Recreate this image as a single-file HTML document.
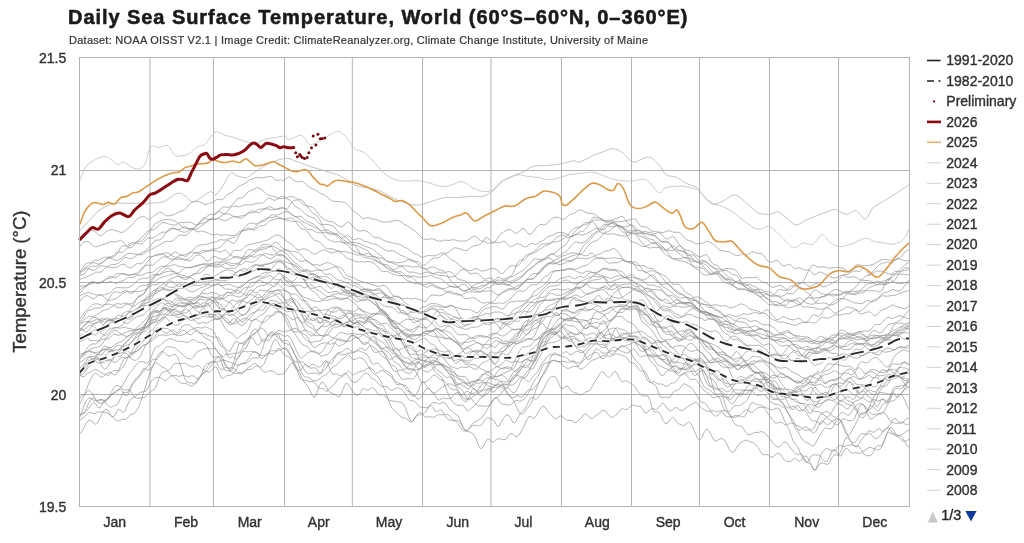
<!DOCTYPE html><html><head><meta charset="utf-8"><style>html,body{margin:0;padding:0;background:#fff}svg{display:block;filter:blur(0.3px)}</style></head><body><svg width="1024" height="543" viewBox="0 0 1024 543">
<rect width="1024" height="543" fill="#fff"/>
<text x="68" y="24.2" font-family="Liberation Sans, Arial, sans-serif" font-weight="bold" font-size="20" fill="#1a1a1a" stroke="#1a1a1a" stroke-width="0.55" textLength="619.5" lengthAdjust="spacing">Daily Sea Surface Temperature, World (60°S–60°N, 0–360°E)</text>
<text x="69" y="44.3" font-family="Liberation Sans, Arial, sans-serif" font-size="11" fill="#333" stroke="#333" stroke-width="0.2" textLength="579" lengthAdjust="spacing">Dataset: NOAA OISST V2.1 | Image Credit: ClimateReanalyzer.org, Climate Change Institute, University of Maine</text>
<defs><clipPath id="c"><rect x="79.5" y="57.5" width="830.0" height="449.0"/></clipPath></defs>
<path d="M150.0 57.5V506.5M213.5 57.5V506.5M284.5 57.5V506.5M352.3 57.5V506.5M422.5 57.5V506.5M491.0 57.5V506.5M561.5 57.5V506.5M631.5 57.5V506.5M699.5 57.5V506.5M769.5 57.5V506.5M838.5 57.5V506.5M79.5 170.50H909.5M79.5 282.50H909.5M79.5 394.50H909.5" stroke="#b4b4b4" stroke-width="1" fill="none"/>
<g clip-path="url(#c)" fill="none" stroke="#8c8c8c" stroke-width="0.65" stroke-linejoin="round">
<path d="M79.5 420.5L81.8 418.7L84.1 417.3L86.3 415.1L88.6 412.5L90.9 412.7L93.2 413.6L95.5 413.2L97.7 412.1L100.0 411.9L102.3 412.1L104.6 412.3L106.9 412.6L109.1 414.1L111.4 416.5L113.7 416.6L116.0 413.2L118.3 409.4L120.5 409.8L122.8 412.7L125.1 411.1L127.4 405.0L129.7 400.2L131.9 398.4L134.2 397.5L136.5 395.6L138.8 393.5L141.1 392.1L143.3 391.8L145.6 391.2L147.9 388.0L150.2 383.4L152.5 379.7L154.7 378.1L157.0 377.5L159.3 377.2L161.6 378.3L163.9 380.2L166.1 380.4L168.4 378.3L170.7 376.1L173.0 376.1L175.3 377.7L177.5 380.0L179.8 382.3L182.1 383.6L184.4 383.3L186.7 383.7L189.0 385.3L191.2 386.1L193.5 385.2L195.8 383.4L198.1 380.5L200.4 376.8L202.6 374.1L204.9 372.6L207.2 370.8L209.5 367.9L211.8 364.9L214.0 361.8L216.3 358.4L218.6 356.9L220.9 357.6L223.2 360.9L225.4 365.5L227.7 367.8L230.0 368.0L232.3 367.7L234.6 369.0L236.8 371.5L239.1 373.7L241.4 374.0L243.7 372.4L246.0 369.6L248.2 367.5L250.5 366.0L252.8 364.1L255.1 363.6L257.4 365.0L259.6 366.9L261.9 366.5L264.2 363.6L266.5 357.8L268.8 352.6L271.0 350.7L273.3 350.9L275.6 351.1L277.9 350.6L280.2 349.9L282.4 349.0L284.7 347.8L287.0 348.4L289.3 352.2L291.6 357.3L293.8 360.8L296.1 361.9L298.4 361.9L300.7 361.8L303.0 362.1L305.2 364.1L307.5 366.7L309.8 366.2L312.1 364.2L314.4 364.6L316.6 366.3L318.9 367.2L321.2 366.2L323.5 362.4L325.8 360.1L328.0 363.6L330.3 370.4L332.6 374.2L334.9 374.1L337.2 373.9L339.4 375.5L341.7 375.5L344.0 373.7L346.3 373.6L348.6 376.5L350.8 380.2L353.1 382.1L355.4 382.4L357.7 381.2L360.0 378.5L362.2 376.1L364.5 373.8L366.8 372.8L369.1 375.2L371.4 378.4L373.6 379.1L375.9 380.3L378.2 383.4L380.5 385.9L382.8 386.6L385.0 386.3L387.3 386.9L389.6 389.4L391.9 390.4L394.2 389.1L396.5 388.0L398.7 387.9L401.0 389.0L403.3 390.9L405.6 394.4L407.9 398.5L410.1 400.4L412.4 400.6L414.7 401.5L417.0 403.7L419.3 406.5L421.5 407.6L423.8 407.3L426.1 407.9L428.4 407.3L430.7 405.5L432.9 407.3L435.2 411.3L437.5 411.3L439.8 409.4L442.1 410.6L444.3 414.4L446.6 417.8L448.9 419.8L451.2 420.4L453.5 420.3L455.7 420.9L458.0 423.6L460.3 427.5L462.6 430.2L464.9 431.1L467.1 430.6L469.4 428.0L471.7 424.5L474.0 422.4L476.3 421.1L478.5 419.8L480.8 418.3L483.1 416.1L485.4 412.7L487.7 409.0L489.9 404.9L492.2 400.8L494.5 398.5L496.8 397.6L499.1 395.9L501.3 393.1L503.6 390.4L505.9 388.2L508.2 387.9L510.5 390.3L512.7 392.7L515.0 392.4L517.3 389.2L519.6 383.6L521.9 378.9L524.1 377.4L526.4 376.8L528.7 372.8L531.0 366.9L533.3 362.6L535.5 358.5L537.8 352.8L540.1 347.8L542.4 345.6L544.7 344.9L546.9 343.8L549.2 342.7L551.5 342.6L553.8 342.5L556.1 341.8L558.3 340.7L560.6 339.0L562.9 336.9L565.2 336.3L567.5 338.0L569.7 339.5L572.0 339.2L574.3 338.5L576.6 339.3L578.9 342.2L581.1 345.5L583.4 347.0L585.7 345.9L588.0 343.9L590.3 343.7L592.5 344.1L594.8 343.5L597.1 342.0L599.4 341.4L601.7 342.3L604.0 343.8L606.2 344.4L608.5 342.5L610.8 340.5L613.1 340.4L615.4 339.5L617.6 337.5L619.9 336.5L622.2 335.5L624.5 334.0L626.8 332.9L629.0 333.1L631.3 333.6L633.6 332.9L635.9 332.2L638.2 331.9L640.4 331.4L642.7 331.7L645.0 333.5L647.3 335.7L649.6 337.0L651.8 338.0L654.1 340.1L656.4 343.8L658.7 348.3L661.0 352.0L663.2 354.9L665.5 357.6L667.8 359.3L670.1 360.7L672.4 362.5L674.6 363.5L676.9 361.8L679.2 358.0L681.5 354.8L683.8 354.0L686.0 355.2L688.3 357.0L690.6 358.0L692.9 358.8L695.2 359.5L697.4 360.5L699.7 363.5L702.0 370.0L704.3 377.5L706.6 383.0L708.8 386.0L711.1 386.3L713.4 385.8L715.7 387.6L718.0 389.4L720.2 388.8L722.5 388.5L724.8 390.4L727.1 391.9L729.4 391.2L731.6 388.7L733.9 385.4L736.2 382.6L738.5 380.6L740.8 379.5L743.0 379.7L745.3 381.5L747.6 383.1L749.9 382.3L752.2 380.4L754.4 379.1L756.7 378.8L759.0 379.3L761.3 379.6L763.6 379.0L765.8 379.7L768.1 381.4L770.4 383.3L772.7 386.5L775.0 391.8L777.2 397.0L779.5 399.2L781.8 399.4L784.1 398.9L786.4 397.7L788.6 397.5L790.9 399.1L793.2 399.5L795.5 399.1L797.8 401.0L800.0 403.2L802.3 403.4L804.6 403.6L806.9 404.7L809.2 406.5L811.5 409.2L813.7 411.4L816.0 411.4L818.3 411.6L820.6 412.9L822.9 413.2L825.1 411.9L827.4 411.5L829.7 413.3L832.0 415.5L834.3 417.0L836.5 417.2L838.8 415.3L841.1 413.0L843.4 412.4L845.7 413.8L847.9 415.5L850.2 414.2L852.5 410.6L854.8 407.0L857.1 404.8L859.3 403.9L861.6 403.7L863.9 405.3L866.2 410.3L868.5 416.4L870.7 419.4L873.0 418.2L875.3 415.9L877.6 414.9L879.9 413.8L882.1 412.6L884.4 412.7L886.7 415.5L889.0 419.5L891.3 422.1L893.5 422.8L895.8 423.4L898.1 423.4L900.4 422.0L902.7 421.9L904.9 424.0L907.2 424.9L909.5 423.4"/>
<path d="M79.5 354.3L81.8 353.7L84.1 352.7L86.3 352.0L88.6 351.1L90.9 351.0L93.2 352.0L95.5 354.0L97.7 354.8L100.0 352.3L102.3 348.1L104.6 346.0L106.9 346.7L109.1 348.5L111.4 350.1L113.7 350.4L116.0 350.1L118.3 349.8L120.5 348.1L122.8 345.4L125.1 343.3L127.4 341.3L129.7 338.7L131.9 336.2L134.2 334.4L136.5 333.8L138.8 333.5L141.1 332.9L143.3 332.2L145.6 331.1L147.9 328.5L150.2 325.0L152.5 322.4L154.7 321.9L157.0 322.1L159.3 320.8L161.6 317.9L163.9 315.2L166.1 313.1L168.4 310.6L170.7 308.2L173.0 306.7L175.3 305.3L177.5 303.5L179.8 302.7L182.1 303.3L184.4 303.9L186.7 304.1L189.0 304.5L191.2 305.7L193.5 307.3L195.8 308.0L198.1 307.7L200.4 306.9L202.6 306.9L204.9 309.1L207.2 313.2L209.5 316.5L211.8 316.9L214.0 315.6L216.3 313.9L218.6 313.4L220.9 315.5L223.2 318.7L225.4 321.1L227.7 323.0L230.0 324.6L232.3 324.4L234.6 322.2L236.8 318.9L239.1 316.5L241.4 315.4L243.7 314.9L246.0 313.8L248.2 311.5L250.5 308.6L252.8 306.2L255.1 305.3L257.4 304.3L259.6 302.2L261.9 299.3L264.2 297.5L266.5 295.6L268.8 292.7L271.0 291.2L273.3 291.2L275.6 290.7L277.9 290.0L280.2 291.2L282.4 294.6L284.7 299.3L287.0 303.7L289.3 306.0L291.6 306.7L293.8 308.8L296.1 313.5L298.4 318.8L300.7 322.1L303.0 323.0L305.2 321.4L307.5 317.3L309.8 312.8L312.1 311.1L314.4 313.6L316.6 318.3L318.9 322.3L321.2 323.0L323.5 319.0L325.8 313.5L328.0 309.7L330.3 308.1L332.6 307.6L334.9 307.3L337.2 307.1L339.4 308.5L341.7 311.4L344.0 313.7L346.3 313.3L348.6 311.7L350.8 312.1L353.1 315.4L355.4 319.5L357.7 322.1L360.0 323.9L362.2 325.6L364.5 327.5L366.8 329.2L369.1 330.9L371.4 332.6L373.6 334.9L375.9 337.6L378.2 339.9L380.5 341.3L382.8 342.5L385.0 344.6L387.3 347.5L389.6 350.7L391.9 352.9L394.2 353.8L396.5 354.4L398.7 355.3L401.0 357.8L403.3 361.2L405.6 363.0L407.9 363.2L410.1 362.9L412.4 361.7L414.7 360.1L417.0 359.3L419.3 359.6L421.5 360.4L423.8 361.2L426.1 361.9L428.4 361.8L430.7 362.2L432.9 364.4L435.2 367.8L437.5 370.4L439.8 371.8L442.1 373.4L444.3 376.0L446.6 377.6L448.9 376.9L451.2 377.3L453.5 381.0L455.7 385.9L458.0 391.1L460.3 395.0L462.6 394.9L464.9 392.6L467.1 391.3L469.4 392.4L471.7 393.7L474.0 393.1L476.3 391.8L478.5 391.1L480.8 390.8L483.1 389.4L485.4 385.5L487.7 380.5L489.9 377.7L492.2 378.1L494.5 379.4L496.8 379.7L499.1 380.1L501.3 381.9L503.6 385.9L505.9 390.9L508.2 394.7L510.5 397.1L512.7 399.4L515.0 403.2L517.3 408.7L519.6 413.1L521.9 414.4L524.1 412.8L526.4 409.4L528.7 406.7L531.0 403.6L533.3 397.6L535.5 391.0L537.8 384.9L540.1 378.9L542.4 375.3L544.7 373.2L546.9 369.1L549.2 364.4L551.5 361.1L553.8 360.1L556.1 360.8L558.3 361.5L560.6 361.5L562.9 361.2L565.2 361.7L567.5 362.5L569.7 362.1L572.0 360.7L574.3 361.2L576.6 364.4L578.9 368.2L581.1 369.3L583.4 367.9L585.7 366.0L588.0 363.9L590.3 361.6L592.5 360.2L594.8 359.5L597.1 358.4L599.4 357.3L601.7 356.3L604.0 355.2L606.2 355.3L608.5 356.2L610.8 356.2L613.1 355.1L615.4 353.9L617.6 354.0L619.9 354.7L622.2 355.4L624.5 356.1L626.8 357.8L629.0 361.2L631.3 363.3L633.6 363.0L635.9 364.6L638.2 368.6L640.4 371.1L642.7 371.0L645.0 371.2L647.3 375.4L649.6 381.0L651.8 383.4L654.1 384.0L656.4 386.7L658.7 393.0L661.0 397.7L663.2 397.6L665.5 396.9L667.8 397.9L670.1 397.2L672.4 393.2L674.6 390.8L676.9 390.9L679.2 389.2L681.5 386.0L683.8 383.8L686.0 384.4L688.3 386.0L690.6 386.9L692.9 389.4L695.2 392.9L697.4 396.5L699.7 400.4L702.0 402.5L704.3 402.7L706.6 404.8L708.8 408.4L711.1 411.8L713.4 415.1L715.7 416.3L718.0 414.8L720.2 412.6L722.5 410.7L724.8 410.4L727.1 412.2L729.4 414.7L731.6 418.5L733.9 422.5L736.2 425.2L738.5 426.0L740.8 425.9L743.0 427.6L745.3 431.5L747.6 434.6L749.9 434.8L752.2 433.6L754.4 432.5L756.7 432.5L759.0 432.3L761.3 431.5L763.6 432.2L765.8 434.3L768.1 436.4L770.4 439.5L772.7 442.8L775.0 445.2L777.2 446.9L779.5 446.9L781.8 444.5L784.1 441.9L786.4 442.4L788.6 445.3L790.9 448.3L793.2 451.5L795.5 453.8L797.8 454.3L800.0 453.8L802.3 454.6L804.6 459.0L806.9 462.6L809.2 463.3L811.5 465.7L813.7 470.0L816.0 469.8L818.3 462.6L820.6 455.2L822.9 451.3L825.1 449.1L827.4 448.6L829.7 449.6L832.0 450.8L834.3 451.1L836.5 448.8L838.8 445.7L841.1 445.5L843.4 446.7L845.7 446.1L847.9 445.5L850.2 445.1L852.5 444.8L854.8 446.2L857.1 446.9L859.3 443.4L861.6 438.9L863.9 436.8L866.2 434.0L868.5 430.9L870.7 430.9L873.0 432.4L875.3 431.5L877.6 429.2L879.9 428.7L882.1 430.8L884.4 431.1L886.7 428.5L889.0 427.8L891.3 431.0L893.5 434.5L895.8 436.2L898.1 436.9L900.4 438.8L902.7 441.1L904.9 441.4L907.2 440.4L909.5 438.5"/>
<path d="M79.5 418.1L81.8 412.4L84.1 405.2L86.3 400.7L88.6 398.2L90.9 398.5L93.2 400.0L95.5 400.9L97.7 400.3L100.0 399.5L102.3 399.8L104.6 401.5L106.9 404.3L109.1 406.6L111.4 407.2L113.7 406.1L116.0 405.0L118.3 403.5L120.5 398.1L122.8 392.7L125.1 392.4L127.4 392.5L129.7 388.8L131.9 384.4L134.2 382.0L136.5 380.2L138.8 377.5L141.1 372.8L143.3 368.7L145.6 368.8L147.9 370.3L150.2 369.1L152.5 365.8L154.7 363.2L157.0 362.7L159.3 364.8L161.6 366.9L163.9 367.7L166.1 369.0L168.4 372.1L170.7 374.9L173.0 375.7L175.3 375.4L177.5 376.0L179.8 376.3L182.1 375.5L184.4 375.5L186.7 376.7L189.0 376.9L191.2 375.7L193.5 376.0L195.8 378.2L198.1 378.8L200.4 376.9L202.6 373.6L204.9 371.4L207.2 371.7L209.5 372.2L211.8 370.2L214.0 367.0L216.3 366.9L218.6 371.5L220.9 377.3L223.2 378.5L225.4 376.3L227.7 375.2L230.0 375.4L232.3 374.2L234.6 372.0L236.8 368.1L239.1 365.0L241.4 363.7L243.7 363.0L246.0 361.6L248.2 359.1L250.5 355.4L252.8 352.3L255.1 351.5L257.4 352.8L259.6 356.7L261.9 358.9L264.2 356.6L266.5 353.6L268.8 352.8L271.0 353.7L273.3 354.2L275.6 351.8L277.9 348.5L280.2 348.7L282.4 352.5L284.7 355.4L287.0 356.1L289.3 357.0L291.6 359.5L293.8 364.5L296.1 369.4L298.4 371.4L300.7 374.8L303.0 380.0L305.2 383.4L307.5 385.7L309.8 389.7L312.1 395.2L314.4 398.0L316.6 394.0L318.9 387.1L321.2 382.4L323.5 382.4L325.8 386.0L328.0 390.3L330.3 392.6L332.6 393.5L334.9 394.5L337.2 396.4L339.4 397.0L341.7 392.8L344.0 386.7L346.3 383.0L348.6 384.5L350.8 388.4L353.1 391.7L355.4 394.5L357.7 395.7L360.0 393.3L362.2 389.3L364.5 388.6L366.8 390.2L369.1 389.6L371.4 387.7L373.6 388.0L375.9 390.9L378.2 394.2L380.5 395.2L382.8 394.5L385.0 395.5L387.3 398.7L389.6 400.6L391.9 400.8L394.2 401.2L396.5 401.6L398.7 402.0L401.0 402.4L403.3 404.0L405.6 408.2L407.9 414.6L410.1 420.4L412.4 421.7L414.7 418.6L417.0 414.7L419.3 412.6L421.5 413.2L423.8 415.9L426.1 417.3L428.4 416.9L430.7 416.8L432.9 417.3L435.2 416.4L437.5 414.9L439.8 414.7L442.1 414.8L444.3 414.5L446.6 414.2L448.9 415.1L451.2 417.8L453.5 420.6L455.7 421.0L458.0 420.6L460.3 422.8L462.6 426.3L464.9 430.1L467.1 431.4L469.4 428.5L471.7 426.0L474.0 425.4L476.3 425.3L478.5 425.9L480.8 425.5L483.1 422.9L485.4 419.4L487.7 417.6L489.9 418.4L492.2 419.0L494.5 421.3L496.8 425.8L499.1 426.2L501.3 422.2L503.6 418.2L505.9 415.2L508.2 414.7L510.5 417.9L512.7 422.1L515.0 422.8L517.3 418.9L519.6 414.5L521.9 411.5L524.1 409.7L526.4 406.5L528.7 401.0L531.0 397.4L533.3 398.0L535.5 399.4L537.8 398.3L540.1 394.9L542.4 391.4L544.7 387.1L546.9 382.1L549.2 378.3L551.5 376.7L553.8 376.4L556.1 377.5L558.3 382.3L560.6 387.9L562.9 388.7L565.2 386.6L567.5 386.1L569.7 388.6L572.0 391.5L574.3 392.7L576.6 393.0L578.9 394.2L581.1 394.9L583.4 393.6L585.7 391.8L588.0 391.5L590.3 390.0L592.5 386.0L594.8 382.0L597.1 378.2L599.4 374.1L601.7 371.7L604.0 372.4L606.2 375.6L608.5 377.6L610.8 376.0L613.1 372.5L615.4 371.3L617.6 374.0L619.9 379.2L622.2 381.9L624.5 380.9L626.8 380.8L629.0 382.3L631.3 383.5L633.6 384.8L635.9 388.1L638.2 392.1L640.4 394.3L642.7 395.9L645.0 396.1L647.3 395.6L649.6 399.2L651.8 406.7L654.1 411.8L656.4 411.9L658.7 411.8L661.0 415.5L663.2 420.8L665.5 423.7L667.8 423.1L670.1 419.6L672.4 417.3L674.6 418.8L676.9 422.2L679.2 424.0L681.5 424.9L683.8 425.7L686.0 424.0L688.3 421.9L690.6 423.2L692.9 427.6L695.2 433.0L697.4 438.0L699.7 440.3L702.0 437.4L704.3 431.9L706.6 429.0L708.8 430.6L711.1 435.0L713.4 439.2L715.7 441.1L718.0 440.0L720.2 438.8L722.5 438.7L724.8 440.4L727.1 444.7L729.4 449.6L731.6 452.3L733.9 451.9L736.2 448.5L738.5 444.4L740.8 442.6L743.0 441.4L745.3 440.2L747.6 440.6L749.9 441.9L752.2 442.2L754.4 443.2L756.7 445.6L759.0 449.0L761.3 453.2L763.6 454.9L765.8 454.5L768.1 454.9L770.4 456.8L772.7 457.3L775.0 455.0L777.2 453.2L779.5 453.7L781.8 456.3L784.1 459.8L786.4 461.6L788.6 461.6L790.9 461.1L793.2 459.5L795.5 458.3L797.8 460.2L800.0 461.5L802.3 458.6L804.6 455.8L806.9 456.6L809.2 460.2L811.5 465.3L813.7 469.4L816.0 469.4L818.3 465.7L820.6 463.0L822.9 463.0L825.1 463.8L827.4 464.5L829.7 462.3L832.0 457.3L834.3 454.6L836.5 455.2L838.8 455.1L841.1 450.9L843.4 443.7L845.7 437.9L847.9 437.6L850.2 440.5L852.5 442.6L854.8 442.6L857.1 439.5L859.3 435.6L861.6 433.6L863.9 433.7L866.2 434.5L868.5 433.8L870.7 433.6L873.0 436.8L875.3 439.0L877.6 438.0L879.9 435.8L882.1 432.7L884.4 429.6L886.7 427.9L889.0 425.9L891.3 422.6L893.5 418.8L895.8 418.6L898.1 421.7L900.4 424.0L902.7 423.1L904.9 420.0L907.2 418.2L909.5 418.4"/>
<path d="M79.5 414.6L81.8 413.6L84.1 412.6L86.3 408.7L88.6 403.2L90.9 399.3L93.2 397.7L95.5 399.6L97.7 401.2L100.0 400.1L102.3 399.7L104.6 400.7L106.9 400.3L109.1 397.5L111.4 394.6L113.7 393.2L116.0 392.3L118.3 390.2L120.5 389.1L122.8 391.9L125.1 395.9L127.4 395.2L129.7 390.9L131.9 386.0L134.2 381.3L136.5 377.8L138.8 376.0L141.1 374.6L143.3 371.6L145.6 368.4L147.9 366.1L150.2 362.8L152.5 359.7L154.7 359.5L157.0 359.5L159.3 356.6L161.6 352.9L163.9 349.5L166.1 347.1L168.4 346.6L170.7 346.9L173.0 347.1L175.3 348.0L177.5 350.0L179.8 352.0L182.1 354.1L184.4 356.4L186.7 357.9L189.0 358.8L191.2 359.1L193.5 356.9L195.8 353.3L198.1 351.3L200.4 350.4L202.6 349.3L204.9 348.6L207.2 348.3L209.5 348.6L211.8 348.7L214.0 348.7L216.3 349.7L218.6 352.7L220.9 356.3L223.2 356.6L225.4 354.3L227.7 353.9L230.0 354.5L232.3 353.7L234.6 353.3L236.8 353.4L239.1 352.9L241.4 349.7L243.7 344.8L246.0 340.5L248.2 338.3L250.5 337.7L252.8 338.3L255.1 341.8L257.4 345.4L259.6 344.4L261.9 340.0L264.2 338.7L266.5 340.2L268.8 340.7L271.0 338.2L273.3 334.5L275.6 332.4L277.9 333.6L280.2 338.2L282.4 342.4L284.7 343.3L287.0 343.9L289.3 345.1L291.6 347.3L293.8 351.5L296.1 357.3L298.4 364.5L300.7 371.1L303.0 375.2L305.2 376.9L307.5 377.1L309.8 378.1L312.1 380.0L314.4 380.7L316.6 380.6L318.9 379.6L321.2 377.7L323.5 375.9L325.8 374.6L328.0 372.8L330.3 369.9L332.6 367.3L334.9 365.9L337.2 364.3L339.4 361.9L341.7 359.7L344.0 358.1L346.3 355.7L348.6 354.7L350.8 357.1L353.1 359.7L355.4 359.3L357.7 358.0L360.0 357.9L362.2 358.4L364.5 360.2L366.8 363.6L369.1 367.8L371.4 371.5L373.6 373.6L375.9 375.1L378.2 377.2L380.5 380.9L382.8 385.7L385.0 390.6L387.3 396.6L389.6 403.4L391.9 408.2L394.2 410.6L396.5 412.3L398.7 414.4L401.0 416.8L403.3 417.9L405.6 418.0L407.9 419.9L410.1 422.3L412.4 421.5L414.7 418.3L417.0 415.2L419.3 414.7L421.5 414.8L423.8 413.5L426.1 411.2L428.4 407.5L430.7 404.1L432.9 402.7L435.2 402.4L437.5 403.3L439.8 403.9L442.1 402.5L444.3 402.3L446.6 405.1L448.9 408.5L451.2 410.6L453.5 412.5L455.7 414.1L458.0 415.7L460.3 420.6L462.6 426.8L464.9 430.1L467.1 431.0L469.4 431.9L471.7 433.1L474.0 434.8L476.3 439.1L478.5 445.4L480.8 448.8L483.1 447.1L485.4 442.4L487.7 438.8L489.9 439.8L492.2 442.2L494.5 441.3L496.8 439.1L499.1 438.8L501.3 439.1L503.6 439.8L505.9 439.3L508.2 436.1L510.5 433.4L512.7 433.9L515.0 436.3L517.3 436.8L519.6 434.2L521.9 430.2L524.1 426.1L526.4 421.1L528.7 416.7L531.0 416.5L533.3 418.5L535.5 417.1L537.8 412.7L540.1 409.0L542.4 406.4L544.7 406.7L546.9 410.1L549.2 413.0L551.5 415.0L553.8 417.7L556.1 418.7L558.3 417.1L560.6 415.8L562.9 417.1L565.2 419.3L567.5 420.6L569.7 420.4L572.0 420.6L574.3 422.5L576.6 422.2L578.9 420.1L581.1 418.0L583.4 414.9L585.7 413.7L588.0 415.9L590.3 418.1L592.5 418.1L594.8 416.4L597.1 414.8L599.4 413.0L601.7 411.0L604.0 410.4L606.2 411.5L608.5 414.8L610.8 417.5L613.1 416.9L615.4 415.6L617.6 413.7L619.9 410.4L622.2 408.6L624.5 409.3L626.8 409.5L629.0 407.6L631.3 405.5L633.6 405.0L635.9 405.8L638.2 406.4L640.4 406.2L642.7 409.3L645.0 413.1L647.3 412.7L649.6 409.8L651.8 408.4L654.1 409.1L656.4 409.7L658.7 407.5L661.0 404.2L663.2 403.2L665.5 405.6L667.8 409.2L670.1 410.9L672.4 409.9L674.6 407.7L676.9 407.7L679.2 409.8L681.5 410.7L683.8 409.8L686.0 408.0L688.3 406.1L690.6 404.9L692.9 403.8L695.2 402.4L697.4 403.1L699.7 406.2L702.0 408.5L704.3 409.8L706.6 411.1L708.8 411.7L711.1 410.9L713.4 410.7L715.7 411.9L718.0 411.7L720.2 410.6L722.5 411.8L724.8 415.3L727.1 416.8L729.4 416.7L731.6 416.9L733.9 416.0L736.2 415.4L738.5 415.6L740.8 416.4L743.0 417.0L745.3 415.8L747.6 411.4L749.9 405.3L752.2 402.2L754.4 403.1L756.7 404.6L759.0 404.8L761.3 405.1L763.6 406.7L765.8 410.0L768.1 413.7L770.4 416.7L772.7 420.2L775.0 422.9L777.2 423.1L779.5 422.0L781.8 422.6L784.1 424.3L786.4 425.1L788.6 428.4L790.9 435.2L793.2 441.1L795.5 444.1L797.8 447.0L800.0 452.3L802.3 457.6L804.6 461.2L806.9 462.5L809.2 459.6L811.5 455.8L813.7 454.8L816.0 454.9L818.3 455.1L820.6 456.5L822.9 459.5L825.1 462.0L827.4 461.1L829.7 456.5L832.0 450.9L834.3 449.1L836.5 452.1L838.8 455.9L841.1 456.0L843.4 451.7L845.7 448.2L847.9 449.0L850.2 452.0L852.5 453.3L854.8 452.6L857.1 452.8L859.3 453.6L861.6 452.5L863.9 450.7L866.2 449.2L868.5 447.7L870.7 447.4L873.0 448.4L875.3 449.2L877.6 450.0L879.9 449.3L882.1 446.1L884.4 440.6L886.7 434.2L889.0 429.0L891.3 426.9L893.5 429.6L895.8 434.4L898.1 435.9L900.4 435.3L902.7 434.3L904.9 432.7L907.2 430.7L909.5 430.4"/>
<path d="M79.5 434.2L81.8 431.6L84.1 427.3L86.3 423.2L88.6 420.3L90.9 420.3L93.2 422.3L95.5 424.4L97.7 423.0L100.0 417.9L102.3 413.0L104.6 409.9L106.9 409.4L109.1 412.1L111.4 415.8L113.7 418.4L116.0 420.2L118.3 421.2L120.5 420.0L122.8 419.0L125.1 419.7L127.4 418.2L129.7 415.3L131.9 414.3L134.2 413.5L136.5 410.6L138.8 406.4L141.1 400.8L143.3 393.7L145.6 386.4L147.9 379.1L150.2 372.4L152.5 366.9L154.7 361.8L157.0 357.2L159.3 353.4L161.6 351.4L163.9 352.1L166.1 354.3L168.4 356.0L170.7 356.0L173.0 354.6L175.3 354.3L177.5 357.2L179.8 362.9L182.1 370.1L184.4 377.4L186.7 381.9L189.0 382.6L191.2 382.9L193.5 383.8L195.8 382.2L198.1 378.8L200.4 376.1L202.6 371.4L204.9 365.6L207.2 363.1L209.5 363.1L211.8 362.3L214.0 361.4L216.3 362.4L218.6 366.7L220.9 369.7L223.2 369.0L225.4 367.4L227.7 367.9L230.0 370.8L232.3 369.8L234.6 364.9L236.8 359.7L239.1 355.6L241.4 352.5L243.7 351.1L246.0 351.8L248.2 351.9L250.5 351.1L252.8 351.6L255.1 352.4L257.4 352.9L259.6 354.5L261.9 355.6L264.2 355.9L266.5 355.0L268.8 352.3L271.0 347.5L273.3 341.6L275.6 339.0L277.9 341.5L280.2 346.1L282.4 348.4L284.7 348.7L287.0 350.3L289.3 353.9L291.6 357.8L293.8 361.7L296.1 367.2L298.4 373.6L300.7 378.8L303.0 380.4L305.2 380.3L307.5 381.3L309.8 381.8L312.1 381.3L314.4 382.0L316.6 385.2L318.9 388.5L321.2 388.4L323.5 388.7L325.8 391.2L328.0 390.7L330.3 387.9L332.6 386.2L334.9 383.6L337.2 380.1L339.4 377.9L341.7 376.9L344.0 375.5L346.3 372.6L348.6 370.9L350.8 372.9L353.1 375.0L355.4 373.8L357.7 372.4L360.0 371.7L362.2 371.1L364.5 370.4L366.8 368.7L369.1 367.6L371.4 368.1L373.6 370.8L375.9 373.2L378.2 372.6L380.5 370.9L382.8 370.4L385.0 371.9L387.3 374.3L389.6 375.5L391.9 377.2L394.2 380.9L396.5 384.4L398.7 384.8L401.0 383.8L403.3 385.1L405.6 389.0L407.9 391.2L410.1 391.7L412.4 393.2L414.7 395.6L417.0 398.2L419.3 399.3L421.5 397.0L423.8 392.7L426.1 389.0L428.4 388.3L430.7 390.7L432.9 393.1L435.2 395.9L437.5 399.4L439.8 400.1L442.1 398.3L444.3 398.0L446.6 398.7L448.9 398.6L451.2 397.7L453.5 395.6L455.7 392.8L458.0 392.5L460.3 396.1L462.6 399.8L464.9 401.5L467.1 401.0L469.4 396.8L471.7 390.7L474.0 387.9L476.3 390.5L478.5 394.0L480.8 396.1L483.1 396.5L485.4 392.8L487.7 388.3L489.9 388.6L492.2 391.9L494.5 392.0L496.8 388.7L499.1 386.4L501.3 385.5L503.6 384.9L505.9 384.9L508.2 383.7L510.5 380.5L512.7 378.4L515.0 377.5L517.3 375.2L519.6 371.4L521.9 367.9L524.1 364.6L526.4 361.7L528.7 360.1L531.0 360.5L533.3 361.9L535.5 360.8L537.8 354.8L540.1 346.5L542.4 341.8L544.7 342.1L546.9 341.4L549.2 337.8L551.5 334.7L553.8 333.7L556.1 333.5L558.3 332.4L560.6 329.2L562.9 325.3L565.2 324.0L567.5 325.0L569.7 326.0L572.0 325.7L574.3 326.0L576.6 328.4L578.9 331.3L581.1 333.0L583.4 335.3L585.7 339.4L588.0 341.8L590.3 341.1L592.5 339.8L594.8 340.2L597.1 342.9L599.4 345.6L601.7 347.2L604.0 347.7L606.2 346.6L608.5 343.9L610.8 340.4L613.1 338.4L615.4 338.2L617.6 337.4L619.9 335.0L622.2 333.1L624.5 333.4L626.8 334.6L629.0 335.5L631.3 336.6L633.6 336.9L635.9 336.3L638.2 336.9L640.4 338.8L642.7 342.6L645.0 348.5L647.3 355.1L649.6 360.1L651.8 362.5L654.1 364.4L656.4 367.5L658.7 371.8L661.0 375.3L663.2 375.5L665.5 372.6L667.8 370.7L670.1 370.9L672.4 370.8L674.6 371.5L676.9 374.2L679.2 375.8L681.5 374.8L683.8 373.0L686.0 373.9L688.3 377.4L690.6 379.7L692.9 379.3L695.2 379.1L697.4 381.4L699.7 384.5L702.0 387.6L704.3 390.7L706.6 392.1L708.8 393.7L711.1 396.4L713.4 397.8L715.7 397.2L718.0 396.6L720.2 396.5L722.5 396.4L724.8 397.1L727.1 398.1L729.4 396.8L731.6 393.3L733.9 389.8L736.2 389.5L738.5 390.3L740.8 389.9L743.0 389.9L745.3 390.5L747.6 390.3L749.9 389.8L752.2 391.0L754.4 393.7L756.7 395.2L759.0 395.3L761.3 394.7L763.6 394.2L765.8 395.8L768.1 399.1L770.4 401.5L772.7 403.2L775.0 404.2L777.2 404.4L779.5 405.2L781.8 406.5L784.1 407.5L786.4 409.5L788.6 413.5L790.9 417.0L793.2 420.0L795.5 424.8L797.8 429.7L800.0 430.5L802.3 428.2L804.6 426.7L806.9 427.3L809.2 429.2L811.5 431.7L813.7 433.1L816.0 431.3L818.3 426.6L820.6 422.3L822.9 421.1L825.1 423.1L827.4 424.9L829.7 423.6L832.0 421.5L834.3 420.4L836.5 418.9L838.8 418.5L841.1 421.9L843.4 427.6L845.7 433.4L847.9 435.9L850.2 434.0L852.5 429.6L854.8 425.3L857.1 420.9L859.3 416.0L861.6 413.2L863.9 412.7L866.2 412.1L868.5 409.3L870.7 403.6L873.0 399.5L875.3 399.8L877.6 401.1L879.9 400.5L882.1 399.1L884.4 399.3L886.7 401.6L889.0 401.9L891.3 397.3L893.5 391.4L895.8 388.5L898.1 387.9L900.4 388.7L902.7 388.0L904.9 384.4L907.2 381.7L909.5 381.1"/>
<path d="M79.5 415.3L81.8 414.3L84.1 413.2L86.3 411.3L88.6 408.4L90.9 404.9L93.2 402.3L95.5 403.6L97.7 407.3L100.0 408.1L102.3 403.9L104.6 400.0L106.9 398.9L109.1 397.7L111.4 395.2L113.7 392.5L116.0 390.5L118.3 389.8L120.5 387.9L122.8 384.9L125.1 381.3L127.4 376.8L129.7 373.0L131.9 370.6L134.2 367.4L136.5 364.3L138.8 362.2L141.1 361.3L143.3 361.8L145.6 363.0L147.9 363.0L150.2 359.8L152.5 353.7L154.7 348.4L157.0 346.4L159.3 346.1L161.6 344.0L163.9 342.0L166.1 340.5L168.4 339.1L170.7 338.6L173.0 339.6L175.3 340.5L177.5 341.2L179.8 341.5L182.1 341.3L184.4 341.8L186.7 342.7L189.0 342.1L191.2 340.3L193.5 339.4L195.8 340.7L198.1 342.3L200.4 342.6L202.6 342.5L204.9 343.7L207.2 346.6L209.5 351.4L211.8 355.4L214.0 357.5L216.3 356.9L218.6 356.3L220.9 360.5L223.2 367.2L225.4 370.6L227.7 370.6L230.0 371.2L232.3 372.4L234.6 373.5L236.8 373.4L239.1 372.7L241.4 372.5L243.7 371.8L246.0 370.4L248.2 369.5L250.5 369.6L252.8 368.3L255.1 366.6L257.4 365.7L259.6 367.1L261.9 369.9L264.2 372.1L266.5 372.1L268.8 370.9L271.0 370.5L273.3 371.3L275.6 372.9L277.9 374.7L280.2 374.4L282.4 373.8L284.7 372.8L287.0 369.6L289.3 365.8L291.6 363.2L293.8 363.3L296.1 366.9L298.4 370.4L300.7 370.0L303.0 366.4L305.2 364.2L307.5 365.8L309.8 368.1L312.1 368.1L314.4 367.5L316.6 369.3L318.9 372.5L321.2 372.7L323.5 367.1L325.8 361.9L328.0 361.8L330.3 363.6L332.6 362.5L334.9 358.0L337.2 353.9L339.4 353.7L341.7 354.9L344.0 354.7L346.3 353.8L348.6 352.9L350.8 353.1L353.1 352.8L355.4 351.6L357.7 349.6L360.0 348.0L362.2 348.4L364.5 350.3L366.8 349.3L369.1 346.1L371.4 345.6L373.6 347.3L375.9 348.8L378.2 351.1L380.5 354.3L382.8 356.6L385.0 358.0L387.3 359.4L389.6 363.0L391.9 365.4L394.2 365.8L396.5 368.5L398.7 374.3L401.0 378.4L403.3 379.7L405.6 379.1L407.9 378.4L410.1 378.8L412.4 379.2L414.7 377.7L417.0 373.7L419.3 369.4L421.5 366.4L423.8 365.4L426.1 364.8L428.4 363.6L430.7 361.7L432.9 360.0L435.2 360.7L437.5 362.6L439.8 363.6L442.1 364.3L444.3 365.4L446.6 366.5L448.9 368.5L451.2 371.3L453.5 372.5L455.7 374.4L458.0 377.7L460.3 379.3L462.6 379.7L464.9 381.7L467.1 385.1L469.4 386.4L471.7 385.7L474.0 385.0L476.3 382.4L478.5 378.8L480.8 375.9L483.1 374.3L485.4 374.0L487.7 375.1L489.9 376.4L492.2 376.7L494.5 377.1L496.8 376.6L499.1 375.7L501.3 375.1L503.6 375.9L505.9 378.2L508.2 380.7L510.5 381.9L512.7 380.3L515.0 376.7L517.3 372.8L519.6 370.2L521.9 368.0L524.1 365.6L526.4 365.0L528.7 367.2L531.0 369.4L533.3 368.6L535.5 364.5L537.8 359.9L540.1 356.1L542.4 352.2L544.7 347.2L546.9 342.7L549.2 339.8L551.5 337.3L553.8 335.5L556.1 333.9L558.3 331.6L560.6 331.1L562.9 333.7L565.2 337.6L567.5 340.3L569.7 341.1L572.0 341.2L574.3 343.9L576.6 348.1L578.9 350.6L581.1 350.4L583.4 351.9L585.7 356.4L588.0 359.9L590.3 359.0L592.5 354.7L594.8 350.1L597.1 348.4L599.4 350.3L601.7 353.0L604.0 353.3L606.2 353.0L608.5 352.5L610.8 351.1L613.1 350.6L615.4 351.4L617.6 350.1L619.9 346.8L622.2 345.5L624.5 346.7L626.8 347.7L629.0 349.3L631.3 353.3L633.6 357.6L635.9 360.6L638.2 362.8L640.4 365.2L642.7 369.3L645.0 375.1L647.3 380.3L649.6 382.7L651.8 382.0L654.1 381.5L656.4 383.1L658.7 384.2L661.0 383.9L663.2 384.5L665.5 386.4L667.8 386.2L670.1 383.9L672.4 383.1L674.6 382.6L676.9 380.3L679.2 377.2L681.5 375.0L683.8 373.7L686.0 372.4L688.3 371.8L690.6 371.6L692.9 371.0L695.2 371.9L697.4 374.1L699.7 377.3L702.0 382.5L704.3 387.1L706.6 388.7L708.8 389.5L711.1 391.2L713.4 393.3L715.7 394.3L718.0 394.2L720.2 393.6L722.5 395.4L724.8 402.9L727.1 410.3L729.4 411.5L731.6 409.1L733.9 405.9L736.2 405.4L738.5 405.7L740.8 405.1L743.0 403.2L745.3 401.9L747.6 399.7L749.9 394.6L752.2 390.4L754.4 388.1L756.7 386.7L759.0 384.9L761.3 381.5L763.6 377.9L765.8 376.7L768.1 378.2L770.4 380.4L772.7 381.2L775.0 381.0L777.2 383.1L779.5 388.6L781.8 393.7L784.1 395.9L786.4 394.8L788.6 392.1L790.9 392.0L793.2 392.5L795.5 390.2L797.8 387.2L800.0 389.0L802.3 393.9L804.6 397.6L806.9 399.4L809.2 397.8L811.5 392.1L813.7 387.4L816.0 387.6L818.3 391.1L820.6 393.3L822.9 393.5L825.1 395.0L827.4 397.3L829.7 395.9L832.0 390.0L834.3 385.5L836.5 383.6L838.8 383.0L841.1 383.3L843.4 383.6L845.7 382.4L847.9 381.0L850.2 382.5L852.5 385.4L854.8 388.6L857.1 392.6L859.3 394.0L861.6 392.1L863.9 390.9L866.2 393.5L868.5 397.0L870.7 398.1L873.0 400.6L875.3 405.3L877.6 406.8L879.9 402.3L882.1 398.9L884.4 400.8L886.7 403.6L889.0 400.8L891.3 393.3L893.5 387.9L895.8 386.6L898.1 386.4L900.4 386.0L902.7 385.7L904.9 385.4L907.2 383.4L909.5 380.1"/>
<path d="M79.5 331.0L81.8 328.9L84.1 326.6L86.3 324.1L88.6 320.9L90.9 318.6L93.2 317.6L95.5 317.4L97.7 318.2L100.0 320.8L102.3 324.3L104.6 326.2L106.9 325.4L109.1 322.9L111.4 320.9L113.7 320.4L116.0 321.1L118.3 320.5L120.5 318.1L122.8 316.3L125.1 315.5L127.4 313.9L129.7 312.2L131.9 312.2L134.2 312.9L136.5 311.7L138.8 308.4L141.1 305.9L143.3 305.5L145.6 305.8L147.9 305.3L150.2 303.3L152.5 301.0L154.7 299.8L157.0 299.2L159.3 298.4L161.6 298.2L163.9 299.3L166.1 300.6L168.4 300.8L170.7 301.2L173.0 303.2L175.3 305.2L177.5 305.7L179.8 305.8L182.1 306.8L184.4 306.7L186.7 304.9L189.0 303.3L191.2 302.7L193.5 303.4L195.8 303.2L198.1 300.5L200.4 297.7L202.6 297.0L204.9 297.3L207.2 297.4L209.5 297.3L211.8 296.8L214.0 297.5L216.3 300.7L218.6 305.7L220.9 309.8L223.2 310.3L225.4 307.2L227.7 303.5L230.0 300.9L232.3 300.0L234.6 301.0L236.8 301.5L239.1 300.4L241.4 300.0L243.7 301.3L246.0 302.4L248.2 302.9L250.5 302.8L252.8 302.8L255.1 303.3L257.4 302.4L259.6 300.8L261.9 299.9L264.2 299.5L266.5 298.8L268.8 297.8L271.0 296.9L273.3 295.8L275.6 294.4L277.9 293.5L280.2 294.1L282.4 296.5L284.7 299.3L287.0 300.4L289.3 299.2L291.6 297.8L293.8 298.6L296.1 300.4L298.4 302.9L300.7 306.7L303.0 309.3L305.2 310.4L307.5 311.5L309.8 311.4L312.1 309.1L314.4 306.8L316.6 307.2L318.9 309.9L321.2 313.0L323.5 314.6L325.8 314.2L328.0 314.5L330.3 315.7L332.6 316.2L334.9 316.6L337.2 317.7L339.4 318.7L341.7 318.5L344.0 317.2L346.3 315.0L348.6 313.6L350.8 313.7L353.1 314.1L355.4 313.8L357.7 313.9L360.0 314.7L362.2 314.9L364.5 315.3L366.8 317.1L369.1 319.5L371.4 322.2L373.6 324.8L375.9 326.7L378.2 327.7L380.5 328.2L382.8 328.8L385.0 332.5L387.3 337.9L389.6 339.5L391.9 337.4L394.2 335.8L396.5 335.1L398.7 334.1L401.0 332.6L403.3 330.8L405.6 329.9L407.9 330.3L410.1 331.4L412.4 332.3L414.7 331.5L417.0 328.5L419.3 324.7L421.5 323.2L423.8 325.6L426.1 329.1L428.4 330.6L430.7 330.7L432.9 331.1L435.2 332.9L437.5 337.2L439.8 342.0L442.1 344.5L444.3 346.5L446.6 348.6L448.9 351.1L451.2 355.9L453.5 361.2L455.7 363.5L458.0 362.1L460.3 360.3L462.6 361.1L464.9 363.7L467.1 365.1L469.4 364.8L471.7 364.5L474.0 364.6L476.3 365.6L478.5 367.3L480.8 368.6L483.1 369.7L485.4 371.0L487.7 371.6L489.9 371.2L492.2 369.8L494.5 368.0L496.8 366.8L499.1 366.0L501.3 364.5L503.6 361.9L505.9 360.0L508.2 360.9L510.5 362.5L512.7 362.2L515.0 361.4L517.3 361.7L519.6 362.3L521.9 361.9L524.1 360.4L526.4 359.1L528.7 359.7L531.0 361.2L533.3 360.7L535.5 355.6L537.8 346.8L540.1 339.0L542.4 334.6L544.7 332.2L546.9 330.8L549.2 330.6L551.5 331.6L553.8 332.9L556.1 332.3L558.3 329.9L560.6 327.6L562.9 327.6L565.2 330.1L567.5 332.9L569.7 336.2L572.0 340.7L574.3 344.8L576.6 346.9L578.9 347.3L581.1 346.3L583.4 345.0L585.7 344.1L588.0 342.8L590.3 341.5L592.5 340.1L594.8 338.8L597.1 337.4L599.4 334.5L601.7 331.8L604.0 330.7L606.2 328.6L608.5 324.8L610.8 321.0L613.1 318.0L615.4 316.6L617.6 316.5L619.9 316.5L622.2 316.8L624.5 318.7L626.8 321.1L629.0 322.1L631.3 322.8L633.6 324.3L635.9 326.8L638.2 330.2L640.4 334.1L642.7 337.6L645.0 339.1L647.3 339.4L649.6 341.2L651.8 344.5L654.1 347.3L656.4 348.1L658.7 347.1L661.0 347.7L663.2 351.7L665.5 354.9L667.8 355.6L670.1 357.9L672.4 361.3L674.6 362.1L676.9 362.1L679.2 362.7L681.5 363.2L683.8 363.9L686.0 364.5L688.3 363.8L690.6 362.6L692.9 360.6L695.2 358.9L697.4 360.0L699.7 361.9L702.0 362.6L704.3 363.5L706.6 365.4L708.8 368.5L711.1 371.8L713.4 374.8L715.7 377.6L718.0 379.6L720.2 380.5L722.5 381.7L724.8 384.8L727.1 387.0L729.4 386.3L731.6 384.2L733.9 382.3L736.2 382.1L738.5 382.5L740.8 381.6L743.0 380.2L745.3 379.8L747.6 380.6L749.9 381.2L752.2 380.7L754.4 381.0L756.7 382.0L759.0 381.7L761.3 381.9L763.6 384.4L765.8 388.2L768.1 392.8L770.4 397.2L772.7 399.7L775.0 399.2L777.2 398.2L779.5 399.7L781.8 402.8L784.1 405.8L786.4 409.7L788.6 414.2L790.9 418.9L793.2 424.4L795.5 428.6L797.8 431.6L800.0 435.6L802.3 439.4L804.6 441.9L806.9 442.7L809.2 443.5L811.5 445.6L813.7 446.1L816.0 442.4L818.3 437.7L820.6 434.3L822.9 430.5L825.1 427.9L827.4 428.2L829.7 429.1L832.0 428.4L834.3 425.1L836.5 420.4L838.8 418.3L841.1 420.7L843.4 425.1L845.7 430.1L847.9 435.5L850.2 440.1L852.5 444.3L854.8 446.4L857.1 445.9L859.3 446.6L861.6 450.0L863.9 454.1L866.2 455.6L868.5 455.7L870.7 455.6L873.0 452.9L875.3 447.6L877.6 445.3L879.9 446.2L882.1 445.2L884.4 439.6L886.7 434.0L889.0 432.6L891.3 433.4L893.5 433.7L895.8 434.6L898.1 435.3L900.4 436.1L902.7 438.1L904.9 442.0L907.2 446.1L909.5 447.5"/>
<path d="M79.5 376.5L81.8 374.9L84.1 372.6L86.3 369.7L88.6 367.2L90.9 364.9L93.2 361.3L95.5 358.0L97.7 357.2L100.0 359.2L102.3 360.0L104.6 357.2L106.9 353.8L109.1 351.7L111.4 350.0L113.7 350.6L116.0 353.8L118.3 356.6L120.5 356.4L122.8 354.0L125.1 352.6L127.4 353.9L129.7 356.9L131.9 359.2L134.2 360.3L136.5 360.0L138.8 358.3L141.1 354.9L143.3 349.8L145.6 345.3L147.9 342.6L150.2 341.7L152.5 340.7L154.7 338.4L157.0 336.3L159.3 335.3L161.6 335.0L163.9 335.1L166.1 335.2L168.4 335.0L170.7 334.5L173.0 334.2L175.3 334.3L177.5 334.2L179.8 332.6L182.1 330.3L184.4 330.4L186.7 332.7L189.0 334.7L191.2 334.8L193.5 332.9L195.8 330.5L198.1 330.5L200.4 333.1L202.6 335.6L204.9 337.8L207.2 339.1L209.5 340.1L211.8 342.4L214.0 346.1L216.3 349.9L218.6 353.0L220.9 355.1L223.2 358.7L225.4 364.1L227.7 368.2L230.0 369.6L232.3 366.3L234.6 359.2L236.8 350.1L239.1 343.7L241.4 342.9L243.7 344.3L246.0 343.7L248.2 340.0L250.5 334.7L252.8 330.2L255.1 328.8L257.4 330.3L259.6 335.5L261.9 341.0L264.2 342.0L266.5 338.3L268.8 334.3L271.0 333.1L273.3 334.4L275.6 334.8L277.9 333.9L280.2 333.7L282.4 335.3L284.7 336.4L287.0 335.6L289.3 336.3L291.6 340.0L293.8 345.1L296.1 350.2L298.4 355.4L300.7 358.1L303.0 357.4L305.2 355.1L307.5 352.8L309.8 351.7L312.1 351.7L314.4 352.3L316.6 353.1L318.9 353.5L321.2 352.5L323.5 349.7L325.8 345.8L328.0 342.6L330.3 340.8L332.6 339.6L334.9 337.5L337.2 335.0L339.4 333.1L341.7 332.3L344.0 333.1L346.3 334.1L348.6 334.2L350.8 333.5L353.1 333.5L355.4 334.0L357.7 334.4L360.0 334.2L362.2 334.5L364.5 335.3L366.8 336.7L369.1 338.5L371.4 340.3L373.6 342.1L375.9 343.9L378.2 345.7L380.5 348.3L382.8 351.6L385.0 355.4L387.3 359.8L389.6 363.7L391.9 368.1L394.2 371.5L396.5 371.7L398.7 370.3L401.0 369.8L403.3 370.9L405.6 372.3L407.9 373.3L410.1 373.4L412.4 371.2L414.7 367.7L417.0 364.0L419.3 362.7L421.5 365.0L423.8 366.9L426.1 365.9L428.4 364.1L430.7 364.7L432.9 367.8L435.2 371.6L437.5 374.3L439.8 376.0L442.1 378.5L444.3 383.8L446.6 390.1L448.9 395.4L451.2 399.8L453.5 402.7L455.7 404.5L458.0 405.6L460.3 405.2L462.6 405.0L464.9 407.6L467.1 410.6L469.4 410.2L471.7 408.0L474.0 406.2L476.3 403.9L478.5 400.8L480.8 398.1L483.1 396.4L485.4 395.2L487.7 393.4L489.9 390.8L492.2 387.8L494.5 385.4L496.8 385.5L499.1 386.5L501.3 387.3L503.6 388.8L505.9 391.0L508.2 393.9L510.5 396.8L512.7 397.9L515.0 396.7L517.3 395.5L519.6 396.5L521.9 397.5L524.1 395.6L526.4 391.7L528.7 389.7L531.0 389.9L533.3 389.0L535.5 386.6L537.8 383.7L540.1 380.3L542.4 376.1L544.7 370.9L546.9 366.3L549.2 361.5L551.5 356.0L553.8 352.9L556.1 353.4L558.3 355.2L560.6 355.4L562.9 353.5L565.2 351.7L567.5 352.2L569.7 354.5L572.0 354.5L574.3 352.4L576.6 351.2L578.9 351.8L581.1 352.7L583.4 351.9L585.7 350.1L588.0 347.4L590.3 344.4L592.5 341.9L594.8 340.2L597.1 337.5L599.4 333.5L601.7 332.5L604.0 335.7L606.2 340.3L608.5 342.1L610.8 338.7L613.1 332.9L615.4 328.4L617.6 327.8L619.9 329.0L622.2 329.4L624.5 330.0L626.8 331.8L629.0 334.0L631.3 337.4L633.6 341.4L635.9 343.6L638.2 344.1L640.4 345.3L642.7 348.2L645.0 350.1L647.3 349.7L649.6 348.0L651.8 344.8L654.1 342.1L656.4 340.5L658.7 340.8L661.0 342.6L663.2 341.9L665.5 339.8L667.8 339.6L670.1 340.0L672.4 339.0L674.6 337.5L676.9 337.4L679.2 338.7L681.5 339.6L683.8 338.9L686.0 337.3L688.3 336.0L690.6 335.8L692.9 337.0L695.2 338.5L697.4 338.7L699.7 338.4L702.0 340.1L704.3 343.9L706.6 347.4L708.8 349.0L711.1 349.1L713.4 349.5L715.7 351.3L718.0 352.9L720.2 352.7L722.5 351.8L724.8 352.6L727.1 355.3L729.4 357.5L731.6 357.4L733.9 354.2L736.2 351.4L738.5 352.7L740.8 356.1L743.0 359.0L745.3 360.8L747.6 360.7L749.9 358.7L752.2 356.8L754.4 356.3L756.7 356.9L759.0 356.9L761.3 357.9L763.6 360.3L765.8 362.4L768.1 363.5L770.4 363.6L772.7 364.5L775.0 367.0L777.2 370.2L779.5 372.4L781.8 373.2L784.1 374.1L786.4 376.0L788.6 377.4L790.9 378.3L793.2 379.9L795.5 382.1L797.8 382.8L800.0 381.7L802.3 379.9L804.6 378.5L806.9 378.6L809.2 380.3L811.5 383.2L813.7 385.4L816.0 385.5L818.3 384.5L820.6 384.3L822.9 385.7L825.1 387.1L827.4 387.2L829.7 386.3L832.0 385.2L834.3 384.2L836.5 384.4L838.8 386.6L841.1 389.3L843.4 389.4L845.7 387.0L847.9 383.4L850.2 381.7L852.5 383.2L854.8 386.8L857.1 390.9L859.3 392.7L861.6 391.2L863.9 389.3L866.2 387.8L868.5 385.0L870.7 381.6L873.0 378.7L875.3 377.4L877.6 378.2L879.9 379.6L882.1 379.7L884.4 379.1L886.7 377.7L889.0 375.4L891.3 374.3L893.5 374.1L895.8 371.6L898.1 367.8L900.4 367.1L902.7 367.8L904.9 368.0L907.2 368.7L909.5 369.8"/>
<path d="M79.5 368.4L81.8 365.9L84.1 364.0L86.3 360.9L88.6 357.5L90.9 356.6L93.2 356.5L95.5 355.9L97.7 354.1L100.0 351.7L102.3 349.8L104.6 348.9L106.9 349.9L109.1 351.9L111.4 351.5L113.7 348.7L116.0 346.2L118.3 345.2L120.5 345.9L122.8 346.5L125.1 345.8L127.4 345.0L129.7 344.2L131.9 342.2L134.2 338.7L136.5 335.2L138.8 332.6L141.1 330.1L143.3 328.8L145.6 328.1L147.9 326.7L150.2 322.2L152.5 315.7L154.7 311.7L157.0 311.1L159.3 311.4L161.6 310.1L163.9 308.2L166.1 307.6L168.4 308.1L170.7 309.3L173.0 310.4L175.3 311.2L177.5 311.8L179.8 312.6L182.1 314.3L184.4 316.0L186.7 317.0L189.0 317.4L191.2 317.7L193.5 319.2L195.8 321.7L198.1 323.6L200.4 323.3L202.6 322.5L204.9 323.0L207.2 323.1L209.5 321.6L211.8 320.0L214.0 319.7L216.3 319.3L218.6 317.7L220.9 316.3L223.2 316.4L225.4 317.6L227.7 319.6L230.0 322.2L232.3 323.5L234.6 323.6L236.8 322.8L239.1 321.1L241.4 319.9L243.7 318.7L246.0 318.2L248.2 319.1L250.5 320.4L252.8 320.5L255.1 319.5L257.4 317.3L259.6 315.5L261.9 314.5L264.2 313.3L266.5 310.3L268.8 306.8L271.0 304.3L273.3 303.5L275.6 303.6L277.9 303.8L280.2 303.1L282.4 303.2L284.7 305.2L287.0 308.0L289.3 310.1L291.6 311.3L293.8 311.2L296.1 310.4L298.4 310.4L300.7 312.5L303.0 316.3L305.2 320.1L307.5 322.1L309.8 322.8L312.1 324.4L314.4 327.9L316.6 332.1L318.9 334.9L321.2 335.6L323.5 336.0L325.8 335.9L328.0 334.3L330.3 331.1L332.6 328.2L334.9 326.9L337.2 327.0L339.4 326.5L341.7 324.4L344.0 323.5L346.3 324.6L348.6 325.4L350.8 325.0L353.1 324.5L355.4 323.0L357.7 320.8L360.0 320.5L362.2 322.4L364.5 322.8L366.8 320.3L369.1 317.6L371.4 317.6L373.6 319.6L375.9 322.4L378.2 324.3L380.5 324.8L382.8 325.3L385.0 328.5L387.3 333.4L389.6 335.7L391.9 335.6L394.2 336.0L396.5 336.9L398.7 337.5L401.0 339.4L403.3 344.2L405.6 349.4L407.9 352.8L410.1 354.3L412.4 354.3L414.7 354.0L417.0 354.5L419.3 355.2L421.5 354.7L423.8 353.4L426.1 351.9L428.4 350.6L430.7 349.7L432.9 349.1L435.2 348.9L437.5 349.4L439.8 350.8L442.1 351.6L444.3 352.2L446.6 351.6L448.9 350.7L451.2 352.1L453.5 354.8L455.7 356.7L458.0 357.6L460.3 358.3L462.6 359.8L464.9 361.8L467.1 363.2L469.4 362.8L471.7 360.5L474.0 358.5L476.3 358.5L478.5 357.8L480.8 355.2L483.1 354.1L485.4 355.1L487.7 354.8L489.9 352.6L492.2 351.9L494.5 353.0L496.8 353.3L499.1 351.2L501.3 348.3L503.6 346.4L505.9 345.9L508.2 345.8L510.5 344.9L512.7 343.5L515.0 342.3L517.3 341.5L519.6 340.7L521.9 338.8L524.1 336.5L526.4 334.8L528.7 332.9L531.0 330.6L533.3 329.0L535.5 328.4L537.8 327.0L540.1 324.2L542.4 323.3L544.7 325.7L546.9 328.3L549.2 329.2L551.5 329.4L553.8 329.8L556.1 329.0L558.3 326.9L560.6 325.6L562.9 326.2L565.2 328.3L567.5 330.3L569.7 331.8L572.0 333.5L574.3 334.9L576.6 334.5L578.9 332.8L581.1 332.6L583.4 334.1L585.7 335.1L588.0 334.7L590.3 333.5L592.5 332.9L594.8 333.7L597.1 335.8L599.4 338.1L601.7 338.6L604.0 336.2L606.2 332.2L608.5 329.6L610.8 328.7L613.1 328.0L615.4 328.3L617.6 331.3L619.9 335.5L622.2 338.6L624.5 340.3L626.8 340.2L629.0 338.8L631.3 337.3L633.6 337.2L635.9 338.6L638.2 340.4L640.4 342.1L642.7 345.4L645.0 350.3L647.3 354.5L649.6 355.6L651.8 356.1L654.1 359.2L656.4 363.3L658.7 365.4L661.0 366.4L663.2 367.6L665.5 368.5L667.8 369.4L670.1 369.1L672.4 367.0L674.6 365.9L676.9 367.5L679.2 368.9L681.5 368.9L683.8 369.1L686.0 370.0L688.3 369.8L690.6 367.4L692.9 365.1L695.2 362.9L697.4 360.5L699.7 359.7L702.0 360.8L704.3 362.2L706.6 362.5L708.8 361.7L711.1 360.2L713.4 358.7L715.7 359.1L718.0 362.2L720.2 365.5L722.5 366.9L724.8 367.3L727.1 367.3L729.4 367.7L731.6 368.2L733.9 367.0L736.2 365.2L738.5 364.7L740.8 365.4L743.0 365.8L745.3 365.7L747.6 364.5L749.9 362.4L752.2 361.1L754.4 361.1L756.7 361.6L759.0 362.0L761.3 361.8L763.6 360.8L765.8 360.8L768.1 361.9L770.4 362.8L772.7 364.2L775.0 365.9L777.2 367.2L779.5 368.0L781.8 368.1L784.1 367.6L786.4 367.6L788.6 369.1L790.9 371.1L793.2 372.4L795.5 373.6L797.8 374.5L800.0 376.0L802.3 377.7L804.6 378.4L806.9 377.7L809.2 376.1L811.5 375.6L813.7 377.1L816.0 378.7L818.3 379.0L820.6 377.9L822.9 375.9L825.1 374.4L827.4 374.2L829.7 373.7L832.0 371.9L834.3 370.6L836.5 371.6L838.8 373.6L841.1 374.1L843.4 373.5L845.7 373.1L847.9 373.3L850.2 374.6L852.5 375.0L854.8 372.7L857.1 369.0L859.3 367.5L861.6 369.6L863.9 372.8L866.2 373.8L868.5 372.6L870.7 371.4L873.0 372.1L875.3 374.1L877.6 375.8L879.9 375.9L882.1 375.3L884.4 375.3L886.7 373.3L889.0 368.5L891.3 364.8L893.5 363.7L895.8 364.3L898.1 364.4L900.4 363.5L902.7 362.3L904.9 361.7L907.2 363.2L909.5 364.6"/>
<path d="M79.5 376.0L81.8 372.7L84.1 368.6L86.3 364.1L88.6 360.8L90.9 359.6L93.2 359.3L95.5 360.7L97.7 362.8L100.0 363.1L102.3 361.5L104.6 360.2L106.9 360.4L109.1 360.6L111.4 360.9L113.7 362.1L116.0 362.5L118.3 360.5L120.5 358.0L122.8 357.5L125.1 358.1L127.4 357.2L129.7 354.5L131.9 351.2L134.2 347.1L136.5 342.0L138.8 337.0L141.1 332.6L143.3 328.6L145.6 324.4L147.9 320.4L150.2 318.0L152.5 317.3L154.7 316.4L157.0 315.2L159.3 314.8L161.6 314.4L163.9 313.9L166.1 314.3L168.4 315.2L170.7 315.4L173.0 315.2L175.3 315.1L177.5 315.0L179.8 314.3L182.1 313.3L184.4 313.0L186.7 312.8L189.0 311.2L191.2 308.7L193.5 306.7L195.8 305.9L198.1 305.7L200.4 304.5L202.6 303.0L204.9 302.8L207.2 303.4L209.5 305.6L211.8 309.2L214.0 311.5L216.3 312.3L218.6 313.8L220.9 315.6L223.2 315.1L225.4 312.7L227.7 310.9L230.0 310.1L232.3 307.9L234.6 305.6L236.8 303.4L239.1 302.0L241.4 301.8L243.7 300.3L246.0 296.1L248.2 292.1L250.5 290.1L252.8 290.5L255.1 292.7L257.4 292.7L259.6 290.4L261.9 289.9L264.2 291.0L266.5 290.7L268.8 289.6L271.0 288.1L273.3 285.5L275.6 283.1L277.9 283.4L280.2 285.7L282.4 288.2L284.7 289.9L287.0 291.1L289.3 292.7L291.6 294.3L293.8 294.3L296.1 293.9L298.4 296.1L300.7 299.6L303.0 300.7L305.2 300.5L307.5 302.5L309.8 306.4L312.1 309.4L314.4 311.7L316.6 315.1L318.9 318.0L321.2 318.8L323.5 318.3L325.8 318.1L328.0 317.0L330.3 313.9L332.6 310.6L334.9 308.7L337.2 307.8L339.4 307.8L341.7 309.1L344.0 310.6L346.3 310.6L348.6 310.2L350.8 311.0L353.1 312.0L355.4 310.8L357.7 308.8L360.0 308.6L362.2 310.1L364.5 312.5L366.8 315.2L369.1 316.9L371.4 317.0L373.6 316.0L375.9 314.1L378.2 312.1L380.5 310.6L382.8 310.2L385.0 311.9L387.3 315.6L389.6 319.6L391.9 323.1L394.2 326.9L396.5 330.4L398.7 333.8L401.0 337.3L403.3 340.3L405.6 344.7L407.9 351.2L410.1 356.3L412.4 357.9L414.7 358.6L417.0 358.8L419.3 358.3L421.5 356.7L423.8 355.1L426.1 355.7L428.4 358.2L430.7 361.4L432.9 363.1L435.2 361.5L437.5 357.7L439.8 355.0L442.1 354.6L444.3 356.0L446.6 357.9L448.9 358.8L451.2 357.7L453.5 356.3L455.7 355.5L458.0 354.4L460.3 352.9L462.6 351.2L464.9 349.2L467.1 347.9L469.4 348.3L471.7 350.3L474.0 351.8L476.3 351.8L478.5 351.1L480.8 350.7L483.1 351.6L485.4 353.5L487.7 355.7L489.9 358.3L492.2 361.7L494.5 365.0L496.8 366.5L499.1 367.4L501.3 368.7L503.6 368.7L505.9 367.9L508.2 368.8L510.5 369.2L512.7 365.8L515.0 360.3L517.3 355.2L519.6 350.6L521.9 347.7L524.1 346.9L526.4 346.7L528.7 346.3L531.0 345.0L533.3 342.7L535.5 340.5L537.8 338.7L540.1 335.9L542.4 333.1L544.7 332.4L546.9 333.0L549.2 331.9L551.5 328.5L553.8 325.0L556.1 322.1L558.3 319.5L560.6 318.0L562.9 318.4L565.2 320.1L567.5 321.0L569.7 320.8L572.0 320.6L574.3 321.2L576.6 321.9L578.9 322.2L581.1 323.6L583.4 326.9L585.7 328.6L588.0 327.3L590.3 326.3L592.5 326.8L594.8 326.8L597.1 327.7L599.4 331.7L601.7 336.1L604.0 337.6L606.2 337.9L608.5 338.6L610.8 338.8L613.1 338.3L615.4 337.8L617.6 337.6L619.9 337.8L622.2 338.2L624.5 338.2L626.8 337.6L629.0 337.2L631.3 338.3L633.6 340.2L635.9 341.6L638.2 341.6L640.4 339.6L642.7 337.4L645.0 337.2L647.3 339.6L649.6 342.4L651.8 343.6L654.1 343.1L656.4 342.3L658.7 342.0L661.0 343.1L663.2 345.0L665.5 347.0L667.8 349.0L670.1 351.4L672.4 353.3L674.6 354.1L676.9 354.6L679.2 356.1L681.5 358.1L683.8 358.9L686.0 358.6L688.3 358.5L690.6 359.9L692.9 361.0L695.2 360.2L697.4 358.9L699.7 358.3L702.0 358.8L704.3 361.2L706.6 365.3L708.8 368.5L711.1 370.5L713.4 372.6L715.7 375.1L718.0 378.1L720.2 380.1L722.5 379.2L724.8 378.8L727.1 381.3L729.4 384.0L731.6 384.9L733.9 384.5L736.2 383.4L738.5 382.8L740.8 383.4L743.0 383.1L745.3 380.8L747.6 378.7L749.9 377.4L752.2 375.5L754.4 373.3L756.7 372.5L759.0 372.7L761.3 372.7L763.6 372.5L765.8 373.2L768.1 375.3L770.4 377.4L772.7 378.4L775.0 377.7L777.2 375.9L779.5 374.2L781.8 374.0L784.1 375.3L786.4 377.1L788.6 378.4L790.9 379.5L793.2 380.9L795.5 382.4L797.8 383.2L800.0 382.7L802.3 381.2L804.6 380.3L806.9 381.7L809.2 383.9L811.5 384.9L813.7 384.7L816.0 382.8L818.3 380.3L820.6 380.2L822.9 382.5L825.1 383.8L827.4 382.6L829.7 380.9L832.0 380.1L834.3 380.6L836.5 379.8L838.8 378.0L841.1 378.0L843.4 380.1L845.7 380.5L847.9 378.5L850.2 377.7L852.5 379.8L854.8 383.1L857.1 384.7L859.3 384.6L861.6 384.7L863.9 385.0L866.2 384.9L868.5 384.8L870.7 385.9L873.0 386.9L875.3 386.5L877.6 385.0L879.9 382.8L882.1 380.7L884.4 378.1L886.7 375.5L889.0 374.6L891.3 374.5L893.5 374.4L895.8 375.5L898.1 376.6L900.4 377.5L902.7 378.1L904.9 378.4L907.2 379.0L909.5 379.4"/>
<path d="M79.5 404.3L81.8 400.1L84.1 395.9L86.3 389.9L88.6 383.6L90.9 378.5L93.2 374.6L95.5 373.1L97.7 374.2L100.0 376.7L102.3 377.3L104.6 375.5L106.9 373.4L109.1 372.2L111.4 372.7L113.7 374.7L116.0 374.7L118.3 371.2L120.5 366.1L122.8 361.2L125.1 357.9L127.4 357.3L129.7 357.3L131.9 355.7L134.2 352.2L136.5 348.6L138.8 345.7L141.1 343.5L143.3 341.1L145.6 337.2L147.9 333.3L150.2 331.4L152.5 330.2L154.7 327.1L157.0 323.8L159.3 322.7L161.6 321.0L163.9 318.1L166.1 317.3L168.4 320.0L170.7 323.2L173.0 324.7L175.3 324.9L177.5 324.9L179.8 323.8L182.1 321.6L184.4 319.6L186.7 318.4L189.0 318.1L191.2 317.3L193.5 315.7L195.8 314.8L198.1 315.0L200.4 314.6L202.6 314.1L204.9 314.2L207.2 314.1L209.5 313.8L211.8 314.5L214.0 316.6L216.3 318.6L218.6 319.4L220.9 318.1L223.2 315.7L225.4 314.3L227.7 314.7L230.0 315.6L232.3 315.0L234.6 313.8L236.8 312.1L239.1 309.9L241.4 308.1L243.7 306.4L246.0 304.2L248.2 302.1L250.5 300.3L252.8 298.6L255.1 296.2L257.4 294.4L259.6 295.2L261.9 297.3L264.2 300.1L266.5 302.9L268.8 304.6L271.0 305.0L273.3 305.3L275.6 306.8L277.9 308.5L280.2 308.7L282.4 308.3L284.7 309.9L287.0 311.9L289.3 311.5L291.6 310.8L293.8 314.7L296.1 323.0L298.4 330.2L300.7 332.1L303.0 330.7L305.2 330.2L307.5 330.6L309.8 331.6L312.1 333.3L314.4 335.2L316.6 335.7L318.9 334.9L321.2 335.6L323.5 336.2L325.8 335.0L328.0 334.8L330.3 336.3L332.6 338.0L334.9 338.4L337.2 339.0L339.4 340.4L341.7 340.8L344.0 340.7L346.3 340.9L348.6 341.4L350.8 340.9L353.1 339.0L355.4 337.5L357.7 337.9L360.0 340.4L362.2 343.6L364.5 345.0L366.8 343.7L369.1 340.6L371.4 337.2L373.6 336.5L375.9 339.7L378.2 345.1L380.5 348.4L382.8 348.8L385.0 347.6L387.3 346.9L389.6 348.2L391.9 350.5L394.2 351.9L396.5 353.8L398.7 357.1L401.0 360.9L403.3 364.4L405.6 367.0L407.9 368.2L410.1 368.6L412.4 368.7L414.7 370.1L417.0 373.7L419.3 378.6L421.5 382.2L423.8 382.8L426.1 381.8L428.4 380.2L430.7 377.9L432.9 375.4L435.2 375.1L437.5 377.3L439.8 379.5L442.1 380.3L444.3 380.8L446.6 383.2L448.9 386.4L451.2 388.9L453.5 389.9L455.7 389.5L458.0 390.3L460.3 393.6L462.6 396.9L464.9 399.1L467.1 399.2L469.4 397.8L471.7 398.9L474.0 402.3L476.3 405.0L478.5 405.8L480.8 405.7L483.1 406.0L485.4 406.3L487.7 405.9L489.9 404.9L492.2 401.9L494.5 397.8L496.8 397.5L499.1 401.0L501.3 404.0L503.6 404.5L505.9 404.3L508.2 405.0L510.5 405.2L512.7 403.2L515.0 400.6L517.3 400.4L519.6 401.3L521.9 400.7L524.1 399.1L526.4 396.6L528.7 392.7L531.0 387.6L533.3 382.4L535.5 379.0L537.8 376.7L540.1 372.3L542.4 366.4L544.7 363.0L546.9 362.9L549.2 362.6L551.5 360.9L553.8 360.6L556.1 361.2L558.3 361.8L560.6 363.0L562.9 365.0L565.2 367.2L567.5 368.4L569.7 368.1L572.0 366.9L574.3 366.3L576.6 366.8L578.9 365.9L581.1 363.4L583.4 360.6L585.7 358.5L588.0 357.0L590.3 355.2L592.5 353.9L594.8 352.5L597.1 352.4L599.4 355.3L601.7 358.5L604.0 358.5L606.2 355.8L608.5 352.2L610.8 349.0L613.1 347.1L615.4 347.4L617.6 349.0L619.9 350.3L622.2 351.5L624.5 352.4L626.8 353.2L629.0 352.5L631.3 350.0L633.6 348.8L635.9 350.8L638.2 354.9L640.4 356.9L642.7 356.4L645.0 355.7L647.3 355.6L649.6 356.4L651.8 357.0L654.1 356.7L656.4 356.4L658.7 358.0L661.0 359.6L663.2 359.5L665.5 359.6L667.8 361.1L670.1 363.3L672.4 366.2L674.6 369.6L676.9 372.9L679.2 372.9L681.5 369.3L683.8 364.7L686.0 361.9L688.3 361.4L690.6 361.1L692.9 360.7L695.2 360.8L697.4 361.5L699.7 363.2L702.0 365.2L704.3 366.5L706.6 368.4L708.8 371.7L711.1 374.2L713.4 373.6L715.7 371.0L718.0 370.4L720.2 373.7L722.5 378.8L724.8 382.8L727.1 383.6L729.4 384.1L731.6 387.8L733.9 391.7L736.2 393.2L738.5 393.2L740.8 393.5L743.0 394.3L745.3 394.3L747.6 393.1L749.9 391.0L752.2 388.6L754.4 386.5L756.7 385.8L759.0 386.7L761.3 388.2L763.6 389.1L765.8 388.8L768.1 388.4L770.4 388.9L772.7 390.1L775.0 391.3L777.2 393.1L779.5 395.4L781.8 396.1L784.1 395.1L786.4 394.9L788.6 396.0L790.9 397.6L793.2 399.8L795.5 401.5L797.8 402.6L800.0 403.2L802.3 403.7L804.6 405.8L806.9 409.8L809.2 413.3L811.5 413.1L813.7 408.9L816.0 404.8L818.3 403.4L820.6 403.7L822.9 402.5L825.1 400.2L827.4 399.3L829.7 400.0L832.0 400.3L834.3 401.3L836.5 402.9L838.8 402.6L841.1 401.1L843.4 401.5L845.7 403.5L847.9 404.6L850.2 405.1L852.5 405.9L854.8 408.0L857.1 412.1L859.3 416.0L861.6 417.8L863.9 417.3L866.2 413.6L868.5 408.4L870.7 405.6L873.0 406.4L875.3 409.3L877.6 411.0L879.9 409.1L882.1 405.4L884.4 402.9L886.7 401.5L889.0 398.3L891.3 394.4L893.5 393.2L895.8 394.3L898.1 394.4L900.4 394.1L902.7 395.8L904.9 400.4L907.2 406.0L909.5 410.1"/>
<path d="M79.5 398.8L81.8 395.7L84.1 394.7L86.3 392.4L88.6 390.4L90.9 391.8L93.2 394.9L95.5 399.2L97.7 402.5L100.0 403.5L102.3 403.2L104.6 402.6L106.9 400.0L109.1 396.0L111.4 392.2L113.7 388.1L116.0 385.5L118.3 385.6L120.5 386.8L122.8 389.0L125.1 390.3L127.4 389.4L129.7 390.0L131.9 393.5L134.2 396.8L136.5 398.2L138.8 398.3L141.1 397.9L143.3 397.7L145.6 396.5L147.9 394.4L150.2 392.1L152.5 390.3L154.7 388.7L157.0 384.2L159.3 377.3L161.6 373.2L163.9 372.2L166.1 371.4L168.4 370.4L170.7 368.6L173.0 365.5L175.3 363.1L177.5 363.3L179.8 364.1L182.1 363.3L184.4 363.0L186.7 364.3L189.0 365.5L191.2 366.6L193.5 367.0L195.8 365.9L198.1 365.4L200.4 367.3L202.6 369.7L204.9 370.3L207.2 367.3L209.5 363.3L211.8 361.6L214.0 362.0L216.3 362.1L218.6 361.5L220.9 360.7L223.2 360.0L225.4 360.5L227.7 361.4L230.0 362.3L232.3 363.1L234.6 364.1L236.8 365.0L239.1 364.9L241.4 363.8L243.7 363.6L246.0 363.6L248.2 362.3L250.5 359.8L252.8 358.0L255.1 357.7L257.4 358.0L259.6 356.5L261.9 350.7L264.2 343.4L266.5 337.8L268.8 334.1L271.0 331.7L273.3 332.2L275.6 335.3L277.9 338.0L280.2 339.3L282.4 340.5L284.7 340.8L287.0 340.5L289.3 342.6L291.6 347.7L293.8 353.4L296.1 356.6L298.4 359.5L300.7 363.8L303.0 367.5L305.2 371.2L307.5 373.7L309.8 373.5L312.1 373.3L314.4 372.9L316.6 373.2L318.9 374.3L321.2 373.6L323.5 371.1L325.8 368.4L328.0 364.8L330.3 361.3L332.6 358.7L334.9 355.8L337.2 353.2L339.4 352.5L341.7 351.9L344.0 350.3L346.3 348.5L348.6 348.8L350.8 350.8L353.1 352.3L355.4 351.7L357.7 350.8L360.0 350.8L362.2 352.1L364.5 353.2L366.8 354.1L369.1 357.7L371.4 362.7L373.6 364.4L375.9 363.2L378.2 363.3L380.5 365.7L382.8 368.4L385.0 370.4L387.3 371.4L389.6 372.3L391.9 375.1L394.2 379.6L396.5 382.3L398.7 383.0L401.0 384.3L403.3 385.2L405.6 385.1L407.9 388.2L410.1 393.6L412.4 396.2L414.7 395.8L417.0 393.5L419.3 388.2L421.5 382.4L423.8 381.6L426.1 385.3L428.4 388.3L430.7 390.2L432.9 392.6L435.2 393.2L437.5 390.9L439.8 388.8L442.1 387.2L444.3 386.2L446.6 385.2L448.9 383.8L451.2 384.1L453.5 385.3L455.7 385.5L458.0 384.4L460.3 384.3L462.6 385.4L464.9 386.8L467.1 388.4L469.4 388.7L471.7 385.9L474.0 382.2L476.3 379.7L478.5 379.6L480.8 380.7L483.1 380.6L485.4 378.8L487.7 377.6L489.9 378.2L492.2 379.0L494.5 376.8L496.8 372.3L499.1 369.5L501.3 368.6L503.6 367.7L505.9 367.2L508.2 366.9L510.5 367.4L512.7 369.6L515.0 372.0L517.3 371.5L519.6 367.7L521.9 363.6L524.1 360.9L526.4 359.3L528.7 358.0L531.0 356.9L533.3 355.5L535.5 352.5L537.8 348.5L540.1 344.2L542.4 340.1L544.7 337.0L546.9 335.0L549.2 333.8L551.5 332.5L553.8 331.4L556.1 332.0L558.3 334.6L560.6 337.3L562.9 338.8L565.2 338.6L567.5 337.6L569.7 336.9L572.0 336.5L574.3 336.6L576.6 338.3L578.9 340.5L581.1 341.3L583.4 341.2L585.7 340.3L588.0 338.2L590.3 337.5L592.5 339.0L594.8 338.9L597.1 334.9L599.4 331.7L601.7 332.9L604.0 335.2L606.2 335.5L608.5 334.4L610.8 334.0L613.1 335.1L615.4 336.9L617.6 338.8L619.9 339.8L622.2 339.5L624.5 338.4L626.8 337.2L629.0 336.6L631.3 336.3L633.6 335.7L635.9 336.3L638.2 339.3L640.4 342.7L642.7 345.1L645.0 345.9L647.3 346.6L649.6 348.0L651.8 349.4L654.1 351.4L656.4 354.2L658.7 356.5L661.0 358.1L663.2 360.5L665.5 362.9L667.8 364.5L670.1 366.4L672.4 369.9L674.6 372.2L676.9 371.2L679.2 369.1L681.5 368.8L683.8 369.4L686.0 369.0L688.3 367.9L690.6 366.5L692.9 365.3L695.2 364.5L697.4 364.1L699.7 364.6L702.0 365.9L704.3 366.4L706.6 367.3L708.8 371.9L711.1 380.1L713.4 388.9L715.7 394.6L718.0 396.1L720.2 399.0L722.5 405.8L724.8 410.5L727.1 411.4L729.4 413.6L731.6 417.2L733.9 417.6L736.2 416.9L738.5 416.2L740.8 414.5L743.0 412.3L745.3 410.1L747.6 410.0L749.9 412.0L752.2 412.5L754.4 410.6L756.7 408.3L759.0 407.4L761.3 407.4L763.6 407.0L765.8 407.2L768.1 408.8L770.4 409.6L772.7 409.6L775.0 408.8L777.2 408.0L779.5 409.2L781.8 413.7L784.1 419.9L786.4 424.4L788.6 424.2L790.9 422.9L793.2 423.3L795.5 424.8L797.8 426.1L800.0 426.7L802.3 428.3L804.6 430.2L806.9 430.2L809.2 429.8L811.5 430.1L813.7 428.7L816.0 423.9L818.3 418.0L820.6 414.4L822.9 414.1L825.1 415.9L827.4 416.9L829.7 415.4L832.0 411.8L834.3 407.5L836.5 404.5L838.8 404.0L841.1 404.6L843.4 405.9L845.7 408.4L847.9 409.0L850.2 406.3L852.5 403.4L854.8 401.5L857.1 400.4L859.3 399.9L861.6 398.3L863.9 395.1L866.2 391.8L868.5 390.0L870.7 390.2L873.0 391.7L875.3 391.9L877.6 389.8L879.9 386.5L882.1 382.0L884.4 378.9L886.7 379.7L889.0 380.6L891.3 379.1L893.5 378.4L895.8 378.3L898.1 376.7L900.4 374.5L902.7 373.3L904.9 373.2L907.2 373.4L909.5 374.0"/>
<path d="M79.5 356.5L81.8 355.6L84.1 354.1L86.3 351.9L88.6 350.6L90.9 352.0L93.2 352.8L95.5 352.5L97.7 352.2L100.0 351.6L102.3 350.5L104.6 349.5L106.9 349.2L109.1 349.5L111.4 350.8L113.7 352.7L116.0 353.7L118.3 353.6L120.5 353.2L122.8 352.7L125.1 351.5L127.4 350.8L129.7 352.6L131.9 354.1L134.2 353.1L136.5 351.1L138.8 349.5L141.1 347.3L143.3 345.3L145.6 344.4L147.9 343.2L150.2 340.8L152.5 338.1L154.7 336.0L157.0 334.1L159.3 331.4L161.6 330.3L163.9 332.3L166.1 333.3L168.4 332.2L170.7 330.5L173.0 330.0L175.3 331.7L177.5 332.7L179.8 330.2L182.1 326.7L184.4 324.9L186.7 324.7L189.0 325.2L191.2 326.8L193.5 328.3L195.8 328.0L198.1 327.4L200.4 328.1L202.6 327.7L204.9 326.8L207.2 327.3L209.5 328.5L211.8 329.5L214.0 331.8L216.3 336.4L218.6 342.1L220.9 346.0L223.2 347.3L225.4 350.0L227.7 355.7L230.0 358.3L232.3 356.5L234.6 357.6L236.8 359.8L239.1 357.2L241.4 352.0L243.7 349.3L246.0 348.1L248.2 343.9L250.5 337.8L252.8 334.6L255.1 333.6L257.4 331.6L259.6 328.0L261.9 323.1L264.2 319.0L266.5 316.2L268.8 315.7L271.0 316.2L273.3 315.5L275.6 313.7L277.9 312.2L280.2 312.1L282.4 314.2L284.7 318.1L287.0 322.9L289.3 327.6L291.6 330.5L293.8 332.2L296.1 335.4L298.4 339.6L300.7 342.9L303.0 344.9L305.2 345.5L307.5 346.6L309.8 349.4L312.1 351.3L314.4 351.2L316.6 352.1L318.9 354.4L321.2 356.0L323.5 355.8L325.8 354.9L328.0 354.1L330.3 351.8L332.6 347.6L334.9 342.6L337.2 339.4L339.4 338.8L341.7 339.4L344.0 341.3L346.3 341.9L348.6 339.3L350.8 336.0L353.1 335.2L355.4 336.1L357.7 337.5L360.0 340.4L362.2 343.1L364.5 343.1L366.8 342.4L369.1 343.8L371.4 347.9L373.6 351.8L375.9 352.7L378.2 351.7L380.5 351.3L382.8 351.7L385.0 353.3L387.3 356.5L389.6 359.4L391.9 358.9L394.2 356.5L396.5 356.3L398.7 357.8L401.0 359.7L403.3 362.4L405.6 366.3L407.9 369.4L410.1 370.2L412.4 369.7L414.7 369.9L417.0 369.7L419.3 368.5L421.5 368.6L423.8 370.4L426.1 372.0L428.4 371.8L430.7 370.3L432.9 368.6L435.2 366.7L437.5 364.9L439.8 364.0L442.1 364.0L444.3 365.5L446.6 366.8L448.9 367.3L451.2 368.6L453.5 370.9L455.7 373.9L458.0 375.9L460.3 376.4L462.6 376.4L464.9 376.7L467.1 378.8L469.4 383.0L471.7 386.7L474.0 389.1L476.3 390.6L478.5 389.5L480.8 385.8L483.1 383.0L485.4 383.3L487.7 385.6L489.9 387.1L492.2 387.1L494.5 386.1L496.8 384.9L499.1 384.6L501.3 385.1L503.6 386.7L505.9 388.1L508.2 386.4L510.5 381.5L512.7 376.7L515.0 374.8L517.3 375.3L519.6 376.3L521.9 377.0L524.1 378.1L526.4 380.8L528.7 382.0L531.0 379.4L533.3 376.2L535.5 374.3L537.8 371.6L540.1 367.3L542.4 363.2L544.7 360.0L546.9 357.2L549.2 355.0L551.5 354.4L553.8 355.0L556.1 354.7L558.3 354.6L560.6 355.9L562.9 356.8L565.2 357.0L567.5 358.5L569.7 361.0L572.0 362.1L574.3 362.0L576.6 362.4L578.9 363.2L581.1 361.9L583.4 358.3L585.7 354.1L588.0 350.7L590.3 348.7L592.5 346.1L594.8 344.1L597.1 344.0L599.4 344.3L601.7 344.6L604.0 345.0L606.2 346.7L608.5 350.4L610.8 353.9L613.1 354.4L615.4 351.6L617.6 348.6L619.9 347.3L622.2 346.8L624.5 346.2L626.8 345.2L629.0 344.7L631.3 343.7L633.6 342.4L635.9 342.5L638.2 344.2L640.4 346.0L642.7 348.2L645.0 351.5L647.3 354.3L649.6 354.9L651.8 354.8L654.1 355.6L656.4 356.2L658.7 357.2L661.0 359.4L663.2 361.4L665.5 363.1L667.8 364.4L670.1 363.2L672.4 359.8L674.6 357.6L676.9 357.7L679.2 357.4L681.5 354.5L683.8 350.2L686.0 346.6L688.3 344.3L690.6 343.4L692.9 343.9L695.2 346.4L697.4 349.8L699.7 351.7L702.0 352.9L704.3 355.0L706.6 358.0L708.8 361.3L711.1 362.7L713.4 362.5L715.7 361.9L718.0 361.5L720.2 360.7L722.5 359.9L724.8 360.0L727.1 361.1L729.4 363.0L731.6 364.5L733.9 366.2L736.2 368.8L738.5 369.5L740.8 367.6L743.0 365.6L745.3 365.3L747.6 366.8L749.9 369.4L752.2 371.7L754.4 372.1L756.7 371.9L759.0 373.6L761.3 376.6L763.6 379.1L765.8 380.0L768.1 379.2L770.4 377.0L772.7 375.3L775.0 375.4L777.2 376.3L779.5 376.9L781.8 377.3L784.1 377.5L786.4 376.5L788.6 376.2L790.9 378.6L793.2 381.1L795.5 381.3L797.8 380.7L800.0 382.0L802.3 384.0L804.6 382.9L806.9 379.6L809.2 377.2L811.5 376.4L813.7 375.8L816.0 374.2L818.3 373.5L820.6 376.0L822.9 380.2L825.1 382.7L827.4 381.9L829.7 380.5L832.0 380.2L834.3 379.7L836.5 378.7L838.8 378.0L841.1 376.3L843.4 373.1L845.7 370.7L847.9 369.4L850.2 368.9L852.5 369.9L854.8 372.8L857.1 376.5L859.3 378.8L861.6 378.4L863.9 376.1L866.2 373.3L868.5 371.2L870.7 369.9L873.0 369.5L875.3 370.1L877.6 371.2L879.9 372.2L882.1 372.6L884.4 372.2L886.7 370.9L889.0 369.7L891.3 370.6L893.5 373.1L895.8 373.5L898.1 370.2L900.4 366.2L902.7 363.2L904.9 362.4L907.2 364.1L909.5 365.2"/>
<path d="M79.5 362.3L81.8 361.0L84.1 359.7L86.3 358.0L88.6 356.5L90.9 357.5L93.2 359.7L95.5 360.0L97.7 359.1L100.0 360.6L102.3 363.0L104.6 362.7L106.9 360.5L109.1 359.4L111.4 359.3L113.7 357.6L116.0 353.9L118.3 350.3L120.5 348.9L122.8 349.5L125.1 349.5L127.4 347.3L129.7 344.1L131.9 341.4L134.2 339.3L136.5 337.5L138.8 335.7L141.1 333.9L143.3 331.2L145.6 327.7L147.9 325.0L150.2 323.9L152.5 323.6L154.7 322.2L157.0 319.4L159.3 316.1L161.6 312.8L163.9 310.4L166.1 309.5L168.4 310.3L170.7 311.6L173.0 312.3L175.3 313.3L177.5 314.3L179.8 313.9L182.1 312.4L184.4 310.2L186.7 309.3L189.0 310.8L191.2 313.3L193.5 315.9L195.8 317.9L198.1 318.8L200.4 317.9L202.6 316.2L204.9 316.1L207.2 317.1L209.5 317.2L211.8 316.9L214.0 318.0L216.3 319.4L218.6 319.3L220.9 318.2L223.2 318.0L225.4 320.1L227.7 322.9L230.0 322.7L232.3 319.2L234.6 318.2L236.8 321.0L239.1 324.3L241.4 325.6L243.7 324.7L246.0 322.5L248.2 320.1L250.5 317.4L252.8 314.4L255.1 312.3L257.4 310.6L259.6 310.0L261.9 310.3L264.2 309.3L266.5 305.4L268.8 301.5L271.0 300.2L273.3 300.6L275.6 301.2L277.9 301.9L280.2 304.1L282.4 307.2L284.7 308.2L287.0 306.4L289.3 303.7L291.6 301.4L293.8 301.9L296.1 305.8L298.4 310.1L300.7 313.5L303.0 317.5L305.2 322.5L307.5 325.7L309.8 326.9L312.1 328.5L314.4 330.2L316.6 330.1L318.9 328.4L321.2 326.3L323.5 326.1L325.8 326.8L328.0 325.7L330.3 323.8L332.6 321.9L334.9 319.2L337.2 318.1L339.4 320.5L341.7 324.4L344.0 326.4L346.3 325.1L348.6 321.7L350.8 318.2L353.1 316.3L355.4 315.6L357.7 315.3L360.0 316.0L362.2 317.6L364.5 319.4L366.8 320.9L369.1 322.0L371.4 322.8L373.6 323.6L375.9 326.0L378.2 329.5L380.5 332.5L382.8 335.2L385.0 337.0L387.3 338.6L389.6 341.7L391.9 346.8L394.2 352.2L396.5 356.4L398.7 358.8L401.0 360.1L403.3 361.2L405.6 362.0L407.9 362.7L410.1 364.2L412.4 365.3L414.7 364.4L417.0 362.6L419.3 361.3L421.5 359.4L423.8 357.5L426.1 357.0L428.4 357.3L430.7 357.7L432.9 357.8L435.2 357.9L437.5 359.6L439.8 363.1L442.1 366.4L444.3 368.5L446.6 370.2L448.9 372.6L451.2 374.5L453.5 375.4L455.7 376.8L458.0 378.6L460.3 380.2L462.6 381.6L464.9 383.2L467.1 384.3L469.4 383.6L471.7 382.4L474.0 381.3L476.3 380.7L478.5 380.4L480.8 378.4L483.1 374.4L485.4 372.3L487.7 372.4L489.9 373.1L492.2 374.4L494.5 376.3L496.8 376.9L499.1 375.9L501.3 374.6L503.6 373.4L505.9 372.5L508.2 371.4L510.5 370.2L512.7 369.2L515.0 366.7L517.3 362.0L519.6 357.9L521.9 356.0L524.1 355.8L526.4 354.6L528.7 352.0L531.0 349.8L533.3 348.1L535.5 346.0L537.8 343.6L540.1 340.9L542.4 337.2L544.7 333.2L546.9 328.9L549.2 324.3L551.5 319.2L553.8 315.9L556.1 315.6L558.3 315.1L560.6 313.6L562.9 313.5L565.2 314.0L567.5 314.9L569.7 316.9L572.0 317.8L574.3 316.9L576.6 315.7L578.9 313.6L581.1 310.2L583.4 308.2L585.7 308.7L588.0 310.1L590.3 310.2L592.5 308.6L594.8 306.9L597.1 305.7L599.4 305.9L601.7 308.6L604.0 311.1L606.2 310.4L608.5 307.9L610.8 307.1L613.1 308.9L615.4 311.5L617.6 312.5L619.9 312.6L622.2 312.5L624.5 310.9L626.8 308.6L629.0 307.9L631.3 308.1L633.6 307.9L635.9 308.4L638.2 310.1L640.4 311.2L642.7 312.3L645.0 314.2L647.3 316.1L649.6 318.2L651.8 320.7L654.1 324.1L656.4 328.9L658.7 334.0L661.0 337.6L663.2 339.6L665.5 340.8L667.8 342.6L670.1 345.5L672.4 347.7L674.6 349.5L676.9 352.2L679.2 354.6L681.5 356.8L683.8 359.7L686.0 362.5L688.3 365.4L690.6 369.5L692.9 374.0L695.2 375.8L697.4 374.0L699.7 371.5L702.0 370.5L704.3 372.0L706.6 376.4L708.8 382.5L711.1 387.0L713.4 388.7L715.7 389.2L718.0 389.6L720.2 390.6L722.5 392.2L724.8 393.8L727.1 396.7L729.4 399.6L731.6 398.8L733.9 395.2L736.2 393.7L738.5 394.9L740.8 395.7L743.0 393.6L745.3 389.3L747.6 385.8L749.9 384.8L752.2 385.2L754.4 385.8L756.7 387.8L759.0 390.5L761.3 391.3L763.6 389.6L765.8 388.5L768.1 390.4L770.4 394.2L772.7 397.5L775.0 399.2L777.2 399.6L779.5 400.1L781.8 401.8L784.1 404.5L786.4 407.2L788.6 408.2L790.9 406.9L793.2 405.9L795.5 407.4L797.8 410.2L800.0 411.0L802.3 410.0L804.6 410.5L806.9 413.3L809.2 417.5L811.5 420.6L813.7 421.1L816.0 421.1L818.3 423.0L820.6 424.3L822.9 421.6L825.1 418.3L827.4 418.0L829.7 419.7L832.0 421.4L834.3 423.4L836.5 425.0L838.8 423.9L841.1 420.6L843.4 418.6L845.7 419.1L847.9 420.5L850.2 420.8L852.5 420.5L854.8 417.9L857.1 412.2L859.3 406.7L861.6 404.1L863.9 405.0L866.2 407.8L868.5 410.8L870.7 413.4L873.0 414.6L875.3 414.1L877.6 413.5L879.9 413.8L882.1 413.6L884.4 410.8L886.7 406.4L889.0 402.3L891.3 400.9L893.5 400.9L895.8 398.9L898.1 396.2L900.4 394.6L902.7 392.2L904.9 387.9L907.2 383.4L909.5 381.1"/>
<path d="M79.5 373.9L81.8 376.4L84.1 376.6L86.3 374.5L88.6 372.7L90.9 372.1L93.2 370.5L95.5 369.5L97.7 370.2L100.0 372.0L102.3 373.3L104.6 373.9L106.9 375.1L109.1 375.2L111.4 372.3L113.7 370.1L116.0 370.4L118.3 370.9L120.5 369.5L122.8 367.2L125.1 363.9L127.4 358.6L129.7 354.5L131.9 352.7L134.2 351.9L136.5 351.5L138.8 350.1L141.1 347.0L143.3 345.1L145.6 344.9L147.9 343.7L150.2 339.7L152.5 334.5L154.7 330.2L157.0 328.0L159.3 327.9L161.6 328.2L163.9 328.3L166.1 328.4L168.4 329.0L170.7 330.4L173.0 332.4L175.3 334.6L177.5 335.8L179.8 335.5L182.1 335.2L184.4 334.5L186.7 332.7L189.0 331.1L191.2 329.5L193.5 328.9L195.8 330.3L198.1 332.6L200.4 333.6L202.6 333.1L204.9 333.7L207.2 335.2L209.5 335.9L211.8 336.6L214.0 337.4L216.3 336.9L218.6 337.9L220.9 341.7L223.2 345.8L225.4 348.3L227.7 350.8L230.0 351.2L232.3 346.8L234.6 342.2L236.8 341.1L239.1 343.0L241.4 343.8L243.7 342.1L246.0 340.3L248.2 338.5L250.5 336.5L252.8 334.7L255.1 333.1L257.4 331.2L259.6 329.5L261.9 327.9L264.2 329.6L266.5 333.5L268.8 336.0L271.0 336.0L273.3 335.3L275.6 333.1L277.9 330.4L280.2 330.3L282.4 331.8L284.7 331.9L287.0 331.0L289.3 330.6L291.6 329.7L293.8 328.5L296.1 328.5L298.4 330.1L300.7 332.3L303.0 333.9L305.2 334.9L307.5 337.0L309.8 341.2L312.1 345.9L314.4 347.7L316.6 346.6L318.9 344.6L321.2 343.7L323.5 343.2L325.8 342.6L328.0 343.4L330.3 344.4L332.6 343.3L334.9 342.8L337.2 344.9L339.4 346.1L341.7 345.1L344.0 343.8L346.3 341.9L348.6 338.5L350.8 335.4L353.1 335.2L355.4 337.4L357.7 338.6L360.0 337.0L362.2 334.9L364.5 333.9L366.8 333.1L369.1 332.4L371.4 332.9L373.6 333.5L375.9 333.3L378.2 333.5L380.5 335.2L382.8 337.5L385.0 339.8L387.3 343.0L389.6 347.4L391.9 350.1L394.2 349.3L396.5 347.9L398.7 350.0L401.0 354.6L403.3 357.4L405.6 357.9L407.9 358.2L410.1 359.8L412.4 362.3L414.7 363.4L417.0 362.1L419.3 362.2L421.5 365.2L423.8 367.4L426.1 367.1L428.4 365.5L430.7 363.6L432.9 362.2L435.2 361.6L437.5 361.9L439.8 363.0L442.1 364.7L444.3 367.9L446.6 371.3L448.9 374.0L451.2 376.8L453.5 379.7L455.7 383.5L458.0 387.0L460.3 388.7L462.6 390.8L464.9 394.7L467.1 398.9L469.4 399.7L471.7 397.6L474.0 395.7L476.3 394.2L478.5 392.9L480.8 391.9L483.1 390.4L485.4 389.6L487.7 389.9L489.9 389.7L492.2 388.3L494.5 387.4L496.8 387.5L499.1 387.3L501.3 385.3L503.6 383.7L505.9 384.2L508.2 385.2L510.5 385.1L512.7 384.7L515.0 383.5L517.3 380.5L519.6 378.4L521.9 377.5L524.1 375.4L526.4 372.5L528.7 369.7L531.0 366.8L533.3 363.6L535.5 360.1L537.8 355.5L540.1 350.9L542.4 347.6L544.7 343.7L546.9 338.1L549.2 333.3L551.5 330.6L553.8 328.6L556.1 326.2L558.3 324.5L560.6 323.3L562.9 321.1L565.2 318.9L567.5 318.6L569.7 319.0L572.0 318.6L574.3 317.9L576.6 318.5L578.9 319.8L581.1 319.8L583.4 319.7L585.7 320.6L588.0 320.5L590.3 319.2L592.5 318.3L594.8 318.4L597.1 319.1L599.4 319.4L601.7 317.6L604.0 315.0L606.2 313.9L608.5 312.9L610.8 311.1L613.1 309.3L615.4 307.7L617.6 306.3L619.9 305.6L622.2 306.5L624.5 307.2L626.8 305.3L629.0 302.4L631.3 301.6L633.6 303.1L635.9 304.1L638.2 302.6L640.4 300.0L642.7 299.7L645.0 302.5L647.3 306.6L649.6 309.3L651.8 310.5L654.1 311.2L656.4 312.0L658.7 313.1L661.0 314.7L663.2 316.7L665.5 318.7L667.8 320.3L670.1 322.3L672.4 325.1L674.6 328.1L676.9 331.5L679.2 334.4L681.5 335.1L683.8 333.0L686.0 330.0L688.3 328.8L690.6 330.4L692.9 333.8L695.2 336.4L697.4 337.9L699.7 338.6L702.0 339.4L704.3 340.5L706.6 341.4L708.8 342.9L711.1 346.0L713.4 349.6L715.7 352.5L718.0 354.9L720.2 356.6L722.5 357.5L724.8 359.2L727.1 362.3L729.4 365.1L731.6 366.3L733.9 366.0L736.2 365.9L738.5 365.4L740.8 363.2L743.0 361.2L745.3 361.4L747.6 363.9L749.9 367.5L752.2 370.1L754.4 371.9L756.7 372.8L759.0 373.4L761.3 375.2L763.6 377.6L765.8 379.2L768.1 379.7L770.4 380.5L772.7 383.3L775.0 386.5L777.2 388.0L779.5 388.3L781.8 389.3L784.1 391.2L786.4 394.3L788.6 396.7L790.9 395.3L793.2 392.2L795.5 391.6L797.8 393.6L800.0 395.1L802.3 394.3L804.6 394.3L806.9 396.9L809.2 399.2L811.5 400.4L813.7 402.9L816.0 406.4L818.3 407.6L820.6 405.8L822.9 402.8L825.1 401.1L827.4 400.5L829.7 398.6L832.0 395.0L834.3 394.0L836.5 397.1L838.8 400.4L841.1 400.7L843.4 399.3L845.7 397.6L847.9 396.5L850.2 397.5L852.5 399.5L854.8 398.5L857.1 393.7L859.3 388.5L861.6 385.8L863.9 386.7L866.2 389.3L868.5 391.5L870.7 393.2L873.0 394.5L875.3 394.5L877.6 393.4L879.9 392.5L882.1 392.6L884.4 393.0L886.7 393.5L889.0 394.0L891.3 393.9L893.5 394.0L895.8 396.1L898.1 397.2L900.4 394.6L902.7 391.4L904.9 389.6L907.2 388.1L909.5 386.4"/>
<path d="M79.5 357.8L81.8 355.8L84.1 352.8L86.3 349.5L88.6 346.2L90.9 344.4L93.2 343.8L95.5 344.0L97.7 342.5L100.0 339.4L102.3 336.4L104.6 334.0L106.9 331.4L109.1 329.2L111.4 328.3L113.7 327.9L116.0 327.7L118.3 327.2L120.5 326.2L122.8 324.6L125.1 321.6L127.4 318.4L129.7 317.2L131.9 316.6L134.2 315.0L136.5 312.9L138.8 310.0L141.1 306.7L143.3 304.1L145.6 302.8L147.9 302.7L150.2 303.2L152.5 303.4L154.7 302.9L157.0 301.5L159.3 299.9L161.6 299.3L163.9 299.5L166.1 300.7L168.4 303.0L170.7 305.0L173.0 304.6L175.3 302.1L177.5 300.2L179.8 300.5L182.1 302.4L184.4 303.2L186.7 303.0L189.0 303.0L191.2 303.2L193.5 303.5L195.8 303.3L198.1 302.8L200.4 304.3L202.6 306.4L204.9 305.2L207.2 301.3L209.5 299.0L211.8 300.4L214.0 302.1L216.3 302.2L218.6 303.0L220.9 305.0L223.2 307.8L225.4 310.9L227.7 313.1L230.0 314.1L232.3 314.7L234.6 315.9L236.8 317.2L239.1 319.1L241.4 321.7L243.7 322.0L246.0 319.1L248.2 316.2L250.5 314.1L252.8 312.8L255.1 312.0L257.4 310.1L259.6 307.6L261.9 305.5L264.2 304.0L266.5 302.2L268.8 302.3L271.0 304.4L273.3 306.5L275.6 308.4L277.9 309.9L280.2 311.4L282.4 313.1L284.7 314.4L287.0 315.1L289.3 316.7L291.6 319.2L293.8 319.9L296.1 318.0L298.4 317.4L300.7 320.9L303.0 326.0L305.2 330.2L307.5 332.9L309.8 334.9L312.1 336.0L314.4 334.7L316.6 331.9L318.9 329.2L321.2 326.8L323.5 324.0L325.8 321.7L328.0 322.2L330.3 324.7L332.6 325.9L334.9 323.9L337.2 320.4L339.4 317.8L341.7 315.9L344.0 315.3L346.3 316.8L348.6 319.5L350.8 321.9L353.1 323.1L355.4 322.7L357.7 322.6L360.0 324.4L362.2 325.7L364.5 323.5L366.8 321.0L369.1 321.3L371.4 323.5L373.6 325.7L375.9 326.7L378.2 328.1L380.5 329.9L382.8 330.8L385.0 331.2L387.3 331.6L389.6 332.8L391.9 335.6L394.2 337.7L396.5 337.9L398.7 337.2L401.0 337.6L403.3 339.4L405.6 339.4L407.9 337.1L410.1 335.5L412.4 335.0L414.7 335.0L417.0 335.1L419.3 334.6L421.5 333.9L423.8 332.5L426.1 331.1L428.4 331.4L430.7 331.7L432.9 330.5L435.2 329.7L437.5 331.3L439.8 333.8L442.1 335.6L444.3 337.3L446.6 338.4L448.9 338.7L451.2 339.3L453.5 340.5L455.7 341.3L458.0 342.4L460.3 345.8L462.6 350.5L464.9 353.3L467.1 353.4L469.4 352.0L471.7 351.1L474.0 351.4L476.3 352.3L478.5 352.3L480.8 350.2L483.1 346.4L485.4 343.6L487.7 341.2L489.9 338.2L492.2 335.1L494.5 333.3L496.8 333.5L499.1 334.8L501.3 335.9L503.6 335.8L505.9 334.6L508.2 332.7L510.5 330.7L512.7 329.8L515.0 329.8L517.3 329.8L519.6 329.4L521.9 328.9L524.1 327.7L526.4 325.7L528.7 323.1L531.0 320.7L533.3 317.5L535.5 312.8L537.8 308.1L540.1 304.8L542.4 302.5L544.7 299.4L546.9 296.2L549.2 294.0L551.5 293.2L553.8 294.0L556.1 295.1L558.3 295.5L560.6 295.1L562.9 294.4L565.2 293.1L567.5 291.5L569.7 290.7L572.0 289.8L574.3 288.1L576.6 287.6L578.9 288.3L581.1 287.8L583.4 285.7L585.7 283.5L588.0 281.5L590.3 278.9L592.5 276.4L594.8 274.3L597.1 272.7L599.4 270.8L601.7 269.0L604.0 268.2L606.2 268.2L608.5 268.8L610.8 269.8L613.1 270.3L615.4 270.6L617.6 271.8L619.9 274.1L622.2 276.3L624.5 277.3L626.8 277.9L629.0 279.8L631.3 281.8L633.6 282.7L635.9 283.3L638.2 284.2L640.4 285.0L642.7 286.7L645.0 288.3L647.3 288.9L649.6 289.1L651.8 289.3L654.1 289.5L656.4 289.7L658.7 289.9L661.0 290.4L663.2 292.0L665.5 294.3L667.8 295.9L670.1 297.4L672.4 300.1L674.6 302.9L676.9 303.7L679.2 302.9L681.5 302.6L683.8 303.3L686.0 304.0L688.3 305.1L690.6 306.8L692.9 307.9L695.2 308.0L697.4 309.0L699.7 310.7L702.0 311.6L704.3 311.9L706.6 312.8L708.8 313.8L711.1 314.6L713.4 315.5L715.7 315.8L718.0 315.9L720.2 317.0L722.5 318.4L724.8 320.0L727.1 321.7L729.4 322.8L731.6 323.8L733.9 324.7L736.2 325.6L738.5 327.2L740.8 329.0L743.0 330.2L745.3 330.8L747.6 331.1L749.9 330.8L752.2 330.5L754.4 331.5L756.7 332.9L759.0 333.4L761.3 334.0L763.6 334.7L765.8 335.3L768.1 336.1L770.4 336.6L772.7 336.7L775.0 337.0L777.2 337.8L779.5 338.0L781.8 337.5L784.1 337.7L786.4 339.1L788.6 340.8L790.9 342.6L793.2 344.5L795.5 346.5L797.8 349.2L800.0 352.9L802.3 356.1L804.6 356.4L806.9 354.1L809.2 352.5L811.5 352.6L813.7 353.5L816.0 353.6L818.3 352.7L820.6 351.3L822.9 349.5L825.1 348.2L827.4 348.2L829.7 347.8L832.0 346.7L834.3 345.3L836.5 342.3L838.8 338.5L841.1 336.3L843.4 335.4L845.7 335.1L847.9 334.9L850.2 334.6L852.5 335.1L854.8 335.2L857.1 334.2L859.3 333.6L861.6 334.3L863.9 335.8L866.2 337.1L868.5 336.1L870.7 333.0L873.0 330.7L875.3 330.7L877.6 332.0L879.9 332.9L882.1 332.1L884.4 329.3L886.7 326.2L889.0 324.2L891.3 323.6L893.5 323.6L895.8 322.7L898.1 321.2L900.4 320.0L902.7 318.0L904.9 315.1L907.2 312.0L909.5 309.5"/>
<path d="M79.5 293.5L81.8 291.0L84.1 288.7L86.3 286.3L88.6 283.8L90.9 282.8L93.2 282.4L95.5 282.5L97.7 283.0L100.0 282.6L102.3 281.8L104.6 282.4L106.9 282.8L109.1 281.8L111.4 281.5L113.7 282.8L116.0 283.4L118.3 282.5L120.5 281.4L122.8 280.7L125.1 279.6L127.4 277.9L129.7 277.3L131.9 277.7L134.2 277.1L136.5 275.3L138.8 273.1L141.1 270.6L143.3 267.8L145.6 265.7L147.9 265.0L150.2 265.2L152.5 265.2L154.7 263.7L157.0 261.6L159.3 259.7L161.6 257.7L163.9 256.7L166.1 257.0L168.4 258.0L170.7 259.0L173.0 259.2L175.3 258.5L177.5 257.7L179.8 257.6L182.1 258.8L184.4 260.1L186.7 260.0L189.0 258.6L191.2 256.3L193.5 254.1L195.8 252.9L198.1 253.3L200.4 253.5L202.6 252.7L204.9 251.7L207.2 251.3L209.5 251.1L211.8 250.7L214.0 250.5L216.3 250.8L218.6 251.7L220.9 252.1L223.2 250.7L225.4 250.1L227.7 252.1L230.0 254.5L232.3 255.9L234.6 257.2L236.8 257.8L239.1 258.1L241.4 258.7L243.7 259.1L246.0 258.9L248.2 257.7L250.5 256.2L252.8 255.0L255.1 253.4L257.4 250.9L259.6 248.8L261.9 247.6L264.2 247.0L266.5 246.8L268.8 247.1L271.0 245.9L273.3 243.3L275.6 242.0L277.9 243.3L280.2 245.8L282.4 248.0L284.7 249.4L287.0 250.5L289.3 252.3L291.6 254.2L293.8 256.0L296.1 258.2L298.4 260.3L300.7 261.6L303.0 261.2L305.2 260.2L307.5 260.7L309.8 263.2L312.1 264.8L314.4 264.7L316.6 264.8L318.9 265.2L321.2 265.0L323.5 264.0L325.8 262.9L328.0 262.6L330.3 263.2L332.6 264.6L334.9 266.0L337.2 266.6L339.4 267.0L341.7 268.6L344.0 271.6L346.3 274.6L348.6 276.5L350.8 277.1L353.1 277.5L355.4 278.7L357.7 280.2L360.0 281.1L362.2 281.7L364.5 282.5L366.8 283.1L369.1 283.7L371.4 284.5L373.6 285.2L375.9 285.9L378.2 286.4L380.5 286.1L382.8 285.4L385.0 285.5L387.3 287.5L389.6 291.1L391.9 294.5L394.2 296.2L396.5 296.3L398.7 296.4L401.0 298.1L403.3 301.0L405.6 303.4L407.9 304.6L410.1 306.5L412.4 309.9L414.7 312.5L417.0 312.0L419.3 309.5L421.5 307.6L423.8 307.0L426.1 306.3L428.4 304.6L430.7 303.7L432.9 303.7L435.2 303.7L437.5 304.1L439.8 305.0L442.1 305.7L444.3 306.5L446.6 306.7L448.9 305.9L451.2 305.2L453.5 306.0L455.7 308.6L458.0 312.4L460.3 316.9L462.6 320.5L464.9 321.8L467.1 321.5L469.4 320.4L471.7 319.1L474.0 318.9L476.3 319.3L478.5 319.0L480.8 318.7L483.1 319.3L485.4 320.5L487.7 321.4L489.9 321.7L492.2 320.8L494.5 319.2L496.8 318.7L499.1 320.2L501.3 322.3L503.6 323.9L505.9 324.6L508.2 325.7L510.5 327.7L512.7 329.2L515.0 329.6L517.3 329.0L519.6 328.8L521.9 330.3L524.1 332.8L526.4 334.6L528.7 333.4L531.0 329.3L533.3 325.4L535.5 323.5L537.8 322.4L540.1 320.6L542.4 317.6L544.7 314.1L546.9 312.6L549.2 312.5L551.5 311.0L553.8 309.0L556.1 308.3L558.3 308.2L560.6 307.9L562.9 307.3L565.2 307.1L567.5 306.3L569.7 303.5L572.0 299.5L574.3 297.6L576.6 298.4L578.9 299.7L581.1 300.5L583.4 301.3L585.7 302.0L588.0 302.2L590.3 302.8L592.5 303.9L594.8 304.2L597.1 303.9L599.4 303.2L601.7 302.2L604.0 301.7L606.2 301.1L608.5 300.6L610.8 300.9L613.1 301.5L615.4 301.5L617.6 300.8L619.9 300.7L622.2 301.1L624.5 300.8L626.8 300.8L629.0 301.9L631.3 302.7L633.6 302.5L635.9 303.4L638.2 306.9L640.4 309.9L642.7 310.2L645.0 308.6L647.3 307.5L649.6 308.6L651.8 311.8L654.1 315.4L656.4 318.7L658.7 322.9L661.0 327.7L663.2 330.8L665.5 332.0L667.8 332.1L670.1 331.2L672.4 331.6L674.6 335.3L676.9 339.4L679.2 341.1L681.5 340.4L683.8 338.9L686.0 338.6L688.3 339.7L690.6 340.2L692.9 339.0L695.2 337.3L697.4 337.4L699.7 338.9L702.0 340.1L704.3 341.2L706.6 342.5L708.8 343.0L711.1 343.5L713.4 344.6L715.7 345.7L718.0 347.0L720.2 348.9L722.5 351.2L724.8 353.8L727.1 355.8L729.4 356.9L731.6 358.3L733.9 359.2L736.2 358.8L738.5 357.8L740.8 357.5L743.0 359.4L745.3 362.9L747.6 365.1L749.9 365.1L752.2 364.3L754.4 365.1L756.7 367.6L759.0 369.8L761.3 372.3L763.6 376.4L765.8 381.7L768.1 385.9L770.4 387.4L772.7 388.2L775.0 389.2L777.2 389.1L779.5 388.7L781.8 388.6L784.1 389.0L786.4 389.3L788.6 389.4L790.9 389.8L793.2 390.7L795.5 391.7L797.8 391.8L800.0 390.7L802.3 390.3L804.6 391.1L806.9 390.2L809.2 387.7L811.5 387.5L813.7 390.3L816.0 393.8L818.3 395.8L820.6 395.4L822.9 393.6L825.1 392.3L827.4 392.6L829.7 394.6L832.0 397.8L834.3 400.1L836.5 398.6L838.8 395.4L841.1 394.1L843.4 395.6L845.7 398.8L847.9 400.9L850.2 401.3L852.5 402.5L854.8 405.7L857.1 409.5L859.3 412.8L861.6 414.8L863.9 413.7L866.2 411.5L868.5 410.4L870.7 408.9L873.0 405.9L875.3 401.3L877.6 395.7L879.9 390.8L882.1 387.6L884.4 384.4L886.7 381.2L889.0 379.9L891.3 379.2L893.5 377.6L895.8 376.1L898.1 375.2L900.4 376.9L902.7 380.8L904.9 384.6L907.2 386.6L909.5 386.3"/>
<path d="M79.5 371.7L81.8 368.1L84.1 365.4L86.3 363.1L88.6 361.1L90.9 360.5L93.2 359.5L95.5 357.1L97.7 354.9L100.0 354.9L102.3 354.4L104.6 351.2L106.9 348.1L109.1 347.4L111.4 347.5L113.7 345.9L116.0 343.8L118.3 342.7L120.5 341.9L122.8 340.6L125.1 338.5L127.4 336.4L129.7 334.9L131.9 333.0L134.2 330.3L136.5 327.9L138.8 326.2L141.1 324.5L143.3 321.9L145.6 319.3L147.9 316.6L150.2 313.6L152.5 310.9L154.7 308.8L157.0 306.6L159.3 303.9L161.6 302.6L163.9 303.6L166.1 305.1L168.4 306.1L170.7 306.6L173.0 306.3L175.3 305.2L177.5 304.8L179.8 305.6L182.1 306.5L184.4 306.0L186.7 303.8L189.0 301.4L191.2 301.5L193.5 304.1L195.8 306.4L198.1 306.8L200.4 306.4L202.6 306.2L204.9 305.8L207.2 304.3L209.5 302.7L211.8 301.6L214.0 300.4L216.3 299.3L218.6 299.6L220.9 299.6L223.2 297.0L225.4 293.6L227.7 292.3L230.0 292.7L232.3 291.9L234.6 290.4L236.8 289.9L239.1 290.9L241.4 292.5L243.7 294.4L246.0 295.4L248.2 294.8L250.5 294.6L252.8 295.4L255.1 296.8L257.4 297.5L259.6 297.6L261.9 296.8L264.2 294.8L266.5 292.0L268.8 291.1L271.0 291.9L273.3 291.7L275.6 290.6L277.9 289.8L280.2 289.9L282.4 290.3L284.7 290.7L287.0 291.6L289.3 293.6L291.6 297.7L293.8 302.4L296.1 305.5L298.4 308.1L300.7 310.8L303.0 312.1L305.2 312.6L307.5 315.0L309.8 318.6L312.1 320.7L314.4 320.3L316.6 318.7L318.9 317.5L321.2 318.0L323.5 320.0L325.8 320.4L328.0 318.8L330.3 317.9L332.6 318.4L334.9 319.6L337.2 321.0L339.4 322.4L341.7 323.8L344.0 324.0L346.3 322.2L348.6 321.1L350.8 321.3L353.1 320.7L355.4 319.0L357.7 317.9L360.0 317.8L362.2 317.8L364.5 317.7L366.8 318.1L369.1 319.0L371.4 319.3L373.6 319.2L375.9 320.0L378.2 321.9L380.5 323.3L382.8 323.6L385.0 323.3L387.3 323.9L389.6 326.2L391.9 328.9L394.2 330.9L396.5 333.0L398.7 336.1L401.0 340.9L403.3 345.3L405.6 346.6L407.9 345.7L410.1 345.3L412.4 346.4L414.7 349.5L417.0 354.2L419.3 358.6L421.5 360.4L423.8 360.4L426.1 360.6L428.4 361.8L430.7 363.3L432.9 364.1L435.2 364.6L437.5 364.7L439.8 364.6L442.1 365.2L444.3 367.0L446.6 369.2L448.9 370.5L451.2 372.4L453.5 376.4L455.7 381.5L458.0 384.0L460.3 383.5L462.6 382.7L464.9 382.8L467.1 383.2L469.4 382.7L471.7 381.2L474.0 381.1L476.3 382.8L478.5 383.6L480.8 382.6L483.1 382.0L485.4 382.6L487.7 382.8L489.9 383.0L492.2 384.2L494.5 385.2L496.8 384.2L499.1 382.3L501.3 381.3L503.6 381.5L505.9 382.1L508.2 381.3L510.5 377.3L512.7 372.9L515.0 370.8L517.3 369.3L519.6 367.4L521.9 366.3L524.1 367.2L526.4 367.7L528.7 365.3L531.0 360.5L533.3 355.4L535.5 351.7L537.8 349.3L540.1 345.7L542.4 340.9L544.7 337.4L546.9 335.6L549.2 334.2L551.5 333.5L553.8 333.9L556.1 334.7L558.3 336.5L560.6 338.1L562.9 338.2L565.2 336.5L567.5 334.1L569.7 332.6L572.0 332.7L574.3 333.8L576.6 334.6L578.9 334.5L581.1 332.1L583.4 328.5L585.7 325.3L588.0 323.5L590.3 324.0L592.5 326.3L594.8 328.5L597.1 328.3L599.4 325.2L601.7 321.7L604.0 320.7L606.2 323.9L608.5 330.4L610.8 336.6L613.1 339.7L615.4 339.8L617.6 339.5L619.9 338.9L622.2 337.6L624.5 337.7L626.8 339.7L629.0 341.3L631.3 341.6L633.6 341.7L635.9 343.9L638.2 348.0L640.4 350.9L642.7 351.7L645.0 350.5L647.3 348.9L649.6 349.8L651.8 352.9L654.1 354.8L656.4 355.2L658.7 355.6L661.0 355.5L663.2 354.6L665.5 355.0L667.8 359.2L670.1 365.1L672.4 367.3L674.6 365.9L676.9 365.8L679.2 367.5L681.5 368.6L683.8 368.0L686.0 366.5L688.3 364.9L690.6 365.1L692.9 368.3L695.2 371.2L697.4 370.6L699.7 368.5L702.0 368.6L704.3 371.3L706.6 375.3L708.8 378.1L711.1 378.8L713.4 380.0L715.7 383.5L718.0 387.7L720.2 391.6L722.5 394.4L724.8 396.6L727.1 398.7L729.4 401.8L731.6 404.3L733.9 403.0L736.2 399.5L738.5 395.8L740.8 392.7L743.0 390.9L745.3 390.3L747.6 390.3L749.9 390.6L752.2 390.9L754.4 389.8L756.7 387.9L759.0 386.8L761.3 386.0L763.6 384.2L765.8 382.7L768.1 382.5L770.4 383.0L772.7 384.6L775.0 387.2L777.2 391.0L779.5 394.1L781.8 396.1L784.1 396.9L786.4 395.7L788.6 393.6L790.9 392.5L793.2 392.6L795.5 393.5L797.8 394.3L800.0 394.4L802.3 395.7L804.6 399.0L806.9 400.7L809.2 399.4L811.5 399.2L813.7 401.1L816.0 402.1L818.3 401.2L820.6 399.5L822.9 398.1L825.1 397.5L827.4 396.8L829.7 395.4L832.0 393.9L834.3 393.2L836.5 392.9L838.8 392.0L841.1 390.4L843.4 389.0L845.7 388.2L847.9 389.3L850.2 392.0L852.5 394.1L854.8 394.7L857.1 396.2L859.3 398.0L861.6 398.0L863.9 398.2L866.2 400.2L868.5 402.0L870.7 401.4L873.0 398.2L875.3 394.6L877.6 390.6L879.9 387.0L882.1 386.1L884.4 386.5L886.7 385.4L889.0 382.1L891.3 378.8L893.5 376.6L895.8 375.6L898.1 376.1L900.4 377.5L902.7 378.8L904.9 380.6L907.2 380.8L909.5 378.7"/>
<path d="M79.5 338.2L81.8 337.8L84.1 338.4L86.3 337.0L88.6 334.4L90.9 332.1L93.2 330.1L95.5 330.0L97.7 330.9L100.0 331.8L102.3 333.9L104.6 335.6L106.9 334.8L109.1 332.5L111.4 330.2L113.7 328.3L116.0 327.5L118.3 328.0L120.5 328.2L122.8 327.4L125.1 327.2L127.4 328.2L129.7 328.4L131.9 328.9L134.2 329.9L136.5 329.8L138.8 329.3L141.1 328.6L143.3 326.2L145.6 323.3L147.9 320.5L150.2 316.4L152.5 312.6L154.7 311.7L157.0 312.5L159.3 312.4L161.6 309.5L163.9 305.6L166.1 303.7L168.4 303.4L170.7 303.1L173.0 301.4L175.3 298.8L177.5 297.9L179.8 298.9L182.1 300.0L184.4 300.0L186.7 300.0L189.0 301.1L191.2 301.1L193.5 298.9L195.8 296.5L198.1 295.9L200.4 296.3L202.6 296.6L204.9 297.4L207.2 298.5L209.5 299.6L211.8 300.4L214.0 301.6L216.3 304.8L218.6 308.3L220.9 308.7L223.2 308.9L225.4 310.3L227.7 310.5L230.0 310.7L232.3 311.0L234.6 310.5L236.8 309.2L239.1 305.9L241.4 301.3L243.7 298.8L246.0 298.0L248.2 296.1L250.5 293.6L252.8 291.3L255.1 288.8L257.4 286.8L259.6 285.9L261.9 285.6L264.2 285.5L266.5 284.2L268.8 282.3L271.0 280.6L273.3 278.7L275.6 276.1L277.9 273.8L280.2 273.2L282.4 275.6L284.7 279.3L287.0 281.0L289.3 281.2L291.6 282.9L293.8 286.6L296.1 290.0L298.4 292.6L300.7 295.4L303.0 298.8L305.2 302.6L307.5 305.7L309.8 307.9L312.1 309.6L314.4 310.8L316.6 310.6L318.9 310.2L321.2 310.6L323.5 310.1L325.8 309.6L328.0 310.2L330.3 311.5L332.6 312.3L334.9 312.1L337.2 310.7L339.4 309.6L341.7 310.2L344.0 312.5L346.3 315.5L348.6 318.5L350.8 321.1L353.1 322.9L355.4 323.7L357.7 324.4L360.0 326.3L362.2 328.8L364.5 329.5L366.8 328.8L369.1 329.0L371.4 330.1L373.6 330.5L375.9 330.7L378.2 332.1L380.5 333.5L382.8 335.3L385.0 337.4L387.3 337.9L389.6 338.4L391.9 341.9L394.2 346.8L396.5 349.9L398.7 350.2L401.0 349.2L403.3 347.9L405.6 347.1L407.9 346.8L410.1 347.7L412.4 349.6L414.7 351.7L417.0 352.0L419.3 350.6L421.5 349.9L423.8 350.0L426.1 349.8L428.4 349.9L430.7 351.5L432.9 354.1L435.2 355.3L437.5 355.3L439.8 356.2L442.1 356.7L444.3 355.8L446.6 355.8L448.9 357.0L451.2 358.6L453.5 360.2L455.7 360.3L458.0 359.6L460.3 359.9L462.6 360.2L464.9 360.2L467.1 361.0L469.4 360.8L471.7 358.3L474.0 355.3L476.3 353.9L478.5 355.1L480.8 357.4L483.1 358.3L485.4 357.3L487.7 355.9L489.9 356.8L492.2 360.6L494.5 363.7L496.8 362.7L499.1 358.3L501.3 354.1L503.6 353.4L505.9 355.0L508.2 354.8L510.5 351.7L512.7 347.7L515.0 344.9L517.3 343.6L519.6 342.7L521.9 341.9L524.1 341.2L526.4 340.0L528.7 338.5L531.0 338.3L533.3 337.5L535.5 333.9L537.8 328.3L540.1 321.9L542.4 317.1L544.7 315.4L546.9 316.0L549.2 317.0L551.5 316.4L553.8 314.1L556.1 312.5L558.3 313.9L560.6 317.1L562.9 319.6L565.2 319.9L567.5 318.7L569.7 318.2L572.0 317.9L574.3 317.9L576.6 319.4L578.9 322.0L581.1 322.3L583.4 320.6L585.7 320.4L588.0 321.9L590.3 323.1L592.5 323.4L594.8 322.6L597.1 322.4L599.4 323.8L601.7 324.1L604.0 323.5L606.2 322.5L608.5 321.2L610.8 320.6L613.1 319.9L615.4 317.2L617.6 313.0L619.9 309.3L622.2 308.0L624.5 308.7L626.8 308.6L629.0 307.5L631.3 306.8L633.6 306.1L635.9 306.8L638.2 311.5L640.4 318.1L642.7 322.5L645.0 324.0L647.3 325.4L649.6 327.9L651.8 330.5L654.1 333.7L656.4 337.4L658.7 340.7L661.0 342.1L663.2 341.6L665.5 341.7L667.8 343.8L670.1 347.1L672.4 348.1L674.6 346.6L676.9 346.0L679.2 345.7L681.5 345.6L683.8 346.3L686.0 348.1L688.3 350.4L690.6 351.3L692.9 351.2L695.2 350.5L697.4 350.2L699.7 351.3L702.0 353.7L704.3 356.6L706.6 359.3L708.8 362.0L711.1 363.2L713.4 361.7L715.7 358.7L718.0 357.7L720.2 360.1L722.5 361.8L724.8 361.4L727.1 361.3L729.4 361.9L731.6 363.3L733.9 365.9L736.2 368.9L738.5 369.7L740.8 368.0L743.0 365.7L745.3 364.6L747.6 365.0L749.9 367.0L752.2 369.6L754.4 372.4L756.7 373.4L759.0 372.2L761.3 371.8L763.6 373.7L765.8 377.8L768.1 382.1L770.4 384.7L772.7 386.3L775.0 387.7L777.2 388.7L779.5 389.8L781.8 392.0L784.1 395.2L786.4 399.7L788.6 404.9L790.9 409.2L793.2 409.6L795.5 406.2L797.8 405.0L800.0 408.0L802.3 410.3L804.6 409.0L806.9 405.9L809.2 404.1L811.5 404.3L813.7 405.5L816.0 405.4L818.3 402.3L820.6 398.7L822.9 396.9L825.1 396.4L827.4 394.2L829.7 389.0L832.0 384.7L834.3 383.7L836.5 384.5L838.8 386.0L841.1 386.5L843.4 384.2L845.7 381.0L847.9 379.2L850.2 378.0L852.5 376.5L854.8 376.8L857.1 378.7L859.3 379.5L861.6 378.9L863.9 378.2L866.2 376.9L868.5 375.1L870.7 376.2L873.0 378.0L875.3 377.0L877.6 374.6L879.9 371.9L882.1 369.8L884.4 370.0L886.7 371.0L889.0 370.0L891.3 369.2L893.5 369.8L895.8 370.0L898.1 371.3L900.4 375.3L902.7 377.6L904.9 375.6L907.2 371.6L909.5 368.4"/>
<path d="M79.5 359.6L81.8 357.5L84.1 355.6L86.3 353.5L88.6 350.4L90.9 348.7L93.2 348.0L95.5 347.5L97.7 347.2L100.0 346.1L102.3 343.8L104.6 340.6L106.9 337.2L109.1 334.7L111.4 332.6L113.7 330.7L116.0 330.2L118.3 331.6L120.5 333.7L122.8 335.0L125.1 336.1L127.4 336.4L129.7 335.6L131.9 334.1L134.2 332.1L136.5 329.8L138.8 329.1L141.1 330.1L143.3 329.1L145.6 324.9L147.9 319.6L150.2 315.1L152.5 311.6L154.7 310.0L157.0 310.8L159.3 311.3L161.6 309.5L163.9 307.4L166.1 308.0L168.4 310.9L170.7 313.5L173.0 314.8L175.3 316.0L177.5 317.4L179.8 317.2L182.1 315.6L184.4 315.5L186.7 317.5L189.0 319.6L191.2 320.5L193.5 319.9L195.8 317.7L198.1 314.4L200.4 310.9L202.6 308.1L204.9 306.7L207.2 306.0L209.5 305.5L211.8 304.0L214.0 300.9L216.3 297.7L218.6 296.7L220.9 297.6L223.2 298.6L225.4 297.6L227.7 295.6L230.0 295.0L232.3 295.2L234.6 295.9L236.8 296.6L239.1 297.0L241.4 296.3L243.7 294.4L246.0 291.1L248.2 286.9L250.5 283.5L252.8 282.2L255.1 282.1L257.4 280.9L259.6 279.2L261.9 278.3L264.2 278.0L266.5 276.9L268.8 275.6L271.0 276.0L273.3 278.0L275.6 279.7L277.9 279.8L280.2 279.6L282.4 281.2L284.7 284.0L287.0 285.6L289.3 286.5L291.6 286.4L293.8 286.1L296.1 288.2L298.4 292.2L300.7 295.0L303.0 296.5L305.2 297.8L307.5 298.4L309.8 299.2L312.1 300.6L314.4 301.1L316.6 301.3L318.9 301.6L321.2 301.0L323.5 300.3L325.8 300.3L328.0 300.2L330.3 299.4L332.6 298.7L334.9 298.3L337.2 298.5L339.4 299.5L341.7 299.9L344.0 298.8L346.3 298.2L348.6 298.9L350.8 300.4L353.1 302.2L355.4 304.1L357.7 306.6L360.0 309.5L362.2 311.1L364.5 311.5L366.8 312.3L369.1 313.5L371.4 314.1L373.6 313.7L375.9 313.4L378.2 313.7L380.5 314.3L382.8 314.9L385.0 315.9L387.3 318.4L389.6 322.6L391.9 326.3L394.2 328.2L396.5 328.5L398.7 328.6L401.0 329.9L403.3 332.5L405.6 335.3L407.9 337.0L410.1 338.3L412.4 340.5L414.7 342.5L417.0 341.7L419.3 340.2L421.5 339.4L423.8 338.6L426.1 339.1L428.4 341.5L430.7 343.7L432.9 344.4L435.2 345.8L437.5 349.9L439.8 355.0L442.1 357.4L444.3 357.7L446.6 357.3L448.9 357.4L451.2 358.1L453.5 357.6L455.7 355.5L458.0 354.0L460.3 354.7L462.6 356.3L464.9 357.9L467.1 357.6L469.4 354.7L471.7 352.1L474.0 351.0L476.3 350.3L478.5 350.4L480.8 351.5L483.1 352.7L485.4 353.9L487.7 354.7L489.9 355.0L492.2 355.9L494.5 358.0L496.8 358.4L499.1 355.8L501.3 352.8L503.6 350.8L505.9 349.3L508.2 347.5L510.5 345.7L512.7 343.7L515.0 341.5L517.3 339.7L519.6 337.2L521.9 333.3L524.1 330.5L526.4 330.1L528.7 329.3L531.0 326.2L533.3 322.6L535.5 320.3L537.8 319.3L540.1 318.2L542.4 317.3L544.7 316.9L546.9 315.5L549.2 313.9L551.5 312.5L553.8 309.6L556.1 305.2L558.3 301.0L560.6 298.3L562.9 297.6L565.2 297.3L567.5 295.6L569.7 293.9L572.0 293.1L574.3 291.4L576.6 288.8L578.9 287.9L581.1 289.8L583.4 292.5L585.7 294.0L588.0 293.5L590.3 292.6L592.5 291.9L594.8 291.2L597.1 290.8L599.4 290.5L601.7 289.5L604.0 289.7L606.2 291.9L608.5 294.8L610.8 296.3L613.1 297.1L615.4 297.7L617.6 298.3L619.9 298.3L622.2 297.4L624.5 295.8L626.8 293.9L629.0 292.8L631.3 291.5L633.6 289.2L635.9 288.0L638.2 289.3L640.4 291.1L642.7 290.9L645.0 288.9L647.3 288.0L649.6 289.8L651.8 292.6L654.1 295.0L656.4 296.9L658.7 298.1L661.0 299.6L663.2 301.2L665.5 302.6L667.8 303.6L670.1 303.5L672.4 302.5L674.6 300.8L676.9 299.6L679.2 300.2L681.5 301.7L683.8 302.6L686.0 302.7L688.3 302.6L690.6 303.4L692.9 305.2L695.2 306.8L697.4 308.4L699.7 310.2L702.0 311.5L704.3 312.2L706.6 312.6L708.8 312.9L711.1 313.7L713.4 315.2L715.7 316.6L718.0 318.5L720.2 321.5L722.5 324.9L724.8 328.6L727.1 331.1L729.4 331.9L731.6 332.5L733.9 331.9L736.2 330.3L738.5 330.0L740.8 331.1L743.0 331.8L745.3 332.3L747.6 332.8L749.9 333.7L752.2 334.8L754.4 335.0L756.7 334.6L759.0 335.6L761.3 337.5L763.6 338.6L765.8 338.5L768.1 338.2L770.4 338.9L772.7 340.2L775.0 341.1L777.2 343.0L779.5 345.4L781.8 346.1L784.1 345.6L786.4 345.3L788.6 345.6L790.9 347.6L793.2 350.1L795.5 351.0L797.8 351.5L800.0 353.4L802.3 355.8L804.6 356.9L806.9 357.4L809.2 359.1L811.5 362.2L813.7 364.9L816.0 365.1L818.3 364.4L820.6 363.6L822.9 361.8L825.1 359.5L827.4 357.8L829.7 357.8L832.0 358.3L834.3 357.5L836.5 356.3L838.8 355.5L841.1 354.5L843.4 353.8L845.7 354.3L847.9 355.4L850.2 356.4L852.5 357.0L854.8 357.9L857.1 358.1L859.3 357.3L861.6 356.1L863.9 354.9L866.2 353.9L868.5 352.6L870.7 352.4L873.0 353.2L875.3 353.1L877.6 351.6L879.9 350.3L882.1 351.1L884.4 352.2L886.7 352.1L889.0 351.5L891.3 351.0L893.5 350.2L895.8 349.0L898.1 347.4L900.4 346.7L902.7 347.0L904.9 347.9L907.2 348.2L909.5 346.6"/>
<path d="M79.5 301.8L81.8 298.8L84.1 296.6L86.3 295.6L88.6 296.0L90.9 297.8L93.2 299.0L95.5 298.0L97.7 295.8L100.0 294.7L102.3 295.5L104.6 297.5L106.9 299.5L109.1 300.4L111.4 299.9L113.7 299.4L116.0 298.7L118.3 297.0L120.5 295.4L122.8 293.7L125.1 292.1L127.4 291.7L129.7 291.9L131.9 291.6L134.2 291.2L136.5 291.3L138.8 291.5L141.1 291.2L143.3 290.4L145.6 289.3L147.9 287.8L150.2 286.0L152.5 284.9L154.7 284.8L157.0 284.5L159.3 283.1L161.6 282.1L163.9 283.1L166.1 285.2L168.4 286.8L170.7 287.6L173.0 287.6L175.3 286.5L177.5 284.8L179.8 283.9L182.1 284.5L184.4 285.6L186.7 286.5L189.0 286.8L191.2 286.0L193.5 285.1L195.8 285.2L198.1 285.6L200.4 285.2L202.6 284.3L204.9 283.9L207.2 284.3L209.5 285.0L211.8 285.5L214.0 285.5L216.3 284.4L218.6 283.6L220.9 285.1L223.2 288.0L225.4 289.4L227.7 289.0L230.0 289.1L232.3 289.6L234.6 291.0L236.8 293.0L239.1 293.4L241.4 290.9L243.7 288.4L246.0 287.3L248.2 287.1L250.5 287.2L252.8 286.0L255.1 283.4L257.4 280.9L259.6 280.3L261.9 281.1L264.2 282.5L266.5 283.5L268.8 283.9L271.0 285.1L273.3 286.9L275.6 286.2L277.9 283.0L280.2 279.7L282.4 278.1L284.7 279.3L287.0 282.0L289.3 284.3L291.6 285.7L293.8 286.3L296.1 285.7L298.4 284.9L300.7 285.6L303.0 287.3L305.2 287.9L307.5 286.6L309.8 284.7L312.1 285.1L314.4 287.9L316.6 290.0L318.9 290.5L321.2 291.7L323.5 294.2L325.8 295.9L328.0 296.6L330.3 296.4L332.6 296.0L334.9 296.6L337.2 297.8L339.4 298.3L341.7 298.2L344.0 298.5L346.3 298.1L348.6 296.9L350.8 295.9L353.1 295.2L355.4 293.6L357.7 291.8L360.0 290.6L362.2 289.9L364.5 289.4L366.8 289.6L369.1 290.6L371.4 292.2L373.6 293.4L375.9 294.8L378.2 297.1L380.5 298.4L382.8 297.1L385.0 295.3L387.3 295.6L389.6 298.0L391.9 300.9L394.2 302.4L396.5 302.6L398.7 303.0L401.0 303.6L403.3 304.5L405.6 306.0L407.9 307.5L410.1 308.7L412.4 309.4L414.7 309.9L417.0 310.7L419.3 311.6L421.5 311.7L423.8 311.4L426.1 311.5L428.4 310.7L430.7 309.1L432.9 308.0L435.2 308.2L437.5 310.4L439.8 314.0L442.1 316.6L444.3 317.6L446.6 319.2L448.9 320.6L451.2 319.3L453.5 317.3L455.7 317.2L458.0 318.5L460.3 320.2L462.6 320.8L464.9 320.1L467.1 319.3L469.4 318.7L471.7 317.6L474.0 316.6L476.3 317.0L478.5 318.4L480.8 319.6L483.1 319.7L485.4 318.8L487.7 318.6L489.9 320.4L492.2 321.9L494.5 320.5L496.8 318.4L499.1 318.3L501.3 319.7L503.6 320.4L505.9 319.4L508.2 316.6L510.5 313.4L512.7 310.7L515.0 308.9L517.3 307.8L519.6 306.7L521.9 305.3L524.1 304.0L526.4 302.5L528.7 301.7L531.0 302.4L533.3 302.9L535.5 302.6L537.8 301.9L540.1 301.1L542.4 300.5L544.7 299.8L546.9 299.8L549.2 300.4L551.5 300.5L553.8 300.2L556.1 299.5L558.3 298.6L560.6 298.6L562.9 299.4L565.2 299.8L567.5 298.9L569.7 297.7L572.0 296.6L574.3 295.3L576.6 295.0L578.9 296.4L581.1 297.5L583.4 296.6L585.7 294.7L588.0 294.1L590.3 294.0L592.5 292.9L594.8 291.6L597.1 290.3L599.4 288.3L601.7 287.3L604.0 287.7L606.2 288.7L608.5 289.5L610.8 287.8L613.1 284.7L615.4 283.5L617.6 284.7L619.9 285.5L622.2 284.7L624.5 284.2L626.8 284.2L629.0 283.9L631.3 283.8L633.6 285.3L635.9 286.8L638.2 286.5L640.4 285.8L642.7 287.1L645.0 290.0L647.3 292.0L649.6 291.4L651.8 290.5L654.1 292.1L656.4 295.8L658.7 299.3L661.0 300.6L663.2 299.8L665.5 299.3L667.8 300.4L670.1 302.6L672.4 305.0L674.6 306.1L676.9 306.1L679.2 306.4L681.5 307.1L683.8 307.3L686.0 306.9L688.3 306.1L690.6 305.5L692.9 306.0L695.2 307.7L697.4 309.1L699.7 310.1L702.0 311.2L704.3 311.7L706.6 311.8L708.8 313.6L711.1 316.4L713.4 318.7L715.7 320.3L718.0 321.7L720.2 322.8L722.5 323.2L724.8 323.9L727.1 325.4L729.4 327.3L731.6 329.2L733.9 330.1L736.2 329.8L738.5 329.2L740.8 329.5L743.0 330.2L745.3 330.8L747.6 331.5L749.9 331.9L752.2 331.6L754.4 330.8L756.7 329.5L759.0 328.4L761.3 328.5L763.6 330.0L765.8 331.3L768.1 331.8L770.4 333.0L772.7 335.2L775.0 336.0L777.2 334.7L779.5 333.6L781.8 334.1L784.1 335.1L786.4 336.3L788.6 337.8L790.9 338.5L793.2 337.8L795.5 337.7L797.8 339.2L800.0 341.3L802.3 341.9L804.6 341.4L806.9 341.3L809.2 341.5L811.5 341.3L813.7 340.8L816.0 341.1L818.3 342.2L820.6 342.4L822.9 341.8L825.1 341.9L827.4 342.5L829.7 343.0L832.0 343.6L834.3 343.2L836.5 341.3L838.8 339.6L841.1 339.2L843.4 338.4L845.7 336.8L847.9 336.3L850.2 336.4L852.5 335.6L854.8 335.5L857.1 337.0L859.3 338.1L861.6 338.5L863.9 338.9L866.2 340.5L868.5 343.3L870.7 345.1L873.0 345.0L875.3 343.1L877.6 341.7L879.9 342.2L882.1 342.4L884.4 340.9L886.7 338.8L889.0 337.3L891.3 336.0L893.5 334.2L895.8 332.8L898.1 331.8L900.4 329.5L902.7 325.8L904.9 323.6L907.2 323.1L909.5 322.5"/>
<path d="M79.5 295.5L81.8 294.8L84.1 293.9L86.3 292.7L88.6 292.4L90.9 293.3L93.2 294.1L95.5 294.7L97.7 295.0L100.0 295.0L102.3 295.0L104.6 294.7L106.9 294.1L109.1 293.4L111.4 291.9L113.7 289.4L116.0 287.7L118.3 287.5L120.5 287.7L122.8 287.8L125.1 287.9L127.4 287.7L129.7 287.0L131.9 285.7L134.2 283.8L136.5 281.5L138.8 279.7L141.1 278.9L143.3 278.3L145.6 278.1L147.9 278.4L150.2 277.2L152.5 275.1L154.7 274.1L157.0 274.3L159.3 274.4L161.6 273.0L163.9 270.5L166.1 268.5L168.4 268.3L170.7 269.6L173.0 271.2L175.3 272.9L177.5 275.1L179.8 276.9L182.1 278.5L184.4 279.6L186.7 279.5L189.0 278.2L191.2 275.7L193.5 273.8L195.8 273.4L198.1 273.3L200.4 272.8L202.6 271.2L204.9 268.8L207.2 266.9L209.5 265.7L211.8 265.9L214.0 267.0L216.3 267.4L218.6 266.8L220.9 266.3L223.2 267.2L225.4 268.5L227.7 268.4L230.0 268.0L232.3 268.3L234.6 268.4L236.8 267.1L239.1 264.1L241.4 260.9L243.7 259.1L246.0 258.0L248.2 256.0L250.5 253.6L252.8 251.9L255.1 251.1L257.4 250.6L259.6 250.2L261.9 249.5L264.2 248.9L266.5 248.5L268.8 247.4L271.0 246.2L273.3 246.4L275.6 247.4L277.9 248.7L280.2 250.1L282.4 251.5L284.7 252.8L287.0 254.2L289.3 256.6L291.6 259.8L293.8 262.1L296.1 263.4L298.4 265.0L300.7 267.3L303.0 269.2L305.2 270.9L307.5 272.9L309.8 274.4L312.1 274.3L314.4 273.9L316.6 275.3L318.9 277.5L321.2 279.3L323.5 280.9L325.8 282.2L328.0 283.2L330.3 283.6L332.6 282.9L334.9 283.2L337.2 285.3L339.4 286.9L341.7 287.5L344.0 289.0L346.3 291.0L348.6 292.4L350.8 293.4L353.1 294.4L355.4 295.9L357.7 296.6L360.0 295.7L362.2 294.5L364.5 294.2L366.8 294.9L369.1 295.7L371.4 296.8L373.6 299.0L375.9 302.2L378.2 306.1L380.5 309.6L382.8 311.7L385.0 313.9L387.3 316.4L389.6 319.3L391.9 321.8L394.2 323.2L396.5 323.8L398.7 323.5L401.0 322.7L403.3 321.1L405.6 319.5L407.9 319.2L410.1 319.4L412.4 319.3L414.7 319.9L417.0 321.3L419.3 321.8L421.5 320.1L423.8 317.7L426.1 316.9L428.4 316.5L430.7 316.9L432.9 318.5L435.2 321.4L437.5 324.7L439.8 326.9L442.1 326.7L444.3 325.5L446.6 324.9L448.9 324.9L451.2 323.5L453.5 321.7L455.7 322.5L458.0 324.9L460.3 326.9L462.6 327.1L464.9 326.0L467.1 324.9L469.4 324.2L471.7 323.6L474.0 322.1L476.3 319.0L478.5 315.6L480.8 312.6L483.1 310.1L485.4 308.7L487.7 308.4L489.9 307.6L492.2 306.7L494.5 306.3L496.8 306.8L499.1 307.9L501.3 309.1L503.6 308.7L505.9 306.1L508.2 303.0L510.5 301.6L512.7 301.6L515.0 301.3L517.3 301.0L519.6 301.2L521.9 301.1L524.1 300.9L526.4 300.5L528.7 299.2L531.0 297.4L533.3 296.1L535.5 295.6L537.8 294.7L540.1 292.3L542.4 289.5L544.7 286.9L546.9 284.8L549.2 283.3L551.5 282.5L553.8 282.8L556.1 281.9L558.3 279.9L560.6 278.4L562.9 278.0L565.2 277.6L567.5 276.5L569.7 276.3L572.0 277.6L574.3 278.8L576.6 278.1L578.9 276.6L581.1 276.5L583.4 277.5L585.7 276.4L588.0 273.8L590.3 272.7L592.5 272.6L594.8 272.5L597.1 272.3L599.4 271.5L601.7 270.1L604.0 269.0L606.2 269.2L608.5 270.3L610.8 270.4L613.1 269.5L615.4 269.5L617.6 270.5L619.9 270.9L622.2 271.7L624.5 274.3L626.8 277.6L629.0 279.6L631.3 280.2L633.6 281.1L635.9 283.3L638.2 286.8L640.4 289.6L642.7 290.9L645.0 292.1L647.3 294.5L649.6 297.0L651.8 298.0L654.1 298.4L656.4 300.1L658.7 303.3L661.0 306.9L663.2 308.8L665.5 308.9L667.8 308.9L670.1 309.6L672.4 311.1L674.6 313.2L676.9 314.5L679.2 315.4L681.5 316.6L683.8 315.8L686.0 313.2L688.3 311.4L690.6 309.9L692.9 308.6L695.2 309.1L697.4 311.1L699.7 312.4L702.0 312.8L704.3 313.8L706.6 314.8L708.8 315.6L711.1 316.0L713.4 315.7L715.7 315.9L718.0 316.9L720.2 317.6L722.5 317.3L724.8 316.5L727.1 316.3L729.4 316.9L731.6 318.5L733.9 320.2L736.2 321.2L738.5 321.6L740.8 321.8L743.0 322.2L745.3 323.2L747.6 324.6L749.9 327.1L752.2 329.5L754.4 330.9L756.7 330.6L759.0 329.3L761.3 328.9L763.6 329.7L765.8 331.8L768.1 335.3L770.4 338.7L772.7 340.2L775.0 340.3L777.2 340.3L779.5 341.2L781.8 342.1L784.1 341.9L786.4 340.9L788.6 340.6L790.9 341.2L793.2 341.3L795.5 341.1L797.8 341.1L800.0 340.4L802.3 339.0L804.6 338.2L806.9 338.7L809.2 339.7L811.5 341.2L813.7 342.9L816.0 343.8L818.3 343.7L820.6 342.6L822.9 340.0L825.1 337.8L827.4 338.3L829.7 340.8L832.0 342.7L834.3 342.3L836.5 340.5L838.8 338.9L841.1 338.3L843.4 338.4L845.7 338.2L847.9 337.6L850.2 337.3L852.5 337.9L854.8 338.1L857.1 337.0L859.3 336.4L861.6 337.0L863.9 338.3L866.2 338.8L868.5 337.6L870.7 335.5L873.0 334.8L875.3 335.6L877.6 336.1L879.9 335.6L882.1 335.3L884.4 335.2L886.7 334.7L889.0 334.9L891.3 335.5L893.5 335.6L895.8 335.6L898.1 335.6L900.4 336.6L902.7 338.6L904.9 339.3L907.2 338.6L909.5 338.0"/>
<path d="M79.5 328.4L81.8 329.0L84.1 331.0L86.3 332.3L88.6 330.7L90.9 327.6L93.2 324.4L95.5 322.6L97.7 322.4L100.0 322.1L102.3 320.7L104.6 319.0L106.9 317.9L109.1 318.4L111.4 320.7L113.7 323.1L116.0 324.0L118.3 322.5L120.5 318.2L122.8 313.8L125.1 312.0L127.4 311.6L129.7 311.5L131.9 311.6L134.2 310.5L136.5 308.7L138.8 306.9L141.1 304.1L143.3 300.8L145.6 298.1L147.9 295.8L150.2 293.4L152.5 291.2L154.7 289.9L157.0 289.0L159.3 288.0L161.6 287.7L163.9 288.3L166.1 289.1L168.4 289.7L170.7 290.1L173.0 289.8L175.3 288.9L177.5 288.7L179.8 288.7L182.1 288.3L184.4 288.2L186.7 289.3L189.0 290.9L191.2 291.8L193.5 291.7L195.8 290.7L198.1 289.0L200.4 287.9L202.6 287.1L204.9 286.1L207.2 284.7L209.5 282.8L211.8 280.7L214.0 279.9L216.3 280.2L218.6 280.7L220.9 280.8L223.2 280.7L225.4 280.8L227.7 279.9L230.0 277.8L232.3 275.2L234.6 274.1L236.8 275.5L239.1 277.0L241.4 276.2L243.7 274.1L246.0 272.8L248.2 271.7L250.5 270.8L252.8 271.0L255.1 270.2L257.4 267.6L259.6 265.9L261.9 266.2L264.2 267.2L266.5 267.7L268.8 268.4L271.0 269.8L273.3 271.1L275.6 270.4L277.9 268.6L280.2 268.5L282.4 270.5L284.7 271.9L287.0 270.3L289.3 268.4L291.6 269.1L293.8 271.2L296.1 273.0L298.4 274.3L300.7 275.6L303.0 276.3L305.2 276.8L307.5 277.4L309.8 278.6L312.1 279.9L314.4 281.1L316.6 281.4L318.9 281.1L321.2 281.1L323.5 281.7L325.8 283.4L328.0 286.1L330.3 288.2L332.6 288.1L334.9 286.2L337.2 285.5L339.4 287.1L341.7 289.4L344.0 290.9L346.3 290.9L348.6 290.9L350.8 292.4L353.1 293.9L355.4 293.9L357.7 292.8L360.0 291.6L362.2 291.2L364.5 291.5L366.8 291.8L369.1 292.2L371.4 293.3L373.6 294.2L375.9 294.2L378.2 293.3L380.5 292.7L382.8 293.7L385.0 295.9L387.3 298.4L389.6 300.1L391.9 301.2L394.2 303.2L396.5 306.2L398.7 309.2L401.0 312.1L403.3 313.9L405.6 314.3L407.9 313.8L410.1 312.6L412.4 311.5L414.7 311.7L417.0 311.9L419.3 312.0L421.5 312.8L423.8 313.0L426.1 311.9L428.4 309.9L430.7 308.7L432.9 309.1L435.2 309.9L437.5 311.2L439.8 312.4L442.1 312.6L444.3 313.2L446.6 315.1L448.9 317.1L451.2 318.9L453.5 320.0L455.7 320.0L458.0 320.6L460.3 322.8L462.6 324.5L464.9 325.1L467.1 324.6L469.4 322.1L471.7 318.9L474.0 316.9L476.3 316.4L478.5 316.4L480.8 315.9L483.1 314.6L485.4 313.6L487.7 313.7L489.9 313.9L492.2 312.8L494.5 312.0L496.8 312.1L499.1 312.0L501.3 312.4L503.6 313.7L505.9 315.1L508.2 315.6L510.5 315.0L512.7 314.0L515.0 313.4L517.3 312.0L519.6 309.8L521.9 307.1L524.1 304.4L526.4 302.0L528.7 299.6L531.0 296.5L533.3 293.0L535.5 290.2L537.8 288.8L540.1 287.7L542.4 286.0L544.7 284.2L546.9 282.2L549.2 278.9L551.5 274.5L553.8 271.3L556.1 270.5L558.3 270.8L560.6 270.6L562.9 270.6L565.2 270.4L567.5 269.5L569.7 269.0L572.0 269.4L574.3 270.0L576.6 271.1L578.9 272.5L581.1 273.3L583.4 272.9L585.7 271.7L588.0 271.0L590.3 271.3L592.5 272.5L594.8 273.6L597.1 274.5L599.4 275.0L601.7 275.4L604.0 276.5L606.2 279.4L608.5 282.1L610.8 282.2L613.1 280.9L615.4 280.0L617.6 279.6L619.9 278.8L622.2 278.1L624.5 277.8L626.8 276.8L629.0 275.4L631.3 274.7L633.6 275.4L635.9 277.7L638.2 279.6L640.4 280.2L642.7 280.8L645.0 282.5L647.3 284.4L649.6 285.1L651.8 284.9L654.1 285.4L656.4 286.3L658.7 287.0L661.0 288.3L663.2 290.7L665.5 293.4L667.8 295.4L670.1 295.8L672.4 295.7L674.6 296.7L676.9 299.0L679.2 301.3L681.5 303.0L683.8 304.0L686.0 303.7L688.3 302.7L690.6 302.1L692.9 303.2L695.2 305.9L697.4 309.0L699.7 311.1L702.0 312.5L704.3 314.0L706.6 316.4L708.8 319.0L711.1 319.4L713.4 318.8L715.7 320.2L718.0 323.7L720.2 325.9L722.5 325.3L724.8 324.3L727.1 324.3L729.4 324.8L731.6 325.9L733.9 327.2L736.2 328.8L738.5 330.1L740.8 331.5L743.0 333.4L745.3 335.1L747.6 335.7L749.9 335.5L752.2 335.7L754.4 335.8L756.7 335.6L759.0 336.2L761.3 338.1L763.6 338.9L765.8 337.6L768.1 336.4L770.4 336.7L772.7 338.8L775.0 340.3L777.2 340.1L779.5 339.5L781.8 339.0L784.1 338.5L786.4 338.6L788.6 340.1L790.9 342.0L793.2 344.4L795.5 346.9L797.8 348.1L800.0 348.2L802.3 347.8L804.6 347.1L806.9 346.3L809.2 347.1L811.5 348.4L813.7 348.5L816.0 347.8L818.3 347.3L820.6 346.7L822.9 344.9L825.1 342.2L827.4 341.1L829.7 341.5L832.0 340.5L834.3 338.3L836.5 336.1L838.8 334.8L841.1 336.0L843.4 338.1L845.7 339.0L847.9 339.0L850.2 338.6L852.5 338.4L854.8 339.1L857.1 339.8L859.3 339.3L861.6 338.9L863.9 339.9L866.2 340.8L868.5 340.0L870.7 338.5L873.0 337.0L875.3 335.6L877.6 335.4L879.9 336.8L882.1 338.1L884.4 338.2L886.7 337.2L889.0 335.6L891.3 334.2L893.5 332.9L895.8 331.3L898.1 330.5L900.4 330.2L902.7 329.4L904.9 327.6L907.2 325.1L909.5 322.7"/>
<path d="M79.5 342.0L81.8 341.0L84.1 339.8L86.3 337.1L88.6 333.2L90.9 332.5L93.2 334.5L95.5 335.1L97.7 333.1L100.0 331.4L102.3 330.9L104.6 330.0L106.9 327.5L109.1 324.8L111.4 322.9L113.7 321.2L116.0 319.5L118.3 318.4L120.5 318.3L122.8 318.1L125.1 316.8L127.4 314.0L129.7 310.9L131.9 307.6L134.2 303.5L136.5 299.1L138.8 295.9L141.1 294.8L143.3 294.2L145.6 291.8L147.9 288.0L150.2 284.7L152.5 282.6L154.7 281.4L157.0 280.0L159.3 278.4L161.6 277.2L163.9 276.6L166.1 276.0L168.4 275.3L170.7 274.6L173.0 273.8L175.3 273.5L177.5 273.5L179.8 272.4L182.1 270.2L184.4 268.3L186.7 267.5L189.0 267.5L191.2 267.2L193.5 266.4L195.8 265.5L198.1 265.0L200.4 264.9L202.6 264.6L204.9 264.5L207.2 265.1L209.5 265.7L211.8 265.6L214.0 265.6L216.3 265.8L218.6 264.3L220.9 261.9L223.2 260.4L225.4 260.1L227.7 260.0L230.0 259.7L232.3 258.2L234.6 256.8L236.8 256.3L239.1 256.9L241.4 257.5L243.7 257.3L246.0 256.6L248.2 255.8L250.5 256.1L252.8 257.0L255.1 257.0L257.4 255.6L259.6 254.6L261.9 254.7L264.2 255.4L266.5 256.9L268.8 258.5L271.0 258.6L273.3 257.3L275.6 255.8L277.9 255.0L280.2 254.6L282.4 254.7L284.7 256.0L287.0 258.6L289.3 261.7L291.6 264.3L293.8 267.4L296.1 270.2L298.4 271.9L300.7 272.9L303.0 275.6L305.2 280.7L307.5 285.4L309.8 288.7L312.1 290.8L314.4 292.0L316.6 293.9L318.9 297.2L321.2 299.4L323.5 299.1L325.8 298.0L328.0 297.3L330.3 296.1L332.6 294.7L334.9 294.1L337.2 294.0L339.4 293.9L341.7 294.1L344.0 294.9L346.3 295.0L348.6 295.2L350.8 296.4L353.1 298.4L355.4 300.7L357.7 301.6L360.0 300.7L362.2 299.5L364.5 299.4L366.8 298.9L369.1 296.9L371.4 296.2L373.6 298.5L375.9 302.1L378.2 305.6L380.5 309.0L382.8 312.0L385.0 314.2L387.3 316.3L389.6 318.6L391.9 320.5L394.2 322.3L396.5 325.2L398.7 328.5L401.0 331.9L403.3 334.7L405.6 336.0L407.9 336.0L410.1 336.2L412.4 336.1L414.7 336.0L417.0 335.2L419.3 334.8L421.5 335.9L423.8 336.0L426.1 334.6L428.4 333.2L430.7 332.3L432.9 330.8L435.2 328.9L437.5 328.2L439.8 330.1L442.1 332.0L444.3 332.9L446.6 334.7L448.9 337.2L451.2 339.3L453.5 341.1L455.7 342.9L458.0 344.3L460.3 345.5L462.6 344.7L464.9 341.9L467.1 339.5L469.4 338.4L471.7 338.0L474.0 337.1L476.3 335.8L478.5 335.6L480.8 336.4L483.1 337.1L485.4 337.3L487.7 336.6L489.9 334.9L492.2 333.8L494.5 333.8L496.8 333.3L499.1 330.5L501.3 326.3L503.6 322.9L505.9 321.3L508.2 320.7L510.5 319.9L512.7 318.0L515.0 314.9L517.3 312.4L519.6 311.9L521.9 311.1L524.1 308.9L526.4 306.7L528.7 304.7L531.0 302.5L533.3 300.6L535.5 299.0L537.8 297.7L540.1 295.6L542.4 292.7L544.7 289.9L546.9 288.0L549.2 286.7L551.5 286.1L553.8 285.9L556.1 285.7L558.3 285.0L560.6 283.2L562.9 281.1L565.2 280.1L567.5 280.3L569.7 281.5L572.0 282.9L574.3 283.8L576.6 283.8L578.9 283.2L581.1 282.7L583.4 282.7L585.7 283.5L588.0 285.7L590.3 287.8L592.5 288.1L594.8 288.2L597.1 288.9L599.4 289.2L601.7 287.8L604.0 286.0L606.2 286.3L608.5 288.4L610.8 289.7L613.1 289.5L615.4 288.2L617.6 286.7L619.9 286.6L622.2 287.4L624.5 287.4L626.8 287.1L629.0 286.9L631.3 287.3L633.6 288.5L635.9 289.7L638.2 290.9L640.4 292.0L642.7 293.0L645.0 294.1L647.3 295.1L649.6 295.7L651.8 297.2L654.1 300.2L656.4 303.6L658.7 306.7L661.0 309.1L663.2 310.5L665.5 310.9L667.8 310.7L670.1 311.3L672.4 313.4L674.6 316.0L676.9 317.4L679.2 317.9L681.5 317.5L683.8 316.0L686.0 315.0L688.3 314.5L690.6 314.5L692.9 315.5L695.2 316.9L697.4 317.8L699.7 317.9L702.0 318.7L704.3 320.4L706.6 320.1L708.8 318.8L711.1 318.7L713.4 319.7L715.7 321.3L718.0 323.9L720.2 327.4L722.5 330.8L724.8 333.2L727.1 334.4L729.4 336.0L731.6 338.7L733.9 339.6L736.2 339.3L738.5 339.8L740.8 341.7L743.0 343.8L745.3 345.1L747.6 345.3L749.9 345.2L752.2 345.3L754.4 345.6L756.7 345.4L759.0 345.3L761.3 346.2L763.6 347.3L765.8 349.1L768.1 352.0L770.4 354.8L772.7 357.2L775.0 358.8L777.2 359.4L779.5 358.8L781.8 358.9L784.1 359.8L786.4 360.0L788.6 359.9L790.9 360.1L793.2 360.3L795.5 359.9L797.8 359.6L800.0 360.6L802.3 360.9L804.6 358.5L806.9 354.5L809.2 351.3L811.5 349.9L813.7 350.2L816.0 351.7L818.3 351.9L820.6 350.1L822.9 348.8L825.1 349.2L827.4 350.4L829.7 350.9L832.0 350.1L834.3 347.9L836.5 346.0L838.8 346.6L841.1 348.4L843.4 349.2L845.7 349.5L847.9 349.6L850.2 349.0L852.5 347.1L854.8 344.3L857.1 343.3L859.3 344.2L861.6 345.0L863.9 343.8L866.2 341.3L868.5 339.2L870.7 338.6L873.0 338.6L875.3 338.4L877.6 337.9L879.9 336.9L882.1 336.0L884.4 335.4L886.7 335.2L889.0 334.0L891.3 330.0L893.5 325.3L895.8 323.1L898.1 323.1L900.4 323.0L902.7 323.4L904.9 324.9L907.2 326.0L909.5 326.5"/>
<path d="M79.5 324.7L81.8 323.0L84.1 321.9L86.3 321.7L88.6 321.6L90.9 321.5L93.2 320.9L95.5 320.0L97.7 319.4L100.0 319.9L102.3 321.2L104.6 322.2L106.9 321.4L109.1 320.3L111.4 320.4L113.7 320.6L116.0 320.8L118.3 320.5L120.5 319.2L122.8 318.5L125.1 318.9L127.4 318.5L129.7 316.6L131.9 314.6L134.2 312.6L136.5 310.0L138.8 307.4L141.1 305.5L143.3 303.1L145.6 299.7L147.9 297.3L150.2 296.5L152.5 295.3L154.7 293.9L157.0 292.9L159.3 291.2L161.6 289.4L163.9 289.5L166.1 290.2L168.4 290.4L170.7 290.9L173.0 292.3L175.3 293.7L177.5 294.8L179.8 295.9L182.1 297.5L184.4 299.3L186.7 300.0L189.0 299.6L191.2 299.5L193.5 300.4L195.8 300.3L198.1 297.7L200.4 294.4L202.6 292.9L204.9 293.6L207.2 294.0L209.5 293.0L211.8 292.3L214.0 292.8L216.3 293.5L218.6 294.8L220.9 295.7L223.2 295.1L225.4 293.6L227.7 292.2L230.0 292.6L232.3 293.7L234.6 293.2L236.8 290.2L239.1 287.0L241.4 285.7L243.7 285.0L246.0 283.1L248.2 280.8L250.5 279.5L252.8 278.7L255.1 277.2L257.4 276.2L259.6 276.7L261.9 277.3L264.2 276.4L266.5 274.4L268.8 272.9L271.0 271.8L273.3 271.3L275.6 271.3L277.9 271.9L280.2 273.3L282.4 275.3L284.7 276.7L287.0 278.0L289.3 280.0L291.6 281.6L293.8 281.1L296.1 278.3L298.4 275.1L300.7 274.3L303.0 276.2L305.2 277.8L307.5 276.9L309.8 274.7L312.1 273.6L314.4 274.2L316.6 275.6L318.9 277.7L321.2 279.5L323.5 279.7L325.8 280.0L328.0 281.7L330.3 283.3L332.6 284.4L334.9 285.5L337.2 286.9L339.4 287.9L341.7 289.5L344.0 291.9L346.3 293.3L348.6 293.4L350.8 293.2L353.1 293.3L355.4 293.6L357.7 293.6L360.0 293.1L362.2 292.8L364.5 293.9L366.8 296.4L369.1 299.2L371.4 301.9L373.6 303.8L375.9 305.3L378.2 308.2L380.5 311.9L382.8 313.7L385.0 314.0L387.3 316.1L389.6 320.8L391.9 325.2L394.2 326.9L396.5 327.3L398.7 328.7L401.0 331.5L403.3 333.6L405.6 334.3L407.9 334.3L410.1 334.3L412.4 334.4L414.7 334.7L417.0 335.0L419.3 335.1L421.5 333.9L423.8 331.9L426.1 331.3L428.4 331.3L430.7 330.9L432.9 330.2L435.2 329.0L437.5 328.3L439.8 329.4L442.1 330.8L444.3 331.0L446.6 331.0L448.9 332.0L451.2 333.7L453.5 335.9L455.7 339.1L458.0 342.2L460.3 343.5L462.6 342.8L464.9 342.1L467.1 342.5L469.4 342.1L471.7 340.8L474.0 340.6L476.3 342.0L478.5 343.5L480.8 344.2L483.1 344.4L485.4 344.6L487.7 344.7L489.9 345.0L492.2 346.3L494.5 347.4L496.8 346.0L499.1 342.8L501.3 341.9L503.6 343.3L505.9 343.5L508.2 341.9L510.5 340.0L512.7 337.6L515.0 334.8L517.3 332.8L519.6 331.5L521.9 330.5L524.1 329.1L526.4 324.7L528.7 319.0L531.0 316.0L533.3 315.4L535.5 314.8L537.8 313.9L540.1 313.0L542.4 311.6L544.7 310.4L546.9 309.8L549.2 309.8L551.5 309.2L553.8 307.5L556.1 306.6L558.3 307.8L560.6 309.6L562.9 310.7L565.2 311.0L567.5 310.8L569.7 311.1L572.0 312.2L574.3 312.6L576.6 311.1L578.9 309.1L581.1 309.3L583.4 309.5L585.7 306.2L588.0 302.3L590.3 301.1L592.5 300.3L594.8 298.2L597.1 295.9L599.4 295.7L601.7 298.4L604.0 301.0L606.2 301.6L608.5 300.5L610.8 297.7L613.1 294.2L615.4 291.9L617.6 290.4L619.9 288.6L622.2 287.6L624.5 287.3L626.8 287.2L629.0 287.6L631.3 288.4L633.6 289.5L635.9 290.6L638.2 291.5L640.4 292.1L642.7 293.5L645.0 295.8L647.3 298.7L649.6 301.9L651.8 305.2L654.1 308.8L656.4 311.0L658.7 309.8L661.0 307.1L663.2 305.9L665.5 306.3L667.8 307.1L670.1 307.4L672.4 306.6L674.6 305.1L676.9 303.7L679.2 303.2L681.5 303.0L683.8 302.9L686.0 302.7L688.3 302.9L690.6 303.5L692.9 304.1L695.2 305.7L697.4 308.5L699.7 310.9L702.0 312.6L704.3 314.1L706.6 314.8L708.8 314.5L711.1 314.0L713.4 314.4L715.7 316.1L718.0 318.5L720.2 320.8L722.5 321.9L724.8 321.5L727.1 321.0L729.4 323.1L731.6 327.4L733.9 330.3L736.2 330.0L738.5 328.4L740.8 327.8L743.0 327.6L745.3 327.2L747.6 327.3L749.9 327.4L752.2 326.7L754.4 325.9L756.7 326.4L759.0 327.8L761.3 329.4L763.6 330.0L765.8 330.3L768.1 330.8L770.4 332.1L772.7 333.8L775.0 334.8L777.2 334.9L779.5 335.0L781.8 334.6L784.1 333.6L786.4 332.6L788.6 332.2L790.9 333.3L793.2 335.2L795.5 335.9L797.8 335.8L800.0 336.1L802.3 336.7L804.6 336.9L806.9 336.7L809.2 337.4L811.5 339.4L813.7 340.6L816.0 339.7L818.3 337.7L820.6 336.2L822.9 336.8L825.1 339.2L827.4 339.6L829.7 337.4L832.0 335.4L834.3 334.9L836.5 334.7L838.8 333.7L841.1 333.1L843.4 333.7L845.7 334.2L847.9 333.4L850.2 333.0L852.5 333.6L854.8 333.3L857.1 332.3L859.3 331.8L861.6 331.5L863.9 331.0L866.2 331.0L868.5 331.2L870.7 330.0L873.0 326.7L875.3 324.3L877.6 324.6L879.9 324.3L882.1 322.3L884.4 320.0L886.7 318.0L889.0 317.3L891.3 318.2L893.5 318.3L895.8 317.1L898.1 315.9L900.4 315.7L902.7 316.5L904.9 317.4L907.2 318.4L909.5 318.8"/>
<path d="M79.5 330.6L81.8 330.4L84.1 329.7L86.3 327.8L88.6 325.8L90.9 325.3L93.2 326.3L95.5 327.9L97.7 329.4L100.0 328.7L102.3 326.1L104.6 323.4L106.9 321.4L109.1 319.6L111.4 319.0L113.7 318.9L116.0 317.0L118.3 315.3L120.5 315.6L122.8 316.7L125.1 317.4L127.4 318.7L129.7 319.4L131.9 317.9L134.2 315.6L136.5 313.8L138.8 312.2L141.1 309.8L143.3 306.4L145.6 303.5L147.9 301.4L150.2 299.5L152.5 297.1L154.7 293.3L157.0 289.0L159.3 286.0L161.6 284.7L163.9 283.6L166.1 281.9L168.4 280.3L170.7 279.0L173.0 278.0L175.3 277.0L177.5 276.3L179.8 276.6L182.1 277.5L184.4 277.8L186.7 277.7L189.0 277.5L191.2 277.8L193.5 279.4L195.8 281.4L198.1 282.6L200.4 282.5L202.6 281.5L204.9 281.0L207.2 281.2L209.5 280.8L211.8 279.4L214.0 278.9L216.3 279.5L218.6 279.2L220.9 278.6L223.2 278.7L225.4 279.0L227.7 279.3L230.0 278.8L232.3 277.0L234.6 274.7L236.8 272.1L239.1 270.5L241.4 269.6L243.7 268.6L246.0 268.9L248.2 270.3L250.5 269.6L252.8 267.1L255.1 265.1L257.4 264.9L259.6 265.9L261.9 265.8L264.2 265.0L266.5 264.3L268.8 263.7L271.0 262.9L273.3 261.8L275.6 260.3L277.9 259.7L280.2 260.2L282.4 262.0L284.7 265.5L287.0 269.3L289.3 272.1L291.6 273.8L293.8 275.1L296.1 275.0L298.4 273.4L300.7 273.9L303.0 277.7L305.2 282.4L307.5 286.1L309.8 288.1L312.1 288.3L314.4 287.9L316.6 287.1L318.9 286.2L321.2 286.7L323.5 288.9L325.8 291.2L328.0 292.3L330.3 292.7L332.6 292.1L334.9 291.2L337.2 291.9L339.4 293.2L341.7 292.9L344.0 292.0L346.3 292.4L348.6 293.5L350.8 294.2L353.1 295.2L355.4 296.6L357.7 298.2L360.0 299.8L362.2 300.8L364.5 300.5L366.8 299.6L369.1 300.0L371.4 301.6L373.6 303.0L375.9 304.9L378.2 307.6L380.5 309.1L382.8 310.0L385.0 312.3L387.3 316.2L389.6 319.6L391.9 320.5L394.2 320.7L396.5 322.2L398.7 324.0L401.0 325.3L403.3 326.8L405.6 328.3L407.9 329.3L410.1 330.0L412.4 329.9L414.7 328.4L417.0 326.8L419.3 326.6L421.5 327.3L423.8 327.8L426.1 327.7L428.4 326.8L430.7 324.5L432.9 321.3L435.2 318.5L437.5 316.3L439.8 315.3L442.1 316.3L444.3 318.7L446.6 321.1L448.9 322.5L451.2 323.1L453.5 324.2L455.7 325.8L458.0 327.2L460.3 327.9L462.6 328.6L464.9 329.3L467.1 329.1L469.4 328.2L471.7 327.5L474.0 327.1L476.3 327.1L478.5 326.6L480.8 325.3L483.1 323.8L485.4 323.0L487.7 322.5L489.9 322.3L492.2 322.2L494.5 322.0L496.8 321.7L499.1 321.5L501.3 322.0L503.6 322.8L505.9 323.2L508.2 324.0L510.5 324.5L512.7 322.8L515.0 320.1L517.3 318.3L519.6 316.3L521.9 313.0L524.1 311.1L526.4 311.6L528.7 312.2L531.0 311.3L533.3 308.9L535.5 305.4L537.8 302.9L540.1 301.6L542.4 300.7L544.7 300.5L546.9 300.8L549.2 300.1L551.5 299.2L553.8 299.1L556.1 299.1L558.3 298.7L560.6 298.3L562.9 298.2L565.2 298.6L567.5 298.3L569.7 297.5L572.0 297.5L574.3 299.0L576.6 300.5L578.9 300.9L581.1 300.9L583.4 301.4L585.7 302.0L588.0 303.1L590.3 303.6L592.5 301.9L594.8 300.0L597.1 300.0L599.4 301.3L601.7 302.1L604.0 301.3L606.2 299.0L608.5 298.1L610.8 299.2L613.1 301.0L615.4 302.7L617.6 303.8L619.9 304.2L622.2 304.4L624.5 305.0L626.8 306.0L629.0 306.7L631.3 306.9L633.6 306.0L635.9 305.3L638.2 307.3L640.4 310.4L642.7 311.9L645.0 312.9L647.3 315.0L649.6 318.2L651.8 321.2L654.1 322.3L656.4 322.5L658.7 324.5L661.0 328.2L663.2 331.9L665.5 333.9L667.8 334.4L670.1 334.8L672.4 336.1L674.6 338.7L676.9 340.4L679.2 340.2L681.5 338.7L683.8 335.6L686.0 332.9L688.3 333.2L690.6 335.2L692.9 336.3L695.2 336.1L697.4 336.9L699.7 338.9L702.0 340.9L704.3 341.7L706.6 342.3L708.8 343.9L711.1 345.9L713.4 348.5L715.7 351.9L718.0 354.7L720.2 356.2L722.5 357.1L724.8 358.3L727.1 359.8L729.4 362.3L731.6 364.7L733.9 364.4L736.2 363.6L738.5 364.6L740.8 367.1L743.0 368.3L745.3 366.9L747.6 364.8L749.9 363.7L752.2 363.7L754.4 363.4L756.7 361.9L759.0 360.3L761.3 360.0L763.6 361.7L765.8 364.4L768.1 366.7L770.4 368.6L772.7 371.3L775.0 374.4L777.2 377.2L779.5 380.4L781.8 384.0L784.1 386.8L786.4 389.1L788.6 391.5L790.9 393.5L793.2 393.6L795.5 391.7L797.8 389.8L800.0 388.6L802.3 387.4L804.6 386.5L806.9 385.4L809.2 382.8L811.5 378.7L813.7 374.8L816.0 372.4L818.3 371.8L820.6 372.3L822.9 371.1L825.1 367.3L827.4 364.0L829.7 363.7L832.0 364.4L834.3 364.1L836.5 364.1L838.8 365.0L841.1 365.7L843.4 366.2L845.7 366.5L847.9 366.1L850.2 366.2L852.5 368.1L854.8 369.9L857.1 367.9L859.3 363.5L861.6 361.6L863.9 362.3L866.2 362.9L868.5 362.1L870.7 360.1L873.0 358.2L875.3 357.2L877.6 358.1L879.9 360.4L882.1 362.8L884.4 365.0L886.7 367.0L889.0 366.6L891.3 362.5L893.5 357.7L895.8 354.7L898.1 352.9L900.4 351.5L902.7 350.0L904.9 349.8L907.2 351.1L909.5 352.3"/>
<path d="M79.5 368.7L81.8 369.4L84.1 371.1L86.3 368.8L88.6 362.9L90.9 359.4L93.2 358.5L95.5 357.6L97.7 358.1L100.0 362.0L102.3 366.9L104.6 369.4L106.9 368.2L109.1 364.4L111.4 361.1L113.7 358.2L116.0 355.6L118.3 353.6L120.5 350.5L122.8 346.4L125.1 343.1L127.4 340.8L129.7 338.6L131.9 336.0L134.2 333.5L136.5 332.3L138.8 331.8L141.1 330.2L143.3 327.8L145.6 325.1L147.9 322.4L150.2 320.8L152.5 319.9L154.7 319.6L157.0 320.2L159.3 320.3L161.6 319.2L163.9 317.7L166.1 316.0L168.4 314.0L170.7 311.7L173.0 309.5L175.3 307.8L177.5 306.8L179.8 306.1L182.1 305.7L184.4 305.6L186.7 305.4L189.0 304.7L191.2 304.0L193.5 303.8L195.8 302.7L198.1 300.4L200.4 299.2L202.6 299.5L204.9 300.2L207.2 300.1L209.5 299.1L211.8 297.9L214.0 297.3L216.3 297.5L218.6 298.3L220.9 298.5L223.2 299.3L225.4 300.7L227.7 301.6L230.0 302.8L232.3 304.8L234.6 307.7L236.8 310.4L239.1 312.8L241.4 314.7L243.7 315.0L246.0 313.7L248.2 310.4L250.5 305.5L252.8 301.8L255.1 299.9L257.4 299.0L259.6 299.4L261.9 300.0L264.2 300.2L266.5 298.3L268.8 295.3L271.0 293.3L273.3 293.0L275.6 294.5L277.9 297.3L280.2 299.9L282.4 301.8L284.7 303.3L287.0 302.9L289.3 300.8L291.6 299.4L293.8 300.7L296.1 305.1L298.4 310.0L300.7 312.3L303.0 313.2L305.2 316.1L307.5 319.8L309.8 320.1L312.1 318.5L314.4 319.0L316.6 321.4L318.9 323.0L321.2 322.7L323.5 321.0L325.8 320.0L328.0 321.1L330.3 322.5L332.6 321.9L334.9 320.4L337.2 320.4L339.4 322.7L341.7 324.8L344.0 323.8L346.3 322.1L348.6 323.6L350.8 327.0L353.1 328.3L355.4 327.1L357.7 326.8L360.0 328.2L362.2 329.8L364.5 331.1L366.8 333.5L369.1 336.7L371.4 339.1L373.6 340.3L375.9 341.9L378.2 344.8L380.5 346.9L382.8 348.7L385.0 350.6L387.3 351.7L389.6 353.5L391.9 357.6L394.2 361.7L396.5 363.1L398.7 364.1L401.0 367.3L403.3 369.8L405.6 369.0L407.9 366.5L410.1 364.1L412.4 362.9L414.7 364.4L417.0 367.6L419.3 369.7L421.5 367.8L423.8 363.2L426.1 359.3L428.4 357.4L430.7 356.5L432.9 354.9L435.2 353.0L437.5 352.7L439.8 353.6L442.1 355.4L444.3 358.7L446.6 362.2L448.9 365.1L451.2 366.7L453.5 367.3L455.7 368.1L458.0 368.5L460.3 367.5L462.6 366.9L464.9 367.6L467.1 367.4L469.4 366.6L471.7 367.5L474.0 369.1L476.3 369.3L478.5 367.3L480.8 364.2L483.1 362.5L485.4 361.7L487.7 360.6L489.9 359.3L492.2 357.3L494.5 355.0L496.8 353.3L499.1 352.2L501.3 351.7L503.6 351.4L505.9 349.3L508.2 344.9L510.5 342.4L512.7 342.4L515.0 343.3L517.3 343.5L519.6 342.7L521.9 340.8L524.1 339.2L526.4 338.9L528.7 339.2L531.0 339.7L533.3 339.9L535.5 339.5L537.8 338.9L540.1 338.1L542.4 336.8L544.7 334.9L546.9 332.4L549.2 329.8L551.5 328.7L553.8 328.6L556.1 327.9L558.3 326.3L560.6 324.2L562.9 321.7L565.2 319.8L567.5 319.7L569.7 320.4L572.0 319.3L574.3 318.1L576.6 318.9L578.9 321.4L581.1 324.6L583.4 327.8L585.7 329.0L588.0 327.7L590.3 323.2L592.5 317.1L594.8 312.7L597.1 311.6L599.4 312.1L601.7 311.9L604.0 310.8L606.2 309.7L608.5 308.8L610.8 307.7L613.1 306.5L615.4 306.3L617.6 306.5L619.9 306.4L622.2 306.5L624.5 306.0L626.8 304.1L629.0 302.1L631.3 301.5L633.6 302.1L635.9 303.9L638.2 308.1L640.4 312.8L642.7 314.8L645.0 314.3L647.3 314.8L649.6 318.5L651.8 323.1L654.1 326.1L656.4 327.1L658.7 327.0L661.0 327.5L663.2 328.4L665.5 328.2L667.8 326.9L670.1 325.8L672.4 327.1L674.6 329.6L676.9 331.5L679.2 331.7L681.5 330.8L683.8 331.0L686.0 331.3L688.3 330.4L690.6 329.6L692.9 331.4L695.2 334.3L697.4 336.8L699.7 338.9L702.0 341.2L704.3 344.1L706.6 346.2L708.8 346.7L711.1 347.4L713.4 349.5L715.7 352.6L718.0 354.2L720.2 354.3L722.5 354.5L724.8 355.1L727.1 355.7L729.4 356.5L731.6 358.6L733.9 361.0L736.2 361.6L738.5 360.4L740.8 358.2L743.0 355.3L745.3 352.7L747.6 351.0L749.9 350.7L752.2 351.4L754.4 351.9L756.7 351.2L759.0 350.0L761.3 350.2L763.6 351.7L765.8 353.8L768.1 355.5L770.4 356.0L772.7 355.1L775.0 353.8L777.2 353.8L779.5 355.2L781.8 355.9L784.1 355.1L786.4 355.1L788.6 357.5L790.9 360.5L793.2 360.8L795.5 358.8L797.8 358.2L800.0 359.2L802.3 359.7L804.6 359.2L806.9 358.2L809.2 356.6L811.5 354.5L813.7 353.1L816.0 350.6L818.3 346.8L820.6 343.7L822.9 341.7L825.1 340.4L827.4 339.4L829.7 338.9L832.0 339.5L834.3 340.8L836.5 342.6L838.8 344.8L841.1 346.4L843.4 346.7L845.7 346.4L847.9 345.7L850.2 344.0L852.5 343.3L854.8 344.2L857.1 344.8L859.3 343.8L861.6 343.0L863.9 345.0L866.2 347.8L868.5 349.2L870.7 350.6L873.0 352.7L875.3 354.2L877.6 355.1L879.9 354.3L882.1 351.7L884.4 349.3L886.7 348.3L889.0 348.0L891.3 348.9L893.5 349.9L895.8 349.4L898.1 347.8L900.4 347.4L902.7 347.8L904.9 347.2L907.2 345.7L909.5 344.7"/>
<path d="M79.5 330.0L81.8 327.7L84.1 325.2L86.3 323.3L88.6 322.4L90.9 323.0L93.2 324.2L95.5 324.1L97.7 321.8L100.0 319.4L102.3 318.7L104.6 319.3L106.9 320.1L109.1 320.2L111.4 319.5L113.7 319.0L116.0 318.7L118.3 318.3L120.5 319.3L122.8 321.7L125.1 323.1L127.4 323.3L129.7 322.3L131.9 320.3L134.2 318.4L136.5 316.9L138.8 316.1L141.1 315.7L143.3 314.8L145.6 312.8L147.9 310.4L150.2 308.0L152.5 306.3L154.7 305.4L157.0 304.1L159.3 301.9L161.6 299.9L163.9 298.1L166.1 295.9L168.4 293.5L170.7 292.2L173.0 292.8L175.3 294.7L177.5 296.5L179.8 297.8L182.1 298.6L184.4 298.7L186.7 297.9L189.0 297.1L191.2 297.4L193.5 298.0L195.8 298.2L198.1 297.3L200.4 294.6L202.6 291.3L204.9 289.2L207.2 288.4L209.5 287.6L211.8 286.1L214.0 284.7L216.3 284.4L218.6 284.9L220.9 285.6L223.2 285.8L225.4 285.1L227.7 284.2L230.0 284.4L232.3 285.5L234.6 286.5L236.8 287.1L239.1 287.6L241.4 287.2L243.7 285.5L246.0 282.9L248.2 281.1L250.5 280.0L252.8 278.7L255.1 278.0L257.4 277.2L259.6 275.5L261.9 273.7L264.2 272.8L266.5 272.3L268.8 271.3L271.0 269.5L273.3 266.9L275.6 264.0L277.9 262.0L280.2 260.9L282.4 260.8L284.7 261.6L287.0 262.6L289.3 263.4L291.6 264.2L293.8 265.2L296.1 267.0L298.4 269.5L300.7 271.2L303.0 270.9L305.2 269.6L307.5 269.7L309.8 271.9L312.1 274.5L314.4 276.3L316.6 276.7L318.9 276.9L321.2 278.7L323.5 280.9L325.8 282.3L328.0 282.6L330.3 283.2L332.6 284.0L334.9 284.1L337.2 283.8L339.4 284.4L341.7 285.2L344.0 285.8L346.3 286.3L348.6 287.3L350.8 288.3L353.1 289.5L355.4 291.3L357.7 293.1L360.0 294.2L362.2 295.1L364.5 296.3L366.8 297.2L369.1 298.0L371.4 299.3L373.6 300.0L375.9 300.3L378.2 301.7L380.5 303.6L382.8 305.2L385.0 306.2L387.3 306.7L389.6 306.9L391.9 307.4L394.2 308.9L396.5 311.1L398.7 312.9L401.0 313.0L403.3 312.5L405.6 313.1L407.9 314.3L410.1 315.8L412.4 317.5L414.7 318.1L417.0 318.3L419.3 319.1L421.5 319.6L423.8 319.5L426.1 319.4L428.4 320.2L430.7 322.0L432.9 324.3L435.2 326.7L437.5 328.9L439.8 330.5L442.1 330.6L444.3 329.1L446.6 326.9L448.9 325.9L451.2 327.0L453.5 329.5L455.7 332.6L458.0 334.4L460.3 334.9L462.6 334.8L464.9 334.5L467.1 335.1L469.4 336.8L471.7 338.4L474.0 338.9L476.3 337.9L478.5 336.4L480.8 335.6L483.1 335.9L485.4 336.4L487.7 336.8L489.9 337.8L492.2 338.5L494.5 338.0L496.8 337.4L499.1 338.3L501.3 340.3L503.6 341.3L505.9 341.0L508.2 341.6L510.5 342.5L512.7 341.6L515.0 339.7L517.3 336.9L519.6 332.5L521.9 327.2L524.1 322.7L526.4 320.7L528.7 321.1L531.0 321.4L533.3 319.5L535.5 316.4L537.8 314.2L540.1 313.4L542.4 312.1L544.7 309.6L546.9 307.0L549.2 305.6L551.5 304.8L553.8 303.6L556.1 302.4L558.3 301.0L560.6 299.5L562.9 298.0L565.2 295.9L567.5 293.6L569.7 292.4L572.0 291.1L574.3 289.1L576.6 287.6L578.9 287.2L581.1 287.2L583.4 286.4L585.7 284.6L588.0 282.9L590.3 281.4L592.5 280.2L594.8 279.9L597.1 279.7L599.4 279.2L601.7 278.4L604.0 276.9L606.2 276.5L608.5 277.9L610.8 278.7L613.1 277.6L615.4 276.5L617.6 276.0L619.9 275.6L622.2 276.1L624.5 277.5L626.8 278.0L629.0 277.6L631.3 277.5L633.6 277.7L635.9 278.1L638.2 278.2L640.4 278.8L642.7 279.9L645.0 279.8L647.3 278.2L649.6 275.8L651.8 274.7L654.1 275.8L656.4 278.6L658.7 282.3L661.0 285.2L663.2 287.0L665.5 288.1L667.8 289.4L670.1 291.1L672.4 292.9L674.6 294.8L676.9 296.5L679.2 297.7L681.5 298.1L683.8 297.7L686.0 297.2L688.3 297.6L690.6 298.6L692.9 299.6L695.2 300.1L697.4 300.7L699.7 302.2L702.0 303.9L704.3 304.5L706.6 304.6L708.8 305.0L711.1 305.4L713.4 305.1L715.7 304.7L718.0 305.1L720.2 306.0L722.5 305.9L724.8 305.6L727.1 306.4L729.4 307.6L731.6 307.9L733.9 307.1L736.2 306.2L738.5 304.8L740.8 303.9L743.0 304.3L745.3 305.5L747.6 307.2L749.9 309.0L752.2 309.8L754.4 310.2L756.7 310.7L759.0 311.7L761.3 312.7L763.6 313.3L765.8 313.9L768.1 315.7L770.4 318.0L772.7 319.7L775.0 320.5L777.2 321.2L779.5 322.0L781.8 322.1L784.1 322.2L786.4 323.0L788.6 323.6L790.9 324.3L793.2 325.1L795.5 325.3L797.8 324.4L800.0 323.2L802.3 322.7L804.6 322.7L806.9 322.0L809.2 319.4L811.5 316.2L813.7 314.6L816.0 315.3L818.3 316.6L820.6 314.9L822.9 310.8L825.1 308.2L827.4 307.0L829.7 305.0L832.0 302.8L834.3 301.2L836.5 299.9L838.8 298.9L841.1 298.5L843.4 298.7L845.7 299.1L847.9 300.0L850.2 301.1L852.5 302.2L854.8 303.0L857.1 303.2L859.3 303.5L861.6 303.6L863.9 302.7L866.2 301.0L868.5 300.5L870.7 301.4L873.0 301.7L875.3 301.0L877.6 299.5L879.9 297.1L882.1 295.6L884.4 295.9L886.7 296.3L889.0 296.0L891.3 295.6L893.5 295.5L895.8 295.1L898.1 293.9L900.4 292.9L902.7 292.3L904.9 291.8L907.2 291.1L909.5 290.2"/>
<path d="M79.5 286.4L81.8 286.2L84.1 285.9L86.3 285.3L88.6 283.7L90.9 282.0L93.2 281.4L95.5 282.4L97.7 283.3L100.0 283.3L102.3 282.3L104.6 280.6L106.9 278.3L109.1 276.5L111.4 276.4L113.7 277.6L116.0 277.7L118.3 276.0L120.5 274.1L122.8 273.5L125.1 274.1L127.4 274.7L129.7 275.0L131.9 274.9L134.2 274.7L136.5 274.7L138.8 275.3L141.1 275.3L143.3 274.4L145.6 273.4L147.9 272.6L150.2 272.6L152.5 272.3L154.7 270.8L157.0 268.7L159.3 267.1L161.6 266.4L163.9 266.3L166.1 266.2L168.4 266.1L170.7 265.8L173.0 264.8L175.3 264.7L177.5 265.9L179.8 266.8L182.1 266.8L184.4 267.1L186.7 267.5L189.0 267.6L191.2 267.5L193.5 267.2L195.8 266.5L198.1 265.8L200.4 265.0L202.6 263.9L204.9 263.7L207.2 263.9L209.5 264.0L211.8 263.9L214.0 264.2L216.3 264.1L218.6 264.6L220.9 265.2L223.2 264.4L225.4 263.3L227.7 263.9L230.0 265.5L232.3 265.8L234.6 265.3L236.8 264.2L239.1 262.5L241.4 259.8L243.7 256.0L246.0 251.9L248.2 249.6L250.5 249.5L252.8 250.1L255.1 250.1L257.4 248.8L259.6 247.1L261.9 245.1L264.2 244.2L266.5 244.4L268.8 245.1L271.0 246.4L273.3 248.8L275.6 252.0L277.9 254.9L280.2 255.8L282.4 255.6L284.7 256.5L287.0 258.6L289.3 261.0L291.6 263.1L293.8 264.6L296.1 265.7L298.4 267.4L300.7 269.9L303.0 271.5L305.2 271.3L307.5 270.8L309.8 271.0L312.1 271.3L314.4 270.9L316.6 270.3L318.9 270.0L321.2 270.7L323.5 272.9L325.8 274.5L328.0 274.3L330.3 274.1L332.6 275.4L334.9 278.0L337.2 279.8L339.4 280.4L341.7 280.9L344.0 281.8L346.3 282.7L348.6 283.7L350.8 284.9L353.1 285.6L355.4 285.8L357.7 286.9L360.0 288.8L362.2 289.6L364.5 289.7L366.8 290.1L369.1 290.4L371.4 290.7L373.6 290.4L375.9 289.3L378.2 288.5L380.5 289.2L382.8 291.6L385.0 295.0L387.3 297.5L389.6 298.8L391.9 299.3L394.2 301.0L396.5 304.9L398.7 308.8L401.0 310.3L403.3 310.6L405.6 312.3L407.9 315.6L410.1 319.2L412.4 322.0L414.7 323.0L417.0 321.7L419.3 320.0L421.5 319.2L423.8 318.5L426.1 317.9L428.4 317.8L430.7 317.6L432.9 316.2L435.2 313.4L437.5 310.5L439.8 309.1L442.1 309.3L444.3 311.0L446.6 313.1L448.9 314.4L451.2 315.1L453.5 316.2L455.7 317.5L458.0 318.2L460.3 318.2L462.6 318.5L464.9 320.0L467.1 321.5L469.4 321.6L471.7 320.9L474.0 320.4L476.3 319.5L478.5 318.5L480.8 319.6L483.1 322.3L485.4 324.1L487.7 324.6L489.9 324.2L492.2 323.1L494.5 322.8L496.8 324.3L499.1 327.6L501.3 329.2L503.6 327.4L505.9 324.6L508.2 322.7L510.5 321.8L512.7 320.9L515.0 321.0L517.3 321.6L519.6 320.6L521.9 318.8L524.1 316.7L526.4 313.6L528.7 309.6L531.0 306.6L533.3 305.4L535.5 303.3L537.8 299.6L540.1 297.4L542.4 297.4L544.7 296.7L546.9 294.5L549.2 291.8L551.5 290.1L553.8 289.5L556.1 289.1L558.3 289.1L560.6 289.5L562.9 289.9L565.2 289.9L567.5 289.0L569.7 289.0L572.0 290.1L574.3 288.9L576.6 285.4L578.9 282.7L581.1 281.4L583.4 280.3L585.7 279.2L588.0 278.2L590.3 277.3L592.5 276.3L594.8 276.4L597.1 277.0L599.4 276.8L601.7 276.6L604.0 277.6L606.2 281.1L608.5 285.1L610.8 286.5L613.1 285.4L615.4 284.8L617.6 287.7L619.9 293.1L622.2 297.9L624.5 299.7L626.8 299.8L629.0 300.3L631.3 301.2L633.6 302.0L635.9 303.1L638.2 304.6L640.4 305.5L642.7 306.7L645.0 309.1L647.3 311.9L649.6 315.1L651.8 318.1L654.1 320.5L656.4 323.3L658.7 325.9L661.0 327.2L663.2 327.2L665.5 327.2L667.8 329.3L670.1 333.4L672.4 335.3L674.6 333.8L676.9 332.6L679.2 333.9L681.5 336.2L683.8 337.1L686.0 335.9L688.3 333.5L690.6 331.8L692.9 332.6L695.2 335.6L697.4 338.7L699.7 341.5L702.0 344.8L704.3 348.5L706.6 351.4L708.8 352.7L711.1 355.1L713.4 359.3L715.7 361.7L718.0 362.0L720.2 362.3L722.5 363.1L724.8 364.5L727.1 366.5L729.4 370.1L731.6 375.9L733.9 380.5L736.2 380.5L738.5 377.5L740.8 376.2L743.0 377.3L745.3 378.4L747.6 377.3L749.9 375.3L752.2 374.9L754.4 376.8L756.7 379.1L759.0 380.1L761.3 381.7L763.6 386.1L765.8 391.2L768.1 393.7L770.4 393.4L772.7 392.7L775.0 392.1L777.2 392.9L779.5 394.4L781.8 395.0L784.1 393.7L786.4 394.0L788.6 395.3L790.9 394.5L793.2 391.0L795.5 387.3L797.8 386.2L800.0 386.2L802.3 385.9L804.6 385.4L806.9 383.9L809.2 382.4L811.5 382.3L813.7 382.3L816.0 381.5L818.3 379.5L820.6 376.3L822.9 372.9L825.1 370.7L827.4 370.1L829.7 369.4L832.0 367.0L834.3 365.0L836.5 362.9L838.8 360.4L841.1 359.5L843.4 360.2L845.7 359.8L847.9 357.7L850.2 355.2L852.5 353.0L854.8 352.0L857.1 353.1L859.3 355.3L861.6 355.9L863.9 354.9L866.2 353.6L868.5 352.2L870.7 350.2L873.0 348.3L875.3 347.1L877.6 345.3L879.9 343.1L882.1 340.8L884.4 338.6L886.7 337.9L889.0 337.8L891.3 336.5L893.5 335.2L895.8 335.2L898.1 334.5L900.4 332.5L902.7 330.5L904.9 328.9L907.2 327.1L909.5 325.7"/>
<path d="M79.5 336.4L81.8 334.7L84.1 334.9L86.3 337.0L88.6 339.0L90.9 340.6L93.2 340.5L95.5 340.5L97.7 341.1L100.0 340.5L102.3 339.4L104.6 339.0L106.9 339.1L109.1 338.4L111.4 335.9L113.7 333.9L116.0 334.5L118.3 335.5L120.5 334.8L122.8 333.6L125.1 332.7L127.4 331.6L129.7 330.9L131.9 330.4L134.2 330.2L136.5 330.2L138.8 329.1L141.1 327.7L143.3 327.4L145.6 327.2L147.9 325.6L150.2 323.4L152.5 321.1L154.7 319.3L157.0 317.3L159.3 313.7L161.6 310.5L163.9 308.7L166.1 308.8L168.4 310.0L170.7 310.4L173.0 309.6L175.3 309.3L177.5 310.5L179.8 311.9L182.1 311.3L184.4 308.6L186.7 305.7L189.0 304.4L191.2 305.7L193.5 308.4L195.8 310.1L198.1 311.7L200.4 312.9L202.6 312.8L204.9 313.4L207.2 314.5L209.5 314.7L211.8 314.4L214.0 314.8L216.3 315.9L218.6 317.6L220.9 320.7L223.2 324.9L225.4 328.7L227.7 330.8L230.0 332.3L232.3 333.4L234.6 336.4L236.8 338.9L239.1 337.5L241.4 334.8L243.7 333.8L246.0 333.0L248.2 329.5L250.5 324.0L252.8 320.2L255.1 319.2L257.4 319.9L259.6 321.6L261.9 322.4L264.2 322.2L266.5 320.7L268.8 318.4L271.0 315.8L273.3 313.5L275.6 311.8L277.9 311.4L280.2 312.3L282.4 313.8L284.7 315.4L287.0 318.0L289.3 322.9L291.6 328.4L293.8 331.6L296.1 332.0L298.4 331.5L300.7 332.8L303.0 336.1L305.2 338.9L307.5 340.8L309.8 342.1L312.1 342.6L314.4 341.5L316.6 341.1L318.9 341.5L321.2 340.1L323.5 336.7L325.8 332.8L328.0 329.4L330.3 327.1L332.6 325.5L334.9 324.5L337.2 324.4L339.4 325.0L341.7 326.0L344.0 326.7L346.3 326.8L348.6 326.6L350.8 326.0L353.1 324.5L355.4 322.9L357.7 322.1L360.0 322.0L362.2 322.2L364.5 321.9L366.8 319.6L369.1 316.3L371.4 314.4L373.6 313.8L375.9 314.3L378.2 314.2L380.5 312.9L382.8 311.9L385.0 312.1L387.3 313.9L389.6 317.1L391.9 320.4L394.2 323.5L396.5 326.2L398.7 328.7L401.0 330.6L403.3 331.9L405.6 333.1L407.9 335.0L410.1 336.9L412.4 338.4L414.7 339.3L417.0 338.7L419.3 336.8L421.5 334.6L423.8 333.2L426.1 333.5L428.4 334.8L430.7 335.8L432.9 336.3L435.2 336.7L437.5 337.1L439.8 337.0L442.1 337.5L444.3 338.6L446.6 338.7L448.9 337.9L451.2 338.5L453.5 340.5L455.7 342.2L458.0 344.3L460.3 347.0L462.6 348.9L464.9 348.4L467.1 347.0L469.4 346.0L471.7 345.2L474.0 344.0L476.3 342.7L478.5 342.6L480.8 344.5L483.1 346.4L485.4 348.0L487.7 348.5L489.9 346.5L492.2 343.2L494.5 341.0L496.8 340.8L499.1 341.9L501.3 343.3L503.6 344.0L505.9 343.9L508.2 343.9L510.5 342.5L512.7 339.6L515.0 337.5L517.3 335.2L519.6 331.4L521.9 327.6L524.1 325.7L526.4 325.8L528.7 325.2L531.0 323.3L533.3 321.5L535.5 320.4L537.8 320.9L540.1 322.3L542.4 321.7L544.7 318.4L546.9 314.3L549.2 311.9L551.5 312.0L553.8 313.6L556.1 315.1L558.3 315.6L560.6 313.4L562.9 310.4L565.2 309.0L567.5 309.8L569.7 311.6L572.0 312.9L574.3 313.4L576.6 312.7L578.9 310.6L581.1 309.1L583.4 310.2L585.7 311.2L588.0 310.1L590.3 309.3L592.5 309.4L594.8 309.7L597.1 311.0L599.4 312.8L601.7 313.4L604.0 314.4L606.2 317.8L608.5 320.4L610.8 320.1L613.1 317.7L615.4 315.1L617.6 313.1L619.9 310.9L622.2 309.2L624.5 308.7L626.8 309.3L629.0 310.0L631.3 309.6L633.6 308.8L635.9 309.2L638.2 311.5L640.4 314.5L642.7 317.2L645.0 319.7L647.3 322.5L649.6 324.8L651.8 325.3L654.1 323.2L656.4 320.8L658.7 321.1L661.0 321.5L663.2 319.5L665.5 316.7L667.8 315.6L670.1 316.4L672.4 318.1L674.6 320.0L676.9 321.6L679.2 322.1L681.5 322.4L683.8 322.1L686.0 321.5L688.3 322.5L690.6 323.9L692.9 324.4L695.2 324.7L697.4 325.9L699.7 327.2L702.0 328.1L704.3 329.2L706.6 330.2L708.8 331.2L711.1 331.6L713.4 331.1L715.7 330.9L718.0 332.0L720.2 334.7L722.5 338.4L724.8 341.1L727.1 340.7L729.4 338.5L731.6 336.5L733.9 335.9L736.2 336.7L738.5 338.2L740.8 340.1L743.0 341.9L745.3 344.1L747.6 346.2L749.9 347.3L752.2 348.9L754.4 350.7L756.7 352.3L759.0 353.4L761.3 353.8L763.6 353.3L765.8 353.2L768.1 353.9L770.4 354.5L772.7 354.8L775.0 355.1L777.2 355.3L779.5 355.9L781.8 357.3L784.1 359.0L786.4 358.5L788.6 355.5L790.9 352.8L793.2 351.7L795.5 352.7L797.8 354.7L800.0 356.1L802.3 355.4L804.6 352.5L806.9 350.0L809.2 349.5L811.5 350.0L813.7 351.5L816.0 353.1L818.3 353.5L820.6 352.7L822.9 351.3L825.1 350.2L827.4 349.6L829.7 348.1L832.0 345.8L834.3 345.3L836.5 346.7L838.8 347.9L841.1 347.6L843.4 346.1L845.7 344.0L847.9 341.9L850.2 340.2L852.5 340.1L854.8 342.0L857.1 343.6L859.3 344.0L861.6 343.9L863.9 343.5L866.2 343.2L868.5 344.0L870.7 344.9L873.0 345.0L875.3 344.1L877.6 342.2L879.9 340.1L882.1 339.1L884.4 339.6L886.7 340.4L889.0 339.0L891.3 336.5L893.5 334.5L895.8 333.3L898.1 332.8L900.4 333.0L902.7 332.6L904.9 331.0L907.2 328.7L909.5 327.3"/>
<path d="M79.5 323.6L81.8 321.6L84.1 319.7L86.3 318.1L88.6 316.4L90.9 316.4L93.2 316.6L95.5 315.6L97.7 314.1L100.0 312.6L102.3 311.0L104.6 310.2L106.9 309.7L109.1 308.6L111.4 307.1L113.7 305.5L116.0 304.0L118.3 303.6L120.5 304.2L122.8 303.9L125.1 303.1L127.4 303.4L129.7 304.7L131.9 306.1L134.2 306.1L136.5 304.5L138.8 302.7L141.1 301.2L143.3 300.2L145.6 300.1L147.9 299.4L150.2 296.3L152.5 293.0L154.7 291.3L157.0 290.8L159.3 290.7L161.6 289.7L163.9 287.8L166.1 285.4L168.4 282.7L170.7 281.0L173.0 281.6L175.3 284.1L177.5 286.6L179.8 286.5L182.1 284.8L184.4 283.2L186.7 282.4L189.0 282.9L191.2 283.6L193.5 283.9L195.8 283.6L198.1 281.9L200.4 279.2L202.6 276.5L204.9 274.7L207.2 274.1L209.5 275.2L211.8 276.5L214.0 276.5L216.3 275.3L218.6 273.8L220.9 272.3L223.2 271.2L225.4 270.3L227.7 269.8L230.0 270.0L232.3 270.9L234.6 272.4L236.8 272.3L239.1 270.8L241.4 270.4L243.7 271.4L246.0 271.0L248.2 268.8L250.5 266.8L252.8 265.5L255.1 264.8L257.4 264.9L259.6 265.2L261.9 264.8L264.2 264.2L266.5 264.1L268.8 263.9L271.0 263.1L273.3 262.4L275.6 262.0L277.9 261.6L280.2 262.0L282.4 263.1L284.7 264.8L287.0 266.8L289.3 268.8L291.6 271.0L293.8 272.5L296.1 273.1L298.4 274.4L300.7 277.0L303.0 279.3L305.2 280.2L307.5 279.6L309.8 278.2L312.1 277.5L314.4 277.9L316.6 277.7L318.9 276.8L321.2 276.7L323.5 276.6L325.8 276.4L328.0 277.0L330.3 279.1L332.6 281.3L334.9 282.9L337.2 284.4L339.4 286.1L341.7 287.3L344.0 288.8L346.3 290.1L348.6 290.8L350.8 291.5L353.1 292.8L355.4 294.8L357.7 296.5L360.0 297.0L362.2 297.3L364.5 297.5L366.8 296.6L369.1 295.5L371.4 295.1L373.6 295.5L375.9 296.8L378.2 297.9L380.5 298.0L382.8 297.8L385.0 297.7L387.3 297.6L389.6 297.4L391.9 297.6L394.2 298.8L396.5 301.3L398.7 303.9L401.0 305.2L403.3 305.4L405.6 306.4L407.9 309.1L410.1 311.5L412.4 312.3L414.7 312.3L417.0 312.4L419.3 313.2L421.5 313.2L423.8 311.6L426.1 309.6L428.4 307.9L430.7 306.6L432.9 305.9L435.2 306.0L437.5 306.2L439.8 306.7L442.1 307.2L444.3 307.6L446.6 307.3L448.9 306.3L451.2 305.8L453.5 306.5L455.7 307.4L458.0 307.8L460.3 308.6L462.6 309.4L464.9 309.5L467.1 309.2L469.4 309.4L471.7 310.4L474.0 311.7L476.3 312.9L478.5 312.2L480.8 309.2L483.1 306.9L485.4 306.0L487.7 304.4L489.9 303.0L492.2 303.1L494.5 303.7L496.8 303.4L499.1 302.8L501.3 303.1L503.6 303.4L505.9 302.2L508.2 300.3L510.5 298.6L512.7 296.6L515.0 293.9L517.3 291.5L519.6 290.7L521.9 291.1L524.1 291.0L526.4 289.3L528.7 286.8L531.0 285.1L533.3 284.6L535.5 284.8L537.8 284.3L540.1 282.1L542.4 279.1L544.7 276.9L546.9 275.7L549.2 273.9L551.5 271.7L553.8 271.1L556.1 270.9L558.3 270.4L560.6 270.2L562.9 269.9L565.2 269.3L567.5 268.6L569.7 268.5L572.0 268.9L574.3 269.2L576.6 268.8L578.9 267.9L581.1 266.8L583.4 265.9L585.7 265.6L588.0 264.6L590.3 262.3L592.5 260.2L594.8 258.8L597.1 258.3L599.4 258.1L601.7 257.9L604.0 258.2L606.2 258.5L608.5 258.4L610.8 258.1L613.1 257.8L615.4 258.0L617.6 258.3L619.9 258.5L622.2 259.1L624.5 260.3L626.8 261.4L629.0 261.8L631.3 261.9L633.6 263.5L635.9 267.0L638.2 270.1L640.4 270.8L642.7 270.7L645.0 271.5L647.3 273.0L649.6 274.9L651.8 276.7L654.1 278.6L656.4 280.8L658.7 282.8L661.0 284.2L663.2 284.5L665.5 283.9L667.8 283.4L670.1 284.8L672.4 287.6L674.6 290.5L676.9 292.9L679.2 294.1L681.5 294.4L683.8 295.2L686.0 297.3L688.3 299.6L690.6 300.9L692.9 300.9L695.2 300.3L697.4 301.2L699.7 304.4L702.0 308.0L704.3 310.6L706.6 312.2L708.8 312.9L711.1 314.1L713.4 316.6L715.7 319.2L718.0 321.7L720.2 324.4L722.5 326.4L724.8 327.2L727.1 327.5L729.4 328.7L731.6 331.4L733.9 333.6L736.2 333.8L738.5 333.2L740.8 332.9L743.0 332.8L745.3 333.2L747.6 334.2L749.9 335.4L752.2 336.9L754.4 338.6L756.7 340.0L759.0 341.6L761.3 344.0L763.6 345.3L765.8 344.6L768.1 343.9L770.4 344.2L772.7 346.1L775.0 349.5L777.2 353.0L779.5 354.9L781.8 354.8L784.1 352.6L786.4 349.3L788.6 346.3L790.9 344.9L793.2 344.7L795.5 344.6L797.8 345.4L800.0 347.2L802.3 349.0L804.6 349.7L806.9 349.3L809.2 349.0L811.5 349.2L813.7 349.1L816.0 348.3L818.3 347.9L820.6 348.7L822.9 349.4L825.1 350.1L827.4 351.1L829.7 352.4L832.0 353.5L834.3 353.4L836.5 353.4L838.8 355.4L841.1 357.8L843.4 358.5L845.7 357.5L847.9 356.0L850.2 354.2L852.5 351.9L854.8 349.6L857.1 349.0L859.3 349.8L861.6 349.3L863.9 346.8L866.2 344.6L868.5 345.0L870.7 346.5L873.0 346.8L875.3 346.2L877.6 345.6L879.9 344.1L882.1 341.8L884.4 340.3L886.7 339.6L889.0 339.5L891.3 340.1L893.5 340.0L895.8 338.8L898.1 336.6L900.4 334.1L902.7 332.8L904.9 332.7L907.2 332.9L909.5 332.9"/>
<path d="M79.5 319.4L81.8 316.3L84.1 312.6L86.3 310.4L88.6 308.7L90.9 306.3L93.2 304.2L95.5 303.8L97.7 303.9L100.0 304.6L102.3 305.4L104.6 304.9L106.9 304.2L109.1 304.2L111.4 304.4L113.7 305.3L116.0 306.7L118.3 307.7L120.5 307.8L122.8 306.9L125.1 305.2L127.4 304.2L129.7 304.0L131.9 303.5L134.2 301.9L136.5 299.0L138.8 296.7L141.1 296.0L143.3 294.4L145.6 290.9L147.9 286.2L150.2 281.3L152.5 277.6L154.7 275.7L157.0 275.2L159.3 274.9L161.6 273.9L163.9 272.6L166.1 271.7L168.4 271.3L170.7 271.4L173.0 271.6L175.3 272.0L177.5 273.4L179.8 274.7L182.1 275.3L184.4 275.8L186.7 276.4L189.0 276.3L191.2 275.6L193.5 274.8L195.8 273.6L198.1 271.0L200.4 268.5L202.6 267.6L204.9 267.0L207.2 265.8L209.5 264.4L211.8 263.6L214.0 262.9L216.3 262.2L218.6 262.2L220.9 262.4L223.2 262.1L225.4 261.9L227.7 262.1L230.0 262.8L232.3 263.5L234.6 263.4L236.8 263.3L239.1 264.7L241.4 264.8L243.7 262.8L246.0 261.2L248.2 261.5L250.5 262.4L252.8 262.5L255.1 261.2L257.4 258.9L259.6 256.8L261.9 254.9L264.2 253.7L266.5 253.5L268.8 254.3L271.0 255.0L273.3 254.9L275.6 253.9L277.9 252.2L280.2 250.9L282.4 250.3L284.7 249.7L287.0 249.8L289.3 250.7L291.6 251.5L293.8 251.7L296.1 251.8L298.4 252.6L300.7 254.1L303.0 256.7L305.2 259.8L307.5 261.9L309.8 262.9L312.1 264.2L314.4 266.4L316.6 268.4L318.9 269.7L321.2 270.4L323.5 270.1L325.8 269.8L328.0 269.4L330.3 268.5L332.6 267.5L334.9 266.9L337.2 267.9L339.4 270.7L341.7 274.3L344.0 277.6L346.3 278.8L348.6 278.8L350.8 280.1L353.1 282.3L355.4 283.5L357.7 284.1L360.0 285.5L362.2 287.7L364.5 288.9L366.8 289.0L369.1 289.1L371.4 289.8L373.6 290.3L375.9 290.1L378.2 289.9L380.5 290.8L382.8 292.3L385.0 293.6L387.3 295.4L389.6 297.2L391.9 297.3L394.2 296.4L396.5 296.3L398.7 297.3L401.0 298.5L403.3 299.0L405.6 298.4L407.9 298.2L410.1 299.0L412.4 298.8L414.7 298.3L417.0 298.8L419.3 299.4L421.5 300.1L423.8 301.5L426.1 301.3L428.4 298.2L430.7 295.3L432.9 295.0L435.2 295.3L437.5 295.4L439.8 295.9L442.1 295.4L444.3 293.8L446.6 292.6L448.9 292.6L451.2 293.2L453.5 293.8L455.7 294.2L458.0 294.8L460.3 295.3L462.6 294.5L464.9 293.0L467.1 292.1L469.4 291.9L471.7 291.7L474.0 292.0L476.3 292.3L478.5 292.0L480.8 291.3L483.1 291.0L485.4 291.2L487.7 290.9L489.9 290.7L492.2 291.1L494.5 292.6L496.8 294.6L499.1 295.0L501.3 293.6L503.6 292.1L505.9 291.3L508.2 290.3L510.5 289.3L512.7 289.6L515.0 290.1L517.3 288.8L519.6 286.1L521.9 283.8L524.1 281.9L526.4 279.6L528.7 277.2L531.0 275.0L533.3 273.6L535.5 273.5L537.8 273.7L540.1 272.9L542.4 270.4L544.7 266.7L546.9 263.9L549.2 263.4L551.5 263.8L553.8 264.1L556.1 263.6L558.3 262.5L560.6 261.2L562.9 259.7L565.2 258.5L567.5 257.7L569.7 256.9L572.0 255.8L574.3 255.2L576.6 254.4L578.9 253.9L581.1 254.4L583.4 255.4L585.7 255.9L588.0 255.2L590.3 253.3L592.5 253.3L594.8 255.8L597.1 257.9L599.4 258.1L601.7 258.0L604.0 259.1L606.2 261.5L608.5 263.1L610.8 263.0L613.1 262.8L615.4 262.9L617.6 262.8L619.9 261.6L622.2 260.5L624.5 260.7L626.8 261.7L629.0 262.8L631.3 263.2L633.6 263.8L635.9 264.9L638.2 265.7L640.4 265.7L642.7 265.6L645.0 266.2L647.3 267.6L649.6 268.5L651.8 268.5L654.1 269.2L656.4 271.6L658.7 274.1L661.0 276.2L663.2 278.9L665.5 282.2L667.8 284.6L670.1 286.2L672.4 288.3L674.6 290.1L676.9 291.2L679.2 292.5L681.5 294.1L683.8 295.5L686.0 297.2L688.3 298.7L690.6 298.8L692.9 297.8L695.2 297.0L697.4 296.9L699.7 297.6L702.0 299.1L704.3 300.8L706.6 302.0L708.8 303.9L711.1 306.7L713.4 309.2L715.7 310.2L718.0 310.5L720.2 311.5L722.5 313.4L724.8 316.1L727.1 318.9L729.4 321.3L731.6 323.3L733.9 323.6L736.2 321.4L738.5 318.7L740.8 317.9L743.0 318.2L745.3 318.8L747.6 320.1L749.9 321.3L752.2 321.2L754.4 320.6L756.7 321.0L759.0 322.5L761.3 324.0L763.6 324.8L765.8 324.8L768.1 324.8L770.4 325.5L772.7 326.8L775.0 328.6L777.2 330.9L779.5 332.6L781.8 332.9L784.1 331.7L786.4 330.5L788.6 331.0L790.9 332.8L793.2 334.6L795.5 335.8L797.8 336.9L800.0 338.5L802.3 339.8L804.6 340.2L806.9 341.2L809.2 342.7L811.5 343.5L813.7 343.1L816.0 341.8L818.3 341.0L820.6 341.6L822.9 341.6L825.1 340.6L827.4 339.1L829.7 338.2L832.0 338.0L834.3 337.3L836.5 334.9L838.8 331.8L841.1 329.9L843.4 330.3L845.7 331.6L847.9 333.2L850.2 334.9L852.5 335.1L854.8 333.9L857.1 332.5L859.3 331.5L861.6 332.4L863.9 334.7L866.2 336.6L868.5 337.7L870.7 338.7L873.0 338.4L875.3 337.5L877.6 337.5L879.9 337.8L882.1 338.0L884.4 337.5L886.7 335.7L889.0 333.4L891.3 331.6L893.5 330.3L895.8 329.5L898.1 328.5L900.4 326.8L902.7 326.4L904.9 327.8L907.2 328.9L909.5 328.9"/>
<path d="M79.5 321.8L81.8 319.6L84.1 316.1L86.3 312.7L88.6 310.6L90.9 310.0L93.2 308.8L95.5 307.9L97.7 308.1L100.0 307.9L102.3 306.7L104.6 305.0L106.9 302.3L109.1 298.7L111.4 294.9L113.7 292.4L116.0 291.8L118.3 292.5L120.5 292.8L122.8 291.8L125.1 290.5L127.4 291.1L129.7 292.9L131.9 293.3L134.2 292.1L136.5 289.4L138.8 286.7L141.1 285.5L143.3 285.3L145.6 285.2L147.9 284.7L150.2 283.3L152.5 280.4L154.7 276.7L157.0 273.2L159.3 270.4L161.6 268.5L163.9 267.3L166.1 266.1L168.4 264.1L170.7 261.6L173.0 259.9L175.3 259.3L177.5 259.3L179.8 259.3L182.1 259.2L184.4 259.1L186.7 259.8L189.0 261.0L191.2 260.4L193.5 257.7L195.8 255.5L198.1 255.0L200.4 255.4L202.6 256.9L204.9 259.6L207.2 261.4L209.5 260.3L211.8 257.7L214.0 256.4L216.3 256.9L218.6 258.2L220.9 258.9L223.2 258.9L225.4 258.6L227.7 257.4L230.0 255.0L232.3 252.0L234.6 250.5L236.8 250.4L239.1 250.7L241.4 250.0L243.7 247.8L246.0 245.7L248.2 244.8L250.5 244.5L252.8 243.9L255.1 243.0L257.4 242.6L259.6 242.4L261.9 241.6L264.2 240.9L266.5 240.5L268.8 239.5L271.0 237.9L273.3 236.5L275.6 235.2L277.9 235.0L280.2 236.0L282.4 237.6L284.7 239.4L287.0 241.2L289.3 242.7L291.6 244.1L293.8 246.2L296.1 248.8L298.4 250.2L300.7 249.8L303.0 248.8L305.2 249.0L307.5 250.0L309.8 251.5L312.1 253.4L314.4 254.2L316.6 253.5L318.9 252.2L321.2 250.6L323.5 249.7L325.8 250.4L328.0 251.6L330.3 252.7L332.6 252.9L334.9 252.1L337.2 251.4L339.4 251.8L341.7 253.2L344.0 255.5L346.3 257.5L348.6 258.6L350.8 259.4L353.1 260.4L355.4 261.5L357.7 261.9L360.0 261.8L362.2 261.9L364.5 261.9L366.8 261.6L369.1 261.5L371.4 262.1L373.6 263.0L375.9 264.6L378.2 267.3L380.5 270.3L382.8 271.7L385.0 271.5L387.3 271.5L389.6 272.5L391.9 273.6L394.2 274.4L396.5 275.2L398.7 275.6L401.0 275.5L403.3 275.7L405.6 276.0L407.9 275.6L410.1 276.0L412.4 277.8L414.7 280.1L417.0 282.3L419.3 284.2L421.5 285.0L423.8 284.7L426.1 284.3L428.4 283.5L430.7 283.2L432.9 284.2L435.2 285.7L437.5 286.7L439.8 287.6L442.1 288.5L444.3 288.7L446.6 287.8L448.9 286.7L451.2 286.3L453.5 286.7L455.7 287.2L458.0 286.8L460.3 285.5L462.6 284.4L464.9 284.5L467.1 286.2L469.4 288.9L471.7 290.4L474.0 289.4L476.3 288.4L478.5 288.9L480.8 288.7L483.1 287.0L485.4 285.4L487.7 283.8L489.9 282.6L492.2 282.7L494.5 283.7L496.8 284.5L499.1 284.2L501.3 283.4L503.6 283.2L505.9 284.1L508.2 284.9L510.5 284.2L512.7 282.6L515.0 281.2L517.3 280.0L519.6 279.0L521.9 277.0L524.1 273.9L526.4 271.0L528.7 269.2L531.0 268.3L533.3 267.1L535.5 264.9L537.8 262.7L540.1 261.6L542.4 261.0L544.7 259.4L546.9 258.0L549.2 258.0L551.5 259.1L553.8 261.0L556.1 263.2L558.3 264.7L560.6 264.7L562.9 263.8L565.2 262.8L567.5 261.8L569.7 261.4L572.0 261.0L574.3 259.4L576.6 258.1L578.9 258.2L581.1 258.2L583.4 258.4L585.7 258.8L588.0 258.4L590.3 257.5L592.5 257.0L594.8 256.0L597.1 254.9L599.4 254.2L601.7 253.3L604.0 251.7L606.2 250.8L608.5 250.8L610.8 249.7L613.1 248.5L615.4 249.2L617.6 251.3L619.9 254.3L622.2 257.9L624.5 260.7L626.8 261.6L629.0 261.5L631.3 261.5L633.6 261.8L635.9 262.0L638.2 263.7L640.4 266.8L642.7 270.3L645.0 272.4L647.3 272.2L649.6 270.9L651.8 270.6L654.1 271.5L656.4 272.3L658.7 273.0L661.0 274.0L663.2 275.0L665.5 276.3L667.8 278.3L670.1 281.1L672.4 283.6L674.6 284.5L676.9 284.2L679.2 284.7L681.5 286.9L683.8 290.1L686.0 292.6L688.3 293.9L690.6 294.9L692.9 297.2L695.2 300.3L697.4 303.0L699.7 304.2L702.0 304.0L704.3 304.2L706.6 305.6L708.8 307.4L711.1 307.4L713.4 307.2L715.7 308.5L718.0 310.8L720.2 313.3L722.5 315.0L724.8 315.6L727.1 315.0L729.4 314.4L731.6 315.1L733.9 315.9L736.2 316.6L738.5 316.2L740.8 314.9L743.0 313.9L745.3 313.9L747.6 314.4L749.9 314.0L752.2 313.2L754.4 312.7L756.7 312.7L759.0 313.5L761.3 313.5L763.6 311.8L765.8 309.9L768.1 309.9L770.4 312.3L772.7 315.7L775.0 318.5L777.2 320.0L779.5 319.0L781.8 317.0L784.1 316.9L786.4 318.1L788.6 319.0L790.9 319.5L793.2 319.9L795.5 319.5L797.8 318.4L800.0 318.9L802.3 320.9L804.6 322.4L806.9 322.7L809.2 322.2L811.5 322.3L813.7 323.0L816.0 322.7L818.3 320.5L820.6 317.9L822.9 317.0L825.1 317.8L827.4 318.2L829.7 317.8L832.0 316.6L834.3 315.0L836.5 314.6L838.8 315.1L841.1 314.8L843.4 314.1L845.7 313.8L847.9 313.8L850.2 313.2L852.5 311.5L854.8 309.8L857.1 310.1L859.3 311.3L861.6 310.7L863.9 308.4L866.2 305.8L868.5 303.7L870.7 301.9L873.0 300.4L875.3 299.4L877.6 298.4L879.9 296.3L882.1 293.7L884.4 292.6L886.7 292.4L889.0 291.4L891.3 290.0L893.5 289.5L895.8 290.5L898.1 291.2L900.4 290.6L902.7 288.6L904.9 285.7L907.2 283.2L909.5 282.4"/>
<path d="M79.5 290.4L81.8 288.2L84.1 286.8L86.3 286.2L88.6 285.1L90.9 283.9L93.2 283.0L95.5 282.9L97.7 283.1L100.0 282.5L102.3 281.5L104.6 280.0L106.9 278.5L109.1 278.2L111.4 278.0L113.7 276.5L116.0 274.3L118.3 273.4L120.5 273.7L122.8 273.9L125.1 274.3L127.4 275.2L129.7 275.3L131.9 274.4L134.2 273.7L136.5 273.1L138.8 271.4L141.1 269.1L143.3 266.9L145.6 264.4L147.9 261.3L150.2 258.3L152.5 256.6L154.7 255.8L157.0 255.4L159.3 254.8L161.6 254.0L163.9 254.4L166.1 256.1L168.4 256.6L170.7 255.3L173.0 253.3L175.3 251.9L177.5 252.9L179.8 254.8L182.1 255.5L184.4 254.7L186.7 253.8L189.0 253.0L191.2 251.6L193.5 249.3L195.8 247.0L198.1 245.6L200.4 245.0L202.6 244.7L204.9 244.6L207.2 244.1L209.5 243.3L211.8 242.5L214.0 242.3L216.3 241.7L218.6 240.4L220.9 239.6L223.2 240.0L225.4 240.0L227.7 239.2L230.0 238.5L232.3 237.7L234.6 237.2L236.8 236.1L239.1 233.8L241.4 231.5L243.7 230.6L246.0 230.1L248.2 229.7L250.5 229.5L252.8 229.3L255.1 227.6L257.4 224.5L259.6 222.6L261.9 221.9L264.2 221.3L266.5 219.7L268.8 217.2L271.0 215.1L273.3 214.7L275.6 215.2L277.9 214.8L280.2 213.9L282.4 213.0L284.7 211.8L287.0 211.7L289.3 213.1L291.6 214.6L293.8 215.7L296.1 216.9L298.4 218.5L300.7 220.5L303.0 221.9L305.2 222.8L307.5 223.9L309.8 225.0L312.1 226.0L314.4 227.1L316.6 228.2L318.9 229.2L321.2 230.4L323.5 230.6L325.8 229.8L328.0 230.1L330.3 231.3L332.6 232.6L334.9 233.9L337.2 234.8L339.4 236.4L341.7 238.7L344.0 240.5L346.3 241.5L348.6 243.4L350.8 245.0L353.1 245.1L355.4 244.9L357.7 245.7L360.0 247.1L362.2 248.2L364.5 249.0L366.8 250.0L369.1 252.0L371.4 254.6L373.6 256.5L375.9 257.6L378.2 257.9L380.5 257.8L382.8 258.5L385.0 259.9L387.3 261.3L389.6 261.9L391.9 261.7L394.2 262.1L396.5 263.0L398.7 262.7L401.0 262.3L403.3 262.0L405.6 261.1L407.9 259.9L410.1 259.1L412.4 259.8L414.7 261.8L417.0 263.4L419.3 265.0L421.5 266.6L423.8 268.0L426.1 269.4L428.4 270.9L430.7 272.6L432.9 273.7L435.2 273.0L437.5 272.1L439.8 272.4L442.1 273.2L444.3 273.0L446.6 272.0L448.9 271.6L451.2 272.2L453.5 274.3L455.7 277.2L458.0 279.2L460.3 279.9L462.6 280.2L464.9 280.8L467.1 282.2L469.4 284.5L471.7 287.2L474.0 289.4L476.3 290.8L478.5 291.8L480.8 291.9L483.1 290.4L485.4 288.4L487.7 287.6L489.9 287.9L492.2 286.2L494.5 282.5L496.8 280.1L499.1 280.1L501.3 280.3L503.6 280.2L505.9 280.6L508.2 281.3L510.5 281.4L512.7 280.8L515.0 279.5L517.3 277.9L519.6 277.1L521.9 276.3L524.1 274.6L526.4 272.3L528.7 270.4L531.0 268.4L533.3 266.2L535.5 264.0L537.8 262.1L540.1 260.6L542.4 259.5L544.7 258.0L546.9 256.1L549.2 254.9L551.5 254.3L553.8 253.7L556.1 252.2L558.3 250.0L560.6 248.1L562.9 246.6L565.2 245.2L567.5 242.4L569.7 238.3L572.0 235.6L574.3 235.2L576.6 234.2L578.9 232.2L581.1 231.5L583.4 231.1L585.7 228.9L588.0 226.1L590.3 222.9L592.5 221.2L594.8 223.5L597.1 227.8L599.4 231.2L601.7 232.9L604.0 233.3L606.2 233.9L608.5 234.4L610.8 233.8L613.1 233.8L615.4 234.2L617.6 234.9L619.9 235.7L622.2 235.9L624.5 236.0L626.8 235.9L629.0 234.7L631.3 233.0L633.6 232.8L635.9 233.7L638.2 234.0L640.4 233.2L642.7 232.2L645.0 231.1L647.3 232.0L649.6 234.2L651.8 234.8L654.1 234.9L656.4 236.7L658.7 239.4L661.0 241.5L663.2 242.6L665.5 242.2L667.8 241.8L670.1 243.4L672.4 247.0L674.6 250.1L676.9 252.2L679.2 253.8L681.5 255.4L683.8 257.2L686.0 258.2L688.3 259.5L690.6 262.8L692.9 266.5L695.2 268.3L697.4 269.2L699.7 271.1L702.0 273.4L704.3 275.0L706.6 275.2L708.8 274.8L711.1 274.6L713.4 274.1L715.7 273.1L718.0 272.6L720.2 274.2L722.5 277.6L724.8 280.0L727.1 279.7L729.4 279.0L731.6 280.0L733.9 281.0L736.2 281.8L738.5 283.0L740.8 284.0L743.0 285.2L745.3 287.1L747.6 288.5L749.9 289.2L752.2 290.2L754.4 291.4L756.7 292.3L759.0 292.9L761.3 292.6L763.6 292.3L765.8 293.6L768.1 295.4L770.4 296.0L772.7 295.6L775.0 293.7L777.2 290.9L779.5 289.5L781.8 289.8L784.1 290.5L786.4 290.4L788.6 288.5L790.9 286.2L793.2 285.7L795.5 286.3L797.8 285.4L800.0 283.4L802.3 282.5L804.6 283.2L806.9 285.0L809.2 286.4L811.5 286.1L813.7 284.4L816.0 283.2L818.3 283.8L820.6 285.6L822.9 286.9L825.1 286.7L827.4 285.6L829.7 284.5L832.0 283.1L834.3 281.8L836.5 281.0L838.8 279.6L841.1 277.1L843.4 274.9L845.7 274.3L847.9 274.3L850.2 272.8L852.5 271.1L854.8 270.8L857.1 271.4L859.3 271.7L861.6 269.6L863.9 267.1L866.2 269.3L868.5 274.2L870.7 274.8L873.0 271.1L875.3 268.4L877.6 266.7L879.9 264.3L882.1 263.3L884.4 262.9L886.7 262.1L889.0 262.6L891.3 263.6L893.5 262.0L895.8 259.1L898.1 258.0L900.4 259.0L902.7 259.8L904.9 260.7L907.2 260.9L909.5 260.3"/>
<path d="M79.5 242.0L81.8 239.2L84.1 235.2L86.3 232.6L88.6 230.9L90.9 230.2L93.2 230.5L95.5 231.9L97.7 234.3L100.0 236.1L102.3 235.2L104.6 233.0L106.9 231.2L109.1 230.2L111.4 229.6L113.7 229.9L116.0 230.6L118.3 231.4L120.5 232.4L122.8 232.3L125.1 230.7L127.4 228.9L129.7 227.1L131.9 225.0L134.2 222.4L136.5 219.7L138.8 217.9L141.1 216.9L143.3 216.3L145.6 217.4L147.9 219.1L150.2 219.0L152.5 217.2L154.7 215.3L157.0 213.8L159.3 212.2L161.6 212.4L163.9 214.4L166.1 215.8L168.4 215.8L170.7 215.3L173.0 215.0L175.3 213.8L177.5 212.7L179.8 211.6L182.1 210.8L184.4 209.9L186.7 207.6L189.0 204.4L191.2 202.5L193.5 201.7L195.8 201.4L198.1 201.7L200.4 202.2L202.6 203.3L204.9 204.6L207.2 204.2L209.5 203.2L211.8 202.6L214.0 201.4L216.3 199.7L218.6 199.3L220.9 199.9L223.2 199.3L225.4 196.6L227.7 194.2L230.0 193.2L232.3 192.0L234.6 190.2L236.8 187.8L239.1 186.1L241.4 185.1L243.7 184.1L246.0 182.5L248.2 180.6L250.5 179.4L252.8 178.8L255.1 177.9L257.4 177.2L259.6 177.7L261.9 177.9L264.2 177.6L266.5 177.1L268.8 176.6L271.0 176.4L273.3 177.8L275.6 180.1L277.9 180.5L280.2 179.9L282.4 180.5L284.7 180.1L287.0 177.9L289.3 176.8L291.6 178.2L293.8 180.1L296.1 181.5L298.4 181.8L300.7 181.2L303.0 181.5L305.2 183.5L307.5 185.8L309.8 187.3L312.1 188.5L314.4 189.6L316.6 190.6L318.9 192.3L321.2 193.8L323.5 194.5L325.8 195.8L328.0 197.8L330.3 199.7L332.6 201.0L334.9 201.5L337.2 201.5L339.4 201.7L341.7 201.8L344.0 202.2L346.3 203.6L348.6 205.7L350.8 208.2L353.1 210.8L355.4 212.5L357.7 213.6L360.0 215.7L362.2 218.4L364.5 218.7L366.8 217.6L369.1 217.7L371.4 218.7L373.6 219.1L375.9 219.3L378.2 220.4L380.5 221.6L382.8 221.9L385.0 222.0L387.3 222.0L389.6 221.9L391.9 221.4L394.2 220.6L396.5 220.3L398.7 220.6L401.0 221.7L403.3 223.7L405.6 225.1L407.9 226.1L410.1 227.8L412.4 229.5L414.7 230.7L417.0 232.7L419.3 235.4L421.5 237.4L423.8 238.9L426.1 239.7L428.4 239.3L430.7 238.8L432.9 238.9L435.2 239.8L437.5 240.8L439.8 241.3L442.1 240.8L444.3 240.0L446.6 240.3L448.9 240.5L451.2 240.0L453.5 239.7L455.7 240.2L458.0 240.9L460.3 241.1L462.6 241.1L464.9 241.1L467.1 240.5L469.4 239.2L471.7 237.4L474.0 236.1L476.3 236.8L478.5 239.1L480.8 240.9L483.1 241.4L485.4 242.0L487.7 243.1L489.9 243.2L492.2 242.5L494.5 241.8L496.8 242.2L499.1 242.9L501.3 242.1L503.6 241.1L505.9 242.2L508.2 245.1L510.5 246.7L512.7 245.9L515.0 244.5L517.3 243.7L519.6 244.0L521.9 245.5L524.1 246.8L526.4 246.6L528.7 245.1L531.0 243.5L533.3 243.6L535.5 244.4L537.8 243.6L540.1 241.7L542.4 240.8L544.7 239.4L546.9 237.3L549.2 236.2L551.5 235.7L553.8 234.6L556.1 233.2L558.3 232.6L560.6 232.4L562.9 232.7L565.2 233.6L567.5 234.7L569.7 236.3L572.0 236.8L574.3 235.4L576.6 234.2L578.9 234.5L581.1 235.1L583.4 235.0L585.7 234.1L588.0 232.8L590.3 231.6L592.5 230.4L594.8 229.0L597.1 228.2L599.4 228.9L601.7 229.8L604.0 229.6L606.2 227.7L608.5 224.8L610.8 223.2L613.1 223.6L615.4 225.0L617.6 225.7L619.9 226.0L622.2 227.3L624.5 230.2L626.8 235.0L629.0 239.5L631.3 241.7L633.6 242.2L635.9 242.6L638.2 244.1L640.4 245.6L642.7 246.5L645.0 246.6L647.3 245.7L649.6 244.4L651.8 243.2L654.1 243.1L656.4 244.1L658.7 246.2L661.0 249.4L663.2 252.5L665.5 254.6L667.8 255.8L670.1 257.1L672.4 258.6L674.6 258.9L676.9 258.7L679.2 258.7L681.5 258.5L683.8 257.7L686.0 257.4L688.3 257.9L690.6 258.5L692.9 259.7L695.2 261.3L697.4 262.3L699.7 263.2L702.0 263.7L704.3 264.0L706.6 265.4L708.8 268.1L711.1 270.8L713.4 272.6L715.7 273.1L718.0 273.3L720.2 274.4L722.5 276.4L724.8 278.4L727.1 280.4L729.4 282.9L731.6 285.1L733.9 286.4L736.2 287.4L738.5 288.3L740.8 289.2L743.0 289.2L745.3 289.1L747.6 290.0L749.9 291.1L752.2 292.1L754.4 293.4L756.7 294.8L759.0 296.4L761.3 298.0L763.6 299.9L765.8 302.4L768.1 304.2L770.4 304.7L772.7 304.9L775.0 305.5L777.2 305.9L779.5 305.6L781.8 305.3L784.1 305.3L786.4 304.8L788.6 302.8L790.9 300.3L793.2 299.8L795.5 300.1L797.8 300.7L800.0 303.4L802.3 306.6L804.6 307.2L806.9 306.7L809.2 307.1L811.5 307.5L813.7 307.6L816.0 308.2L818.3 309.0L820.6 309.4L822.9 309.1L825.1 308.3L827.4 307.8L829.7 308.4L832.0 310.8L834.3 313.0L836.5 312.8L838.8 311.3L841.1 310.4L843.4 309.2L845.7 307.3L847.9 306.9L850.2 307.8L852.5 308.0L854.8 308.8L857.1 311.2L859.3 313.5L861.6 313.9L863.9 313.2L866.2 312.5L868.5 311.7L870.7 312.4L873.0 314.7L875.3 315.8L877.6 314.1L879.9 311.4L882.1 309.8L884.4 309.1L886.7 308.2L889.0 306.8L891.3 305.3L893.5 305.1L895.8 306.5L898.1 307.1L900.4 307.3L902.7 308.3L904.9 308.8L907.2 307.5L909.5 305.0"/>
<path d="M79.5 279.9L81.8 278.6L84.1 277.9L86.3 277.2L88.6 275.9L90.9 275.0L93.2 273.7L95.5 272.3L97.7 272.1L100.0 272.4L102.3 271.0L104.6 268.6L106.9 267.4L109.1 267.3L111.4 267.4L113.7 267.7L116.0 267.6L118.3 266.5L120.5 265.0L122.8 264.0L125.1 264.8L127.4 266.8L129.7 268.0L131.9 267.5L134.2 265.6L136.5 263.8L138.8 263.6L141.1 263.9L143.3 262.5L145.6 259.4L147.9 257.1L150.2 256.7L152.5 256.5L154.7 255.4L157.0 254.3L159.3 254.0L161.6 254.1L163.9 253.4L166.1 252.8L168.4 253.2L170.7 254.5L173.0 256.3L175.3 257.5L177.5 256.9L179.8 255.2L182.1 254.9L184.4 256.2L186.7 256.1L189.0 253.8L191.2 252.1L193.5 252.3L195.8 252.9L198.1 252.7L200.4 251.5L202.6 250.5L204.9 250.6L207.2 250.9L209.5 250.2L211.8 249.2L214.0 248.9L216.3 248.7L218.6 247.9L220.9 246.6L223.2 244.5L225.4 241.7L227.7 240.3L230.0 241.5L232.3 243.1L234.6 242.9L236.8 240.1L239.1 235.9L241.4 231.8L243.7 228.6L246.0 226.0L248.2 224.0L250.5 223.1L252.8 223.2L255.1 224.0L257.4 223.7L259.6 222.4L261.9 220.8L264.2 219.6L266.5 218.6L268.8 217.9L271.0 217.6L273.3 217.1L275.6 216.6L277.9 216.9L280.2 217.7L282.4 218.7L284.7 219.7L287.0 220.2L289.3 220.6L291.6 221.3L293.8 221.5L296.1 221.4L298.4 221.6L300.7 223.0L303.0 225.3L305.2 227.7L307.5 229.4L309.8 229.5L312.1 229.7L314.4 231.1L316.6 232.2L318.9 232.9L321.2 232.9L323.5 232.4L325.8 232.5L328.0 233.5L330.3 234.4L332.6 234.0L334.9 233.3L337.2 234.0L339.4 236.2L341.7 238.1L344.0 237.5L346.3 235.6L348.6 235.7L350.8 238.0L353.1 239.8L355.4 239.5L357.7 238.6L360.0 238.7L362.2 240.0L364.5 241.3L366.8 241.7L369.1 242.3L371.4 243.5L373.6 244.0L375.9 244.2L378.2 245.4L380.5 247.1L382.8 248.5L385.0 249.9L387.3 251.0L389.6 250.9L391.9 250.6L394.2 251.3L396.5 252.6L398.7 254.1L401.0 255.4L403.3 256.2L405.6 257.1L407.9 258.7L410.1 260.5L412.4 261.2L414.7 261.3L417.0 261.4L419.3 262.4L421.5 264.4L423.8 265.4L426.1 264.3L428.4 261.9L430.7 259.7L432.9 258.3L435.2 258.0L437.5 257.9L439.8 256.9L442.1 255.0L444.3 254.0L446.6 255.3L448.9 257.5L451.2 259.6L453.5 260.9L455.7 261.9L458.0 263.8L460.3 266.4L462.6 267.8L464.9 268.7L467.1 270.0L469.4 270.8L471.7 270.3L474.0 268.9L476.3 268.5L478.5 269.6L480.8 270.8L483.1 271.1L485.4 270.4L487.7 269.5L489.9 269.0L492.2 268.7L494.5 268.7L496.8 269.7L499.1 271.9L501.3 273.8L503.6 272.8L505.9 269.9L508.2 267.5L510.5 266.1L512.7 265.5L515.0 266.0L517.3 266.1L519.6 264.2L521.9 261.0L524.1 257.6L526.4 255.1L528.7 253.9L531.0 253.7L533.3 253.1L535.5 251.9L537.8 250.6L540.1 249.1L542.4 247.5L544.7 246.1L546.9 245.2L549.2 244.4L551.5 242.8L553.8 240.2L556.1 237.6L558.3 236.4L560.6 235.7L562.9 235.0L565.2 236.0L567.5 237.5L569.7 237.6L572.0 235.4L574.3 231.9L576.6 229.4L578.9 228.1L581.1 226.2L583.4 223.9L585.7 222.5L588.0 222.8L590.3 222.5L592.5 220.7L594.8 219.7L597.1 220.1L599.4 220.1L601.7 220.0L604.0 220.8L606.2 221.2L608.5 220.7L610.8 220.2L613.1 221.0L615.4 222.9L617.6 226.1L619.9 229.3L622.2 231.4L624.5 233.1L626.8 233.1L629.0 231.4L631.3 229.8L633.6 230.0L635.9 232.4L638.2 235.3L640.4 236.4L642.7 236.8L645.0 238.0L647.3 239.7L649.6 241.6L651.8 243.2L654.1 243.1L656.4 242.4L658.7 243.0L661.0 244.9L663.2 247.6L665.5 249.6L667.8 249.3L670.1 247.4L672.4 246.0L674.6 246.4L676.9 248.7L679.2 250.6L681.5 251.1L683.8 251.4L686.0 252.4L688.3 253.8L690.6 255.9L692.9 258.9L695.2 260.8L697.4 261.9L699.7 262.6L702.0 262.1L704.3 261.6L706.6 262.5L708.8 264.3L711.1 265.8L713.4 267.0L715.7 269.0L718.0 271.4L720.2 273.9L722.5 276.4L724.8 277.8L727.1 278.4L729.4 280.0L731.6 282.9L733.9 286.0L736.2 288.6L738.5 289.7L740.8 289.4L743.0 288.9L745.3 289.6L747.6 290.7L749.9 291.6L752.2 292.1L754.4 292.3L756.7 293.6L759.0 295.8L761.3 296.8L763.6 295.2L765.8 293.4L768.1 294.0L770.4 295.8L772.7 296.3L775.0 295.9L777.2 295.6L779.5 296.0L781.8 296.5L784.1 295.3L786.4 293.4L788.6 293.2L790.9 294.0L793.2 293.6L795.5 291.4L797.8 288.3L800.0 286.9L802.3 288.4L804.6 290.9L806.9 292.6L809.2 293.9L811.5 296.5L813.7 300.1L816.0 302.9L818.3 303.6L820.6 303.2L822.9 303.0L825.1 303.0L827.4 304.0L829.7 305.1L832.0 304.7L834.3 303.9L836.5 302.9L838.8 301.0L841.1 299.4L843.4 298.0L845.7 295.4L847.9 293.0L850.2 291.7L852.5 291.4L854.8 291.4L857.1 291.3L859.3 291.0L861.6 291.0L863.9 290.8L866.2 290.5L868.5 290.8L870.7 290.8L873.0 290.8L875.3 290.9L877.6 291.2L879.9 291.7L882.1 290.0L884.4 285.0L886.7 279.8L889.0 278.2L891.3 280.4L893.5 281.6L895.8 279.0L898.1 275.0L900.4 272.0L902.7 269.6L904.9 267.9L907.2 267.8L909.5 268.9"/>
<path d="M79.5 272.2L81.8 271.2L84.1 269.9L86.3 268.7L88.6 268.4L90.9 269.6L93.2 270.3L95.5 269.6L97.7 267.7L100.0 266.0L102.3 265.5L104.6 266.0L106.9 266.5L109.1 265.7L111.4 264.7L113.7 264.6L116.0 264.2L118.3 263.2L120.5 261.6L122.8 258.9L125.1 257.2L127.4 257.9L129.7 258.8L131.9 258.3L134.2 257.0L136.5 255.5L138.8 254.3L141.1 253.3L143.3 252.1L145.6 250.6L147.9 248.7L150.2 246.3L152.5 243.4L154.7 240.7L157.0 239.9L159.3 240.1L161.6 238.8L163.9 236.0L166.1 232.6L168.4 229.7L170.7 228.2L173.0 228.3L175.3 229.0L177.5 229.5L179.8 229.3L182.1 227.7L184.4 226.7L186.7 227.8L189.0 229.2L191.2 229.2L193.5 228.1L195.8 226.5L198.1 223.7L200.4 221.5L202.6 220.3L204.9 218.6L207.2 216.1L209.5 214.7L211.8 214.4L214.0 214.2L216.3 213.5L218.6 211.5L220.9 208.6L223.2 206.8L225.4 207.0L227.7 207.5L230.0 206.7L232.3 204.8L234.6 202.2L236.8 199.3L239.1 198.1L241.4 198.2L243.7 197.0L246.0 194.1L248.2 191.8L250.5 190.6L252.8 189.6L255.1 188.4L257.4 187.6L259.6 188.4L261.9 189.8L264.2 191.8L266.5 194.0L268.8 195.2L271.0 195.9L273.3 196.3L275.6 196.9L277.9 198.0L280.2 198.6L282.4 198.5L284.7 198.4L287.0 198.7L289.3 199.8L291.6 201.8L293.8 204.5L296.1 206.9L298.4 208.2L300.7 209.5L303.0 211.9L305.2 214.1L307.5 215.4L309.8 216.6L312.1 217.6L314.4 218.5L316.6 220.6L318.9 223.4L321.2 224.8L323.5 224.6L325.8 224.3L328.0 224.7L330.3 225.1L332.6 225.8L334.9 227.9L337.2 230.7L339.4 232.8L341.7 234.1L344.0 235.8L346.3 237.5L348.6 239.6L350.8 241.8L353.1 243.6L355.4 246.0L357.7 249.6L360.0 253.3L362.2 256.0L364.5 257.5L366.8 258.1L369.1 258.3L371.4 258.7L373.6 259.9L375.9 261.2L378.2 262.3L380.5 263.1L382.8 264.5L385.0 266.6L387.3 269.0L389.6 270.5L391.9 271.1L394.2 271.3L396.5 271.6L398.7 271.7L401.0 271.8L403.3 273.2L405.6 275.6L407.9 277.3L410.1 277.2L412.4 276.2L414.7 276.1L417.0 276.9L419.3 277.3L421.5 276.9L423.8 276.8L426.1 276.7L428.4 276.0L430.7 275.3L432.9 276.2L435.2 277.4L437.5 277.9L439.8 278.4L442.1 279.5L444.3 281.4L446.6 283.5L448.9 285.2L451.2 286.5L453.5 287.3L455.7 287.2L458.0 287.1L460.3 288.6L462.6 290.7L464.9 291.1L467.1 290.4L469.4 289.1L471.7 287.0L474.0 285.0L476.3 283.8L478.5 283.3L480.8 282.6L483.1 280.9L485.4 280.2L487.7 281.2L489.9 282.3L492.2 281.9L494.5 280.0L496.8 277.7L499.1 277.1L501.3 278.3L503.6 279.2L505.9 278.4L508.2 277.2L510.5 276.7L512.7 276.4L515.0 275.3L517.3 273.7L519.6 272.3L521.9 271.2L524.1 269.5L526.4 267.4L528.7 264.9L531.0 262.1L533.3 259.7L535.5 258.7L537.8 259.1L540.1 259.3L542.4 259.3L544.7 259.4L546.9 258.3L549.2 255.9L551.5 253.8L553.8 254.4L556.1 256.1L558.3 256.4L560.6 254.9L562.9 253.4L565.2 252.2L567.5 250.2L569.7 247.7L572.0 244.7L574.3 242.4L576.6 241.9L578.9 242.8L581.1 243.1L583.4 242.3L585.7 241.2L588.0 239.6L590.3 237.0L592.5 234.3L594.8 232.5L597.1 231.0L599.4 229.3L601.7 226.8L604.0 224.3L606.2 224.2L608.5 226.0L610.8 226.9L613.1 226.5L615.4 225.6L617.6 225.4L619.9 226.8L622.2 228.0L624.5 228.5L626.8 229.8L629.0 232.4L631.3 233.8L633.6 233.7L635.9 234.5L638.2 237.7L640.4 240.9L642.7 243.6L645.0 245.6L647.3 247.1L649.6 248.0L651.8 247.8L654.1 247.3L656.4 247.3L658.7 247.5L661.0 248.3L663.2 249.7L665.5 250.3L667.8 250.2L670.1 250.3L672.4 250.7L674.6 249.8L676.9 247.3L679.2 245.6L681.5 246.4L683.8 249.5L686.0 253.3L688.3 257.5L690.6 260.9L692.9 261.7L695.2 261.3L697.4 262.0L699.7 263.5L702.0 265.3L704.3 267.4L706.6 269.6L708.8 271.9L711.1 273.5L713.4 273.1L715.7 271.7L718.0 271.4L720.2 271.3L722.5 270.6L724.8 270.3L727.1 270.9L729.4 272.3L731.6 274.1L733.9 274.7L736.2 275.0L738.5 277.4L740.8 281.5L743.0 284.9L745.3 286.8L747.6 288.3L749.9 290.1L752.2 291.0L754.4 290.5L756.7 290.7L759.0 292.1L761.3 293.7L763.6 295.5L765.8 297.4L768.1 299.2L770.4 300.8L772.7 301.7L775.0 301.7L777.2 302.1L779.5 303.2L781.8 304.4L784.1 306.0L786.4 307.3L788.6 307.9L790.9 307.4L793.2 306.5L795.5 305.8L797.8 305.5L800.0 304.4L802.3 302.8L804.6 300.8L806.9 298.3L809.2 296.1L811.5 293.6L813.7 290.7L816.0 289.7L818.3 291.5L820.6 293.3L822.9 294.0L825.1 294.4L827.4 294.4L829.7 292.9L832.0 290.7L834.3 289.6L836.5 289.5L838.8 289.9L841.1 291.3L843.4 292.6L845.7 293.1L847.9 293.7L850.2 294.2L852.5 293.9L854.8 293.3L857.1 292.6L859.3 291.5L861.6 289.4L863.9 286.9L866.2 284.8L868.5 283.7L870.7 283.5L873.0 282.9L875.3 281.6L877.6 281.1L879.9 281.7L882.1 283.1L884.4 284.2L886.7 283.3L889.0 279.9L891.3 275.7L893.5 272.3L895.8 271.1L898.1 271.6L900.4 271.7L902.7 270.8L904.9 270.3L907.2 269.9L909.5 268.2"/>
<path d="M79.5 274.9L81.8 271.2L84.1 268.5L86.3 267.1L88.6 265.8L90.9 263.7L93.2 261.1L95.5 260.0L97.7 260.3L100.0 259.6L102.3 258.0L104.6 257.3L106.9 257.3L109.1 257.0L111.4 256.6L113.7 255.3L116.0 253.0L118.3 251.8L120.5 252.3L122.8 252.2L125.1 250.2L127.4 247.8L129.7 245.8L131.9 244.7L134.2 243.7L136.5 242.0L138.8 240.2L141.1 238.1L143.3 235.6L145.6 233.0L147.9 231.0L150.2 230.3L152.5 230.0L154.7 229.0L157.0 227.3L159.3 225.2L161.6 223.2L163.9 222.4L166.1 223.1L168.4 224.0L170.7 224.5L173.0 225.0L175.3 225.0L177.5 223.8L179.8 222.6L182.1 222.5L184.4 222.6L186.7 222.3L189.0 222.0L191.2 222.5L193.5 223.9L195.8 225.0L198.1 224.3L200.4 221.5L202.6 218.3L204.9 217.9L207.2 219.3L209.5 219.8L211.8 218.7L214.0 215.7L216.3 212.4L218.6 211.3L220.9 212.5L223.2 213.9L225.4 213.5L227.7 210.9L230.0 208.0L232.3 206.3L234.6 206.0L236.8 206.3L239.1 206.8L241.4 206.2L243.7 205.1L246.0 204.7L248.2 204.8L250.5 204.9L252.8 204.6L255.1 203.8L257.4 203.0L259.6 203.2L261.9 203.3L264.2 202.0L266.5 199.3L268.8 197.8L271.0 198.6L273.3 200.2L275.6 200.1L277.9 198.9L280.2 197.2L282.4 196.2L284.7 197.0L287.0 197.5L289.3 196.6L291.6 196.4L293.8 197.0L296.1 198.0L298.4 199.6L300.7 202.0L303.0 204.3L305.2 205.6L307.5 206.1L309.8 206.5L312.1 207.2L314.4 208.7L316.6 211.3L318.9 214.4L321.2 217.1L323.5 218.8L325.8 220.2L328.0 221.4L330.3 221.7L332.6 221.9L334.9 223.2L337.2 225.1L339.4 226.5L341.7 226.7L344.0 225.3L346.3 223.1L348.6 222.1L350.8 223.6L353.1 226.6L355.4 229.3L357.7 230.7L360.0 231.0L362.2 230.8L364.5 230.6L366.8 231.1L369.1 232.7L371.4 235.1L373.6 237.0L375.9 237.6L378.2 237.6L380.5 238.5L382.8 239.8L385.0 241.0L387.3 241.6L389.6 242.0L391.9 242.6L394.2 243.4L396.5 243.7L398.7 244.0L401.0 245.1L403.3 246.6L405.6 247.7L407.9 248.6L410.1 250.4L412.4 252.6L414.7 253.7L417.0 254.3L419.3 255.8L421.5 257.3L423.8 257.0L426.1 256.0L428.4 255.5L430.7 255.6L432.9 255.8L435.2 255.8L437.5 255.0L439.8 253.6L442.1 252.8L444.3 253.1L446.6 253.2L448.9 252.2L451.2 250.0L453.5 248.1L455.7 247.8L458.0 248.4L460.3 249.0L462.6 249.8L464.9 250.7L467.1 250.4L469.4 248.5L471.7 246.6L474.0 245.9L476.3 245.4L478.5 245.1L480.8 244.0L483.1 241.1L485.4 237.9L487.7 237.6L489.9 240.3L492.2 243.0L494.5 242.8L496.8 239.4L499.1 235.7L501.3 233.6L503.6 232.0L505.9 230.4L508.2 229.4L510.5 229.6L512.7 231.2L515.0 233.0L517.3 233.3L519.6 231.3L521.9 228.5L524.1 228.6L526.4 231.5L528.7 234.2L531.0 234.3L533.3 231.6L535.5 228.5L537.8 226.0L540.1 224.6L542.4 224.6L544.7 224.8L546.9 223.6L549.2 221.2L551.5 218.8L553.8 217.7L556.1 217.1L558.3 217.4L560.6 218.5L562.9 219.3L565.2 218.7L567.5 216.4L569.7 214.4L572.0 214.0L574.3 213.2L576.6 211.6L578.9 210.2L581.1 209.9L583.4 211.0L585.7 212.4L588.0 213.2L590.3 213.6L592.5 213.5L594.8 214.2L597.1 216.0L599.4 218.0L601.7 219.6L604.0 220.4L606.2 221.0L608.5 221.3L610.8 221.1L613.1 219.7L615.4 218.5L617.6 218.3L619.9 217.1L622.2 216.1L624.5 218.4L626.8 222.0L629.0 224.2L631.3 225.4L633.6 227.8L635.9 230.8L638.2 232.8L640.4 232.9L642.7 233.3L645.0 233.7L647.3 232.9L649.6 232.1L651.8 232.9L654.1 233.9L656.4 233.3L658.7 232.3L661.0 233.6L663.2 236.4L665.5 238.6L667.8 239.1L670.1 237.7L672.4 236.2L674.6 237.5L676.9 241.2L679.2 244.6L681.5 247.1L683.8 249.0L686.0 249.9L688.3 250.4L690.6 251.2L692.9 252.7L695.2 254.4L697.4 256.0L699.7 256.8L702.0 256.2L704.3 254.9L706.6 254.7L708.8 257.5L711.1 261.9L713.4 264.4L715.7 264.8L718.0 265.9L720.2 268.2L722.5 270.6L724.8 273.4L727.1 275.9L729.4 277.2L731.6 278.5L733.9 280.2L736.2 282.2L738.5 283.8L740.8 283.9L743.0 283.6L745.3 283.9L747.6 285.2L749.9 287.1L752.2 288.9L754.4 289.6L756.7 289.4L759.0 289.2L761.3 289.6L763.6 290.8L765.8 291.8L768.1 291.7L770.4 292.1L772.7 294.0L775.0 295.5L777.2 296.2L779.5 297.2L781.8 298.7L784.1 300.3L786.4 301.1L788.6 301.0L790.9 300.6L793.2 301.0L795.5 302.7L797.8 304.5L800.0 304.5L802.3 302.6L804.6 299.9L806.9 298.0L809.2 297.6L811.5 298.0L813.7 298.3L816.0 297.9L818.3 297.5L820.6 297.4L822.9 297.0L825.1 295.7L827.4 294.6L829.7 294.3L832.0 294.1L834.3 294.3L836.5 294.7L838.8 295.1L841.1 294.9L843.4 293.4L845.7 292.2L847.9 291.8L850.2 290.8L852.5 289.5L854.8 288.0L857.1 285.4L859.3 282.4L861.6 280.0L863.9 277.7L866.2 275.7L868.5 275.2L870.7 275.1L873.0 273.5L875.3 271.6L877.6 271.0L879.9 271.1L882.1 271.1L884.4 271.9L886.7 273.1L889.0 273.9L891.3 274.4L893.5 274.4L895.8 273.4L898.1 271.5L900.4 269.4L902.7 267.0L904.9 264.7L907.2 263.1L909.5 261.7"/>
<path d="M79.5 247.0L81.8 244.0L84.1 241.9L86.3 241.4L88.6 241.8L90.9 243.7L93.2 245.7L95.5 246.8L97.7 246.6L100.0 245.5L102.3 244.7L104.6 244.3L106.9 243.4L109.1 242.2L111.4 241.3L113.7 241.7L116.0 242.0L118.3 240.9L120.5 240.3L122.8 241.8L125.1 244.4L127.4 246.8L129.7 248.0L131.9 247.4L134.2 244.9L136.5 243.1L138.8 243.7L141.1 244.2L143.3 242.5L145.6 239.9L147.9 238.2L150.2 238.0L152.5 238.1L154.7 236.9L157.0 235.2L159.3 233.7L161.6 232.3L163.9 232.1L166.1 232.2L168.4 231.3L170.7 229.6L173.0 228.6L175.3 228.8L177.5 229.8L179.8 230.9L182.1 231.9L184.4 232.2L186.7 231.7L189.0 230.0L191.2 228.4L193.5 228.9L195.8 231.0L198.1 232.0L200.4 231.3L202.6 231.0L204.9 231.9L207.2 232.7L209.5 233.7L211.8 234.8L214.0 234.7L216.3 234.0L218.6 234.5L220.9 235.3L223.2 235.1L225.4 234.7L227.7 235.1L230.0 235.6L232.3 235.5L234.6 235.5L236.8 234.1L239.1 231.8L241.4 230.7L243.7 230.4L246.0 229.3L248.2 227.9L250.5 228.5L252.8 230.1L255.1 229.7L257.4 227.6L259.6 226.2L261.9 225.7L264.2 225.4L266.5 223.8L268.8 221.6L271.0 220.3L273.3 219.7L275.6 219.0L277.9 218.5L280.2 218.7L282.4 218.9L284.7 218.9L287.0 218.8L289.3 218.2L291.6 217.9L293.8 219.6L296.1 222.4L298.4 225.7L300.7 228.3L303.0 229.3L305.2 229.8L307.5 231.6L309.8 234.8L312.1 238.1L314.4 240.1L316.6 241.0L318.9 241.7L321.2 243.5L323.5 246.0L325.8 248.0L328.0 248.8L330.3 248.6L332.6 248.8L334.9 249.9L337.2 250.6L339.4 251.1L341.7 251.6L344.0 251.6L346.3 251.9L348.6 252.6L350.8 252.9L353.1 253.6L355.4 254.7L357.7 255.2L360.0 254.8L362.2 254.4L364.5 254.3L366.8 253.6L369.1 253.6L371.4 255.5L373.6 258.1L375.9 260.1L378.2 261.9L380.5 263.5L382.8 264.8L385.0 266.1L387.3 267.3L389.6 268.6L391.9 269.7L394.2 269.6L396.5 268.5L398.7 266.9L401.0 266.1L403.3 267.1L405.6 269.6L407.9 271.7L410.1 272.3L412.4 272.0L414.7 272.3L417.0 273.1L419.3 274.0L421.5 273.9L423.8 272.7L426.1 272.0L428.4 272.4L430.7 273.2L432.9 273.8L435.2 274.4L437.5 275.1L439.8 275.5L442.1 275.5L444.3 275.6L446.6 276.5L448.9 277.1L451.2 276.9L453.5 276.5L455.7 275.6L458.0 273.4L460.3 270.6L462.6 269.4L464.9 269.7L467.1 271.2L469.4 273.2L471.7 273.9L474.0 273.2L476.3 273.0L478.5 274.2L480.8 276.3L483.1 278.3L485.4 279.0L487.7 278.3L489.9 277.7L492.2 278.9L494.5 281.2L496.8 282.2L499.1 282.5L501.3 282.5L503.6 281.4L505.9 279.8L508.2 278.7L510.5 277.1L512.7 274.0L515.0 268.9L517.3 263.2L519.6 260.1L521.9 260.2L524.1 259.9L526.4 257.6L528.7 255.2L531.0 253.7L533.3 252.0L535.5 250.2L537.8 247.9L540.1 245.3L542.4 243.9L544.7 243.9L546.9 243.9L549.2 243.3L551.5 242.3L553.8 241.9L556.1 241.9L558.3 241.4L560.6 240.3L562.9 239.1L565.2 237.6L567.5 235.3L569.7 232.7L572.0 230.3L574.3 228.4L576.6 227.3L578.9 227.1L581.1 226.4L583.4 225.1L585.7 224.6L588.0 223.7L590.3 220.8L592.5 217.8L594.8 217.1L597.1 218.0L599.4 218.0L601.7 218.6L604.0 220.7L606.2 222.5L608.5 223.0L610.8 222.6L613.1 222.4L615.4 223.3L617.6 224.9L619.9 225.7L622.2 226.7L624.5 228.9L626.8 231.6L629.0 232.8L631.3 232.3L633.6 231.0L635.9 230.2L638.2 230.3L640.4 231.3L642.7 234.0L645.0 236.5L647.3 238.1L649.6 239.0L651.8 239.1L654.1 240.5L656.4 243.3L658.7 245.8L661.0 247.0L663.2 247.8L665.5 249.8L667.8 252.7L670.1 255.8L672.4 258.4L674.6 259.4L676.9 260.0L679.2 260.7L681.5 261.0L683.8 261.2L686.0 262.2L688.3 263.5L690.6 264.4L692.9 265.7L695.2 266.7L697.4 267.3L699.7 267.7L702.0 268.1L704.3 269.2L706.6 271.4L708.8 273.6L711.1 274.4L713.4 274.1L715.7 273.8L718.0 274.8L720.2 277.7L722.5 281.0L724.8 282.5L727.1 283.3L729.4 284.2L731.6 284.7L733.9 283.8L736.2 281.8L738.5 280.4L740.8 281.8L743.0 284.4L745.3 285.7L747.6 284.9L749.9 284.4L752.2 285.7L754.4 286.6L756.7 287.3L759.0 290.0L761.3 293.8L763.6 296.7L765.8 298.2L768.1 299.1L770.4 301.0L772.7 303.5L775.0 304.7L777.2 304.5L779.5 303.7L781.8 302.8L784.1 301.4L786.4 299.4L788.6 299.5L790.9 301.4L793.2 301.6L795.5 299.7L797.8 298.0L800.0 298.1L802.3 299.8L804.6 301.9L806.9 303.3L809.2 303.8L811.5 304.2L813.7 304.1L816.0 302.6L818.3 299.5L820.6 297.0L822.9 296.5L825.1 296.2L827.4 295.0L829.7 294.9L832.0 296.0L834.3 295.9L836.5 295.1L838.8 294.9L841.1 294.1L843.4 292.4L845.7 291.4L847.9 291.9L850.2 293.0L852.5 294.1L854.8 294.8L857.1 293.9L859.3 293.0L861.6 293.1L863.9 292.5L866.2 290.3L868.5 288.2L870.7 287.1L873.0 286.0L875.3 285.3L877.6 284.9L879.9 283.5L882.1 281.7L884.4 280.6L886.7 279.9L889.0 279.4L891.3 278.0L893.5 275.7L895.8 274.2L898.1 274.0L900.4 274.2L902.7 274.2L904.9 274.4L907.2 274.8L909.5 275.1"/>
<path d="M79.5 271.9L81.8 269.1L84.1 265.5L86.3 263.4L88.6 262.9L90.9 262.9L93.2 262.6L95.5 263.1L97.7 264.0L100.0 263.7L102.3 262.3L104.6 260.6L106.9 258.9L109.1 258.0L111.4 258.6L113.7 259.7L116.0 260.4L118.3 260.2L120.5 258.7L122.8 256.8L125.1 255.2L127.4 253.7L129.7 253.2L131.9 253.7L134.2 254.0L136.5 254.1L138.8 254.7L141.1 254.9L143.3 253.8L145.6 252.3L147.9 250.9L150.2 249.7L152.5 248.8L154.7 247.7L157.0 246.2L159.3 245.0L161.6 243.9L163.9 242.3L166.1 241.3L168.4 241.5L170.7 241.5L173.0 240.5L175.3 238.4L177.5 236.2L179.8 235.0L182.1 235.2L184.4 235.6L186.7 234.9L189.0 232.8L191.2 230.5L193.5 228.8L195.8 227.0L198.1 224.7L200.4 223.4L202.6 223.1L204.9 222.8L207.2 221.5L209.5 219.8L211.8 219.2L214.0 219.2L216.3 218.7L218.6 218.7L220.9 219.4L223.2 220.4L225.4 220.6L227.7 219.8L230.0 218.5L232.3 216.9L234.6 216.5L236.8 217.0L239.1 217.9L241.4 218.4L243.7 217.0L246.0 214.3L248.2 212.7L250.5 212.8L252.8 213.1L255.1 212.1L257.4 210.2L259.6 209.2L261.9 208.9L264.2 208.8L266.5 207.8L268.8 206.8L271.0 207.0L273.3 208.5L275.6 209.4L277.9 209.3L280.2 208.6L282.4 208.0L284.7 208.7L287.0 208.7L289.3 206.1L291.6 202.2L293.8 200.1L296.1 200.2L298.4 199.9L300.7 199.3L303.0 201.0L305.2 204.0L307.5 206.7L309.8 209.8L312.1 212.8L314.4 214.3L316.6 215.2L318.9 218.1L321.2 222.9L323.5 227.6L325.8 231.2L328.0 232.8L330.3 232.9L332.6 233.7L334.9 235.0L337.2 236.3L339.4 238.5L341.7 241.2L344.0 243.2L346.3 244.1L348.6 245.9L350.8 248.5L353.1 250.5L355.4 251.8L357.7 252.9L360.0 253.6L362.2 254.5L364.5 255.6L366.8 256.2L369.1 256.5L371.4 256.6L373.6 256.3L375.9 256.7L378.2 258.8L380.5 262.1L382.8 264.1L385.0 264.5L387.3 264.9L389.6 266.7L391.9 269.5L394.2 271.7L396.5 272.7L398.7 273.1L401.0 274.6L403.3 277.3L405.6 279.6L407.9 280.8L410.1 281.5L412.4 282.5L414.7 283.5L417.0 283.4L419.3 282.8L421.5 283.7L423.8 285.9L426.1 287.4L428.4 286.8L430.7 285.3L432.9 285.6L435.2 287.2L437.5 288.0L439.8 288.3L442.1 289.2L444.3 290.7L446.6 291.6L448.9 291.2L451.2 291.2L453.5 292.5L455.7 293.7L458.0 293.9L460.3 294.7L462.6 296.8L464.9 298.5L467.1 298.8L469.4 298.3L471.7 297.6L474.0 297.8L476.3 299.0L478.5 300.7L480.8 302.3L483.1 303.1L485.4 302.8L487.7 302.2L489.9 302.3L492.2 302.5L494.5 300.9L496.8 297.7L499.1 294.7L501.3 293.1L503.6 291.8L505.9 290.0L508.2 288.7L510.5 288.7L512.7 288.4L515.0 287.1L517.3 285.8L519.6 284.9L521.9 283.7L524.1 281.8L526.4 279.8L528.7 279.2L531.0 279.4L533.3 278.8L535.5 276.7L537.8 273.9L540.1 271.1L542.4 268.8L544.7 267.2L546.9 266.0L549.2 264.1L551.5 262.1L553.8 260.7L556.1 259.7L558.3 258.5L560.6 256.9L562.9 255.8L565.2 255.3L567.5 254.4L569.7 253.5L572.0 253.1L574.3 252.8L576.6 253.2L578.9 254.4L581.1 254.3L583.4 252.3L585.7 249.1L588.0 246.0L590.3 243.6L592.5 241.8L594.8 241.2L597.1 240.5L599.4 238.4L601.7 235.8L604.0 233.5L606.2 232.2L608.5 231.6L610.8 229.9L613.1 227.8L615.4 226.3L617.6 225.6L619.9 226.5L622.2 227.0L624.5 226.8L626.8 226.7L629.0 225.8L631.3 224.8L633.6 225.7L635.9 228.3L638.2 230.4L640.4 230.8L642.7 231.9L645.0 233.5L647.3 234.4L649.6 234.9L651.8 235.3L654.1 235.8L656.4 237.1L658.7 239.4L661.0 241.3L663.2 241.5L665.5 241.1L667.8 242.1L670.1 244.8L672.4 247.6L674.6 249.4L676.9 250.4L679.2 250.7L681.5 250.9L683.8 251.8L686.0 253.9L688.3 255.6L690.6 255.1L692.9 254.5L695.2 256.3L697.4 259.5L699.7 261.2L702.0 260.8L704.3 260.6L706.6 261.9L708.8 264.2L711.1 266.5L713.4 268.2L715.7 268.6L718.0 268.8L720.2 269.4L722.5 269.6L724.8 268.8L727.1 268.4L729.4 268.8L731.6 269.1L733.9 269.2L736.2 270.8L738.5 274.2L740.8 277.4L743.0 278.5L745.3 277.9L747.6 277.4L749.9 277.5L752.2 277.8L754.4 277.4L756.7 277.4L759.0 279.3L761.3 281.6L763.6 282.3L765.8 282.6L768.1 284.3L770.4 286.5L772.7 287.4L775.0 286.9L777.2 285.9L779.5 285.3L781.8 285.9L784.1 287.5L786.4 289.4L788.6 290.2L790.9 289.3L793.2 287.0L795.5 284.9L797.8 283.6L800.0 283.2L802.3 282.5L804.6 279.1L806.9 273.9L809.2 269.4L811.5 266.1L813.7 265.1L816.0 266.2L818.3 267.3L820.6 267.1L822.9 266.7L825.1 267.0L827.4 267.9L829.7 268.1L832.0 267.8L834.3 267.7L836.5 267.6L838.8 267.5L841.1 267.9L843.4 268.4L845.7 269.8L847.9 271.7L850.2 271.6L852.5 269.1L854.8 266.0L857.1 264.7L859.3 264.9L861.6 265.4L863.9 265.5L866.2 265.6L868.5 265.5L870.7 264.8L873.0 264.5L875.3 263.3L877.6 261.7L879.9 260.6L882.1 259.7L884.4 259.4L886.7 259.6L889.0 260.0L891.3 260.6L893.5 260.5L895.8 259.9L898.1 259.0L900.4 257.6L902.7 255.1L904.9 251.9L907.2 250.1L909.5 250.6"/>
<path d="M79.5 275.2L81.8 275.0L84.1 274.0L86.3 271.6L88.6 268.4L90.9 266.4L93.2 266.0L95.5 266.4L97.7 265.5L100.0 264.1L102.3 262.7L104.6 260.8L106.9 258.7L109.1 257.6L111.4 257.5L113.7 257.1L116.0 255.0L118.3 251.5L120.5 247.8L122.8 245.8L125.1 245.9L127.4 245.7L129.7 244.1L131.9 242.6L134.2 242.4L136.5 242.1L138.8 241.5L141.1 241.1L143.3 239.5L145.6 236.6L147.9 233.6L150.2 230.5L152.5 227.0L154.7 224.0L157.0 222.5L159.3 221.6L161.6 220.7L163.9 219.8L166.1 219.5L168.4 219.7L170.7 219.8L173.0 220.1L175.3 221.2L177.5 222.9L179.8 224.7L182.1 226.7L184.4 228.0L186.7 228.3L189.0 228.3L191.2 229.1L193.5 229.8L195.8 229.5L198.1 228.2L200.4 226.7L202.6 225.4L204.9 223.6L207.2 221.0L209.5 219.4L211.8 219.3L214.0 219.7L216.3 219.0L218.6 217.7L220.9 216.2L223.2 214.7L225.4 213.8L227.7 213.8L230.0 214.7L232.3 215.7L234.6 216.8L236.8 217.0L239.1 216.4L241.4 215.9L243.7 215.7L246.0 215.2L248.2 213.5L250.5 211.3L252.8 210.8L255.1 211.7L257.4 212.6L259.6 212.6L261.9 210.8L264.2 209.1L266.5 208.7L268.8 209.0L271.0 209.7L273.3 209.9L275.6 209.4L277.9 208.6L280.2 207.9L282.4 207.5L284.7 208.4L287.0 210.2L289.3 212.1L291.6 214.3L293.8 216.1L296.1 216.8L298.4 216.3L300.7 216.2L303.0 217.8L305.2 220.0L307.5 221.4L309.8 222.4L312.1 223.4L314.4 224.5L316.6 226.7L318.9 229.2L321.2 231.6L323.5 234.4L325.8 237.4L328.0 239.6L330.3 240.4L332.6 241.2L334.9 242.0L337.2 242.0L339.4 241.7L341.7 242.1L344.0 242.7L346.3 243.0L348.6 242.9L350.8 242.7L353.1 242.4L355.4 242.7L357.7 243.1L360.0 243.8L362.2 244.9L364.5 246.1L366.8 247.0L369.1 247.7L371.4 248.5L373.6 249.9L375.9 251.9L378.2 253.9L380.5 255.3L382.8 257.1L385.0 259.6L387.3 261.6L389.6 262.3L391.9 262.8L394.2 263.8L396.5 264.8L398.7 265.5L401.0 265.9L403.3 265.9L405.6 266.0L407.9 266.0L410.1 266.5L412.4 267.0L414.7 266.8L417.0 266.4L419.3 266.8L421.5 268.0L423.8 268.7L426.1 268.8L428.4 268.2L430.7 267.2L432.9 266.9L435.2 267.6L437.5 268.9L439.8 270.0L442.1 270.4L444.3 271.4L446.6 274.3L448.9 278.0L451.2 281.2L453.5 283.5L455.7 285.2L458.0 287.0L460.3 289.2L462.6 290.6L464.9 290.8L467.1 290.0L469.4 288.6L471.7 287.5L474.0 287.4L476.3 287.6L478.5 286.8L480.8 285.9L483.1 285.5L485.4 285.1L487.7 284.1L489.9 282.1L492.2 280.8L494.5 281.9L496.8 283.8L499.1 284.4L501.3 284.1L503.6 284.3L505.9 284.9L508.2 285.2L510.5 285.7L512.7 287.2L515.0 288.7L517.3 288.9L519.6 287.4L521.9 285.4L524.1 283.1L526.4 280.7L528.7 279.2L531.0 279.0L533.3 278.4L535.5 276.5L537.8 273.7L540.1 270.7L542.4 268.0L544.7 265.9L546.9 264.2L549.2 262.7L551.5 262.4L553.8 263.2L556.1 263.4L558.3 262.1L560.6 260.4L562.9 259.7L565.2 259.8L567.5 260.5L569.7 260.8L572.0 260.3L574.3 259.3L576.6 257.6L578.9 254.4L581.1 249.8L583.4 245.7L585.7 243.4L588.0 242.1L590.3 239.8L592.5 236.9L594.8 234.1L597.1 232.4L599.4 231.7L601.7 230.0L604.0 226.7L606.2 224.9L608.5 224.9L610.8 224.0L613.1 222.1L615.4 221.1L617.6 221.5L619.9 221.8L622.2 221.4L624.5 221.0L626.8 220.7L629.0 220.1L631.3 219.3L633.6 218.8L635.9 219.4L638.2 222.8L640.4 226.1L642.7 226.9L645.0 226.9L647.3 227.8L649.6 229.5L651.8 231.0L654.1 231.6L656.4 231.8L658.7 232.0L661.0 232.5L663.2 232.5L665.5 231.7L667.8 230.9L670.1 230.8L672.4 231.8L674.6 232.4L676.9 232.3L679.2 232.4L681.5 234.1L683.8 236.8L686.0 239.3L688.3 240.5L690.6 241.0L692.9 242.1L695.2 243.5L697.4 243.9L699.7 243.6L702.0 243.4L704.3 242.5L706.6 241.2L708.8 241.5L711.1 243.0L713.4 244.4L715.7 246.2L718.0 248.8L720.2 250.4L722.5 250.7L724.8 251.1L727.1 251.6L729.4 251.8L731.6 253.2L733.9 254.7L736.2 255.4L738.5 255.5L740.8 254.6L743.0 253.7L745.3 254.3L747.6 254.7L749.9 253.3L752.2 251.7L754.4 251.9L756.7 253.2L759.0 253.5L761.3 253.4L763.6 255.3L765.8 258.7L768.1 261.2L770.4 262.3L772.7 262.1L775.0 260.7L777.2 260.3L779.5 262.4L781.8 265.1L784.1 266.0L786.4 265.3L788.6 264.3L790.9 265.1L793.2 267.5L795.5 268.6L797.8 267.9L800.0 268.0L802.3 269.3L804.6 270.1L806.9 269.9L809.2 270.0L811.5 271.9L813.7 274.5L816.0 274.4L818.3 272.4L820.6 272.0L822.9 273.1L825.1 274.3L827.4 275.4L829.7 276.4L832.0 277.4L834.3 278.0L836.5 277.7L838.8 276.6L841.1 275.3L843.4 275.1L845.7 276.4L847.9 277.5L850.2 277.2L852.5 276.7L854.8 276.9L857.1 278.0L859.3 279.6L861.6 280.2L863.9 280.3L866.2 280.5L868.5 280.6L870.7 281.2L873.0 282.9L875.3 284.1L877.6 284.4L879.9 284.3L882.1 284.5L884.4 284.8L886.7 284.4L889.0 283.2L891.3 282.2L893.5 282.3L895.8 283.1L898.1 283.5L900.4 283.6L902.7 283.3L904.9 282.8L907.2 282.0L909.5 279.5"/>
<path d="M79.5 231.0C80.9 229.5 84.9 225.2 88.0 222.0C91.1 218.8 94.2 214.5 98.0 211.5C101.8 208.5 106.7 205.4 111.0 204.0C115.3 202.6 120.2 203.3 124.0 203.2C127.8 203.1 130.7 203.1 134.0 203.2C137.3 203.3 141.2 204.0 144.0 204.0C146.8 204.0 147.7 203.6 151.0 203.2C154.3 202.8 159.6 203.2 164.0 201.5C168.4 199.8 173.8 194.0 177.5 193.2C181.2 192.4 183.5 195.0 186.0 196.5C188.5 198.0 189.7 202.3 192.4 202.3C195.1 202.3 199.4 198.3 202.4 196.5C205.4 194.7 208.5 191.9 210.7 191.6C212.9 191.3 213.7 195.7 215.6 194.9C217.5 194.1 219.8 190.2 222.3 186.6C224.8 183.0 228.2 175.1 230.6 173.3C233.0 171.5 234.4 175.1 237.0 175.8C239.6 176.5 243.5 177.9 246.0 177.6C248.5 177.3 249.5 175.5 252.0 174.0C254.5 172.5 257.5 170.4 260.8 168.4C264.1 166.4 267.7 163.7 272.0 162.0C276.3 160.3 282.8 158.5 286.6 158.3C290.4 158.1 292.2 160.1 295.0 161.0C297.8 161.9 299.8 162.6 303.1 163.8C306.4 165.0 310.7 166.6 315.0 168.0C319.3 169.4 324.7 170.8 328.9 172.1C333.1 173.4 336.5 174.2 340.0 175.8C343.5 177.5 347.0 180.3 350.0 182.0C353.0 183.7 354.7 185.2 357.9 186.2C361.1 187.2 365.2 187.2 369.0 188.0C372.8 188.8 377.1 189.8 380.8 191.3C384.5 192.8 387.6 195.3 391.0 197.0C394.4 198.7 396.9 200.0 401.1 201.4C405.3 202.8 411.2 205.2 416.3 205.2C421.4 205.2 426.9 202.7 431.6 201.4C436.3 200.1 440.1 198.2 444.3 197.6C448.5 197.0 452.4 197.8 457.0 197.6C461.6 197.4 468.0 196.5 472.2 196.3C476.4 196.1 479.0 197.1 482.4 196.3C485.8 195.5 489.1 193.8 492.5 191.3C495.9 188.8 499.3 183.7 502.7 181.1C506.1 178.5 509.4 177.5 512.8 176.0C516.2 174.5 519.6 173.8 523.0 172.2C526.4 170.6 529.0 167.5 533.2 166.4C537.4 165.3 543.3 165.9 548.4 165.4C553.5 164.9 559.4 164.1 563.6 163.3C567.8 162.5 571.1 161.0 573.8 160.8C576.5 160.6 576.9 162.8 580.0 162.0C583.1 161.2 588.9 157.4 592.7 155.7C596.5 154.0 599.5 153.1 602.9 151.9C606.3 150.7 609.6 148.4 613.0 148.6C616.4 148.8 619.8 151.0 623.2 153.2C626.6 155.4 629.1 161.4 633.3 162.0C637.5 162.6 644.4 156.6 648.6 157.0C652.8 157.4 655.8 161.6 658.7 164.6C661.7 167.6 663.3 172.7 666.3 174.8C669.3 176.9 673.1 175.8 676.5 177.3C679.9 178.8 683.3 181.9 686.7 183.6C690.1 185.3 694.3 185.8 696.8 187.5C699.3 189.2 699.4 191.1 701.9 193.8C704.4 196.6 708.6 202.7 712.0 204.0C715.4 205.3 718.4 202.9 722.2 201.4C726.0 199.9 730.7 194.7 734.9 195.1C739.1 195.5 743.8 201.1 747.6 204.0C751.4 206.9 754.1 211.1 757.8 212.8C761.5 214.5 766.2 214.5 769.6 214.3C773.0 214.2 775.2 211.3 778.0 211.9C780.8 212.5 783.3 215.7 786.3 217.9C789.3 220.1 792.7 224.6 795.9 225.0C799.1 225.4 801.9 221.9 805.5 220.3C809.1 218.7 813.8 216.9 817.4 215.5C821.0 214.1 824.0 212.9 827.0 211.9C830.0 210.9 832.2 209.1 835.4 209.5C838.6 209.9 842.8 214.1 846.2 214.3C849.6 214.5 852.5 209.9 855.7 210.7C858.9 211.5 862.5 219.5 865.3 219.1C868.1 218.7 870.1 210.9 872.5 208.3C874.9 205.7 876.9 205.3 879.7 203.5C882.5 201.7 886.0 199.5 889.2 197.5C892.4 195.5 896.0 193.3 898.8 191.5C901.6 189.7 904.2 188.1 906.0 186.8C907.8 185.6 908.9 184.5 909.5 184.0" stroke="#b4b4b4" stroke-width="0.8"/>
<path d="M79.5 181.1C80.5 178.8 83.3 170.5 85.6 167.1C87.9 163.7 90.2 162.6 93.2 160.8C96.2 159.0 100.4 156.7 103.4 156.5C106.4 156.3 108.7 158.2 111.0 159.5C113.3 160.8 115.3 164.2 117.4 164.6C119.5 165.0 121.4 161.7 123.7 162.1C126.0 162.5 128.8 166.0 131.3 167.1C133.9 168.2 136.7 169.5 139.0 168.9C141.3 168.3 143.4 167.0 145.3 163.3C147.2 159.6 148.1 149.4 150.4 146.8C152.7 144.2 156.4 147.8 159.3 147.6C162.2 147.4 165.6 144.3 168.1 145.6C170.6 146.9 172.2 153.5 174.5 155.2C176.8 156.9 179.6 156.0 182.1 155.7C184.6 155.4 187.2 154.7 189.7 153.2C192.2 151.7 194.8 148.3 197.3 146.8C199.9 145.3 202.0 146.7 205.0 144.3C208.0 141.9 211.7 133.8 215.1 132.3C218.5 130.8 221.9 134.5 225.3 135.4C228.7 136.3 232.0 136.9 235.4 137.9C238.8 138.9 242.2 140.8 245.6 141.7C249.0 142.5 252.4 143.4 255.8 143.0C259.2 142.6 262.5 140.1 265.9 139.2C269.3 138.3 272.9 137.9 276.1 137.4C279.3 136.9 282.9 135.7 285.0 136.0C287.1 136.3 286.1 139.5 288.7 139.4C291.3 139.3 297.7 135.2 300.5 135.3C303.3 135.4 304.0 138.2 305.6 139.7C307.2 141.2 307.9 144.1 310.0 144.5C312.1 144.9 314.9 143.4 318.1 141.9C321.3 140.4 325.7 137.0 329.2 135.3C332.7 133.6 335.8 130.9 338.9 131.6C342.0 132.2 345.1 136.2 347.8 139.2C350.6 142.2 352.9 147.3 355.4 149.4C357.9 151.5 360.5 150.4 363.0 151.9C365.5 153.4 368.1 155.7 370.6 158.2C373.1 160.7 375.6 164.3 378.2 167.1C380.8 169.9 382.9 172.7 385.9 174.8C388.9 176.9 392.6 178.8 396.0 179.8C399.4 180.9 402.8 181.0 406.2 181.1C409.6 181.2 413.3 180.5 416.3 180.6C419.3 180.7 421.4 181.1 424.0 181.6C426.6 182.1 429.1 182.8 431.6 183.6C434.1 184.4 436.2 185.8 439.2 186.2C442.1 186.5 445.5 186.5 449.3 185.7C453.1 184.9 458.2 181.3 462.0 181.6C465.8 181.9 468.8 185.9 472.2 187.5C475.6 189.1 479.0 190.9 482.4 191.3C485.8 191.7 489.6 191.5 492.5 190.0C495.4 188.5 497.6 184.3 500.1 182.4C502.7 180.5 504.8 179.9 507.8 178.6C510.8 177.3 514.5 175.2 517.9 174.8C521.3 174.5 524.7 176.1 528.1 176.5C531.5 176.9 534.8 176.8 538.2 177.3C541.6 177.9 545.0 179.7 548.4 179.8C551.8 179.9 555.1 178.8 558.5 178.0C561.9 177.2 565.1 175.6 568.7 174.8C572.3 174.1 576.0 173.9 580.0 173.5C584.0 173.1 588.5 171.7 592.7 172.2C596.9 172.7 601.6 175.2 605.4 176.5C609.2 177.8 611.4 179.0 615.6 179.8C619.8 180.6 625.7 181.1 630.8 181.1C635.9 181.1 641.4 177.9 646.0 179.8C650.6 181.7 655.3 191.2 658.7 192.5C662.1 193.8 662.5 188.6 666.3 187.5C670.1 186.4 676.9 186.0 681.6 186.2C686.3 186.4 691.3 187.8 694.3 188.7C697.2 189.5 696.8 189.2 699.3 191.3C701.8 193.4 705.7 198.9 709.5 201.4C713.3 203.9 718.4 204.8 722.2 206.5C726.0 208.2 728.6 209.1 732.4 211.6C736.2 214.1 740.9 218.8 745.1 221.7C749.3 224.6 753.9 228.6 757.8 229.3C761.7 230.1 765.2 225.7 768.4 226.2C771.6 226.7 774.2 230.0 776.8 232.2C779.4 234.4 781.1 236.8 783.9 239.4C786.7 242.0 790.3 247.2 793.5 247.8C796.7 248.4 799.9 243.6 803.1 243.0C806.3 242.4 809.5 245.6 812.7 244.2C815.9 242.8 819.4 235.0 822.2 234.6C825.0 234.2 826.6 239.8 829.4 241.8C832.2 243.8 835.4 246.2 839.0 246.6C842.6 247.0 846.6 245.6 851.0 244.2C855.4 242.8 861.3 238.6 865.3 238.2C869.3 237.8 871.7 241.0 874.9 241.8C878.1 242.6 881.3 242.6 884.5 243.0C887.7 243.4 890.8 244.8 894.0 244.2C897.2 243.6 901.0 242.1 903.6 239.4C906.2 236.7 908.5 229.9 909.5 228.0" stroke="#c0c0c0" stroke-width="0.8"/>
</g>
<path d="M79.5 339.0C81.5 338.0 87.5 334.9 91.8 332.9C96.1 330.9 101.0 328.9 105.6 326.8C110.2 324.7 114.8 322.6 119.4 320.5C124.0 318.4 128.7 316.4 133.3 314.1C137.9 311.8 142.5 309.0 147.1 306.6C151.7 304.2 156.3 302.2 160.9 299.7C165.5 297.2 170.1 293.9 174.7 291.4C179.3 288.9 183.9 286.6 188.5 284.5C193.1 282.4 197.7 280.1 202.3 279.0C206.9 277.9 211.6 277.8 216.2 277.6C220.8 277.4 225.4 278.2 230.0 277.6C234.6 277.1 239.2 275.7 243.8 274.3C248.4 272.9 253.0 270.0 257.6 269.3C262.2 268.6 266.8 269.5 271.4 269.9C276.0 270.3 280.6 270.8 285.2 271.6C289.8 272.4 294.5 273.7 299.1 274.9C303.7 276.1 308.3 277.7 312.9 279.0C317.5 280.3 322.8 281.7 326.7 282.6C330.6 283.5 333.5 283.7 336.4 284.5C339.2 285.3 340.3 286.1 343.8 287.3C347.3 288.6 353.0 290.3 357.6 292.0C362.2 293.7 366.8 296.0 371.4 297.5C376.0 299.0 380.7 299.9 385.3 301.1C389.9 302.3 394.5 303.3 399.1 304.7C403.7 306.1 408.3 307.7 412.9 309.4C417.5 311.1 422.1 313.1 426.7 315.0C431.3 316.9 436.8 319.3 440.5 320.5C444.2 321.7 445.1 322.3 448.8 322.4C452.5 322.5 458.0 321.6 462.6 321.3C467.2 321.0 471.8 320.9 476.4 320.7C481.0 320.5 485.7 320.2 490.3 319.9C494.9 319.6 499.5 319.5 504.1 319.1C508.7 318.7 513.3 318.2 517.9 317.7C522.5 317.2 527.1 316.9 531.7 316.3C536.3 315.7 541.4 315.4 545.5 314.1C549.6 312.8 553.4 309.9 556.6 308.6C559.8 307.4 561.2 307.2 564.9 306.6C568.6 306.1 574.6 306.0 578.7 305.3C582.8 304.6 587.2 303.1 589.7 302.5C592.2 301.9 590.8 302.0 593.8 302.0C596.8 302.0 603.0 302.5 607.6 302.5C612.2 302.5 616.8 302.0 621.4 302.0C626.0 302.0 631.6 301.9 635.3 302.5C639.0 303.1 639.9 303.4 643.6 305.3C647.3 307.2 652.8 311.1 657.4 313.6C662.0 316.1 666.6 318.8 671.2 320.5C675.8 322.2 680.4 322.3 685.0 324.0C689.6 325.7 694.2 328.3 698.8 330.7C703.4 333.1 708.0 336.2 712.6 338.4C717.2 340.6 721.8 342.5 726.4 344.0C731.0 345.5 735.2 346.2 740.3 347.3C745.4 348.4 752.2 349.5 756.8 350.9C761.4 352.3 764.2 354.0 767.9 355.6C771.6 357.2 774.8 359.6 778.9 360.5C783.0 361.4 788.2 361.0 792.8 361.1C797.4 361.2 802.0 361.4 806.6 361.1C811.2 360.8 815.4 359.5 820.4 359.1C825.4 358.8 831.3 359.9 836.7 359.0C842.1 358.1 847.4 355.2 852.8 353.8C858.2 352.4 863.6 351.9 869.0 350.5C874.4 349.1 880.5 347.5 885.2 345.7C889.9 343.9 893.4 340.8 897.4 339.6C901.4 338.4 907.5 338.6 909.5 338.4" fill="none" stroke="#fff" stroke-opacity="0.85" stroke-width="4.5" stroke-dasharray="13.3 6"/>
<path d="M79.5 339.0C81.5 338.0 87.5 334.9 91.8 332.9C96.1 330.9 101.0 328.9 105.6 326.8C110.2 324.7 114.8 322.6 119.4 320.5C124.0 318.4 128.7 316.4 133.3 314.1C137.9 311.8 142.5 309.0 147.1 306.6C151.7 304.2 156.3 302.2 160.9 299.7C165.5 297.2 170.1 293.9 174.7 291.4C179.3 288.9 183.9 286.6 188.5 284.5C193.1 282.4 197.7 280.1 202.3 279.0C206.9 277.9 211.6 277.8 216.2 277.6C220.8 277.4 225.4 278.2 230.0 277.6C234.6 277.1 239.2 275.7 243.8 274.3C248.4 272.9 253.0 270.0 257.6 269.3C262.2 268.6 266.8 269.5 271.4 269.9C276.0 270.3 280.6 270.8 285.2 271.6C289.8 272.4 294.5 273.7 299.1 274.9C303.7 276.1 308.3 277.7 312.9 279.0C317.5 280.3 322.8 281.7 326.7 282.6C330.6 283.5 333.5 283.7 336.4 284.5C339.2 285.3 340.3 286.1 343.8 287.3C347.3 288.6 353.0 290.3 357.6 292.0C362.2 293.7 366.8 296.0 371.4 297.5C376.0 299.0 380.7 299.9 385.3 301.1C389.9 302.3 394.5 303.3 399.1 304.7C403.7 306.1 408.3 307.7 412.9 309.4C417.5 311.1 422.1 313.1 426.7 315.0C431.3 316.9 436.8 319.3 440.5 320.5C444.2 321.7 445.1 322.3 448.8 322.4C452.5 322.5 458.0 321.6 462.6 321.3C467.2 321.0 471.8 320.9 476.4 320.7C481.0 320.5 485.7 320.2 490.3 319.9C494.9 319.6 499.5 319.5 504.1 319.1C508.7 318.7 513.3 318.2 517.9 317.7C522.5 317.2 527.1 316.9 531.7 316.3C536.3 315.7 541.4 315.4 545.5 314.1C549.6 312.8 553.4 309.9 556.6 308.6C559.8 307.4 561.2 307.2 564.9 306.6C568.6 306.1 574.6 306.0 578.7 305.3C582.8 304.6 587.2 303.1 589.7 302.5C592.2 301.9 590.8 302.0 593.8 302.0C596.8 302.0 603.0 302.5 607.6 302.5C612.2 302.5 616.8 302.0 621.4 302.0C626.0 302.0 631.6 301.9 635.3 302.5C639.0 303.1 639.9 303.4 643.6 305.3C647.3 307.2 652.8 311.1 657.4 313.6C662.0 316.1 666.6 318.8 671.2 320.5C675.8 322.2 680.4 322.3 685.0 324.0C689.6 325.7 694.2 328.3 698.8 330.7C703.4 333.1 708.0 336.2 712.6 338.4C717.2 340.6 721.8 342.5 726.4 344.0C731.0 345.5 735.2 346.2 740.3 347.3C745.4 348.4 752.2 349.5 756.8 350.9C761.4 352.3 764.2 354.0 767.9 355.6C771.6 357.2 774.8 359.6 778.9 360.5C783.0 361.4 788.2 361.0 792.8 361.1C797.4 361.2 802.0 361.4 806.6 361.1C811.2 360.8 815.4 359.5 820.4 359.1C825.4 358.8 831.3 359.9 836.7 359.0C842.1 358.1 847.4 355.2 852.8 353.8C858.2 352.4 863.6 351.9 869.0 350.5C874.4 349.1 880.5 347.5 885.2 345.7C889.9 343.9 893.4 340.8 897.4 339.6C901.4 338.4 907.5 338.6 909.5 338.4" fill="none" stroke="#2a2a2a" stroke-width="1.9" stroke-dasharray="13.3 6"/>
<path d="M79.5 373.0C81.1 371.4 84.7 365.8 89.0 363.3C93.3 360.8 100.5 359.7 105.6 357.8C110.7 355.9 114.8 354.3 119.4 352.2C124.0 350.1 128.7 347.8 133.3 345.3C137.9 342.8 142.5 339.8 147.1 337.0C151.7 334.2 156.3 331.3 160.9 328.8C165.5 326.3 170.1 323.7 174.7 321.8C179.3 319.9 183.9 319.2 188.5 317.7C193.1 316.2 197.7 314.1 202.3 313.0C206.9 311.9 211.6 311.6 216.2 311.3C220.8 311.0 225.4 312.1 230.0 311.3C234.6 310.5 239.2 308.2 243.8 306.6C248.4 305.1 253.0 302.4 257.6 302.0C262.2 301.6 266.8 302.9 271.4 303.9C276.0 304.9 280.6 306.9 285.2 308.0C289.8 309.1 294.5 309.8 299.1 310.8C303.7 311.8 308.3 313.0 312.9 314.1C317.5 315.2 322.8 316.6 326.7 317.7C330.6 318.8 333.5 319.4 336.4 320.5C339.2 321.6 340.3 322.6 343.8 324.0C347.3 325.4 353.0 327.3 357.6 328.8C362.2 330.3 366.8 331.7 371.4 332.9C376.0 334.1 380.7 335.2 385.3 336.2C389.9 337.2 394.5 337.9 399.1 339.0C403.7 340.1 408.3 340.9 412.9 342.6C417.5 344.4 422.1 347.5 426.7 349.5C431.3 351.5 435.9 353.3 440.5 354.4C445.1 355.4 449.7 355.4 454.3 355.8C458.9 356.2 463.6 356.7 468.2 356.9C472.8 357.1 477.4 356.8 482.0 356.9C486.6 356.9 491.2 357.0 495.8 357.2C500.4 357.4 505.0 358.2 509.6 357.8C514.2 357.4 518.8 356.0 523.4 355.0C528.0 354.0 532.6 353.0 537.2 351.7C541.8 350.4 546.5 348.1 551.1 347.3C555.7 346.5 560.3 347.2 564.9 346.7C569.5 346.2 573.9 345.5 578.7 344.5C583.5 343.5 589.0 341.2 593.8 340.6C598.6 340.1 603.0 341.3 607.6 341.2C612.2 341.1 616.8 340.0 621.4 339.8C626.0 339.6 630.7 338.9 635.3 339.8C639.9 340.7 644.5 343.5 649.1 345.3C653.7 347.1 658.3 349.0 662.9 350.9C667.5 352.8 672.1 354.8 676.7 356.4C681.3 358.0 685.9 358.7 690.5 360.5C695.1 362.3 699.7 365.3 704.3 367.4C708.9 369.5 713.6 370.9 718.2 373.0C722.8 375.1 727.4 378.3 732.0 379.9C736.6 381.5 741.2 381.6 745.8 382.6C750.4 383.6 755.0 384.3 759.6 385.9C764.2 387.5 768.8 390.9 773.4 392.3C778.0 393.7 782.6 393.6 787.2 394.2C791.8 394.8 796.5 395.3 801.1 395.9C805.7 396.5 810.3 397.9 814.9 397.8C819.5 397.8 823.7 396.9 828.7 395.6C833.7 394.3 839.3 391.6 844.7 390.2C850.1 388.8 855.5 388.2 860.9 387.0C866.3 385.8 871.7 384.7 877.1 382.9C882.5 381.1 887.9 377.8 893.3 376.0C898.7 374.2 906.8 372.7 909.5 372.0" fill="none" stroke="#fff" stroke-opacity="0.85" stroke-width="4.5" stroke-dasharray="7 5.5"/>
<path d="M79.5 373.0C81.1 371.4 84.7 365.8 89.0 363.3C93.3 360.8 100.5 359.7 105.6 357.8C110.7 355.9 114.8 354.3 119.4 352.2C124.0 350.1 128.7 347.8 133.3 345.3C137.9 342.8 142.5 339.8 147.1 337.0C151.7 334.2 156.3 331.3 160.9 328.8C165.5 326.3 170.1 323.7 174.7 321.8C179.3 319.9 183.9 319.2 188.5 317.7C193.1 316.2 197.7 314.1 202.3 313.0C206.9 311.9 211.6 311.6 216.2 311.3C220.8 311.0 225.4 312.1 230.0 311.3C234.6 310.5 239.2 308.2 243.8 306.6C248.4 305.1 253.0 302.4 257.6 302.0C262.2 301.6 266.8 302.9 271.4 303.9C276.0 304.9 280.6 306.9 285.2 308.0C289.8 309.1 294.5 309.8 299.1 310.8C303.7 311.8 308.3 313.0 312.9 314.1C317.5 315.2 322.8 316.6 326.7 317.7C330.6 318.8 333.5 319.4 336.4 320.5C339.2 321.6 340.3 322.6 343.8 324.0C347.3 325.4 353.0 327.3 357.6 328.8C362.2 330.3 366.8 331.7 371.4 332.9C376.0 334.1 380.7 335.2 385.3 336.2C389.9 337.2 394.5 337.9 399.1 339.0C403.7 340.1 408.3 340.9 412.9 342.6C417.5 344.4 422.1 347.5 426.7 349.5C431.3 351.5 435.9 353.3 440.5 354.4C445.1 355.4 449.7 355.4 454.3 355.8C458.9 356.2 463.6 356.7 468.2 356.9C472.8 357.1 477.4 356.8 482.0 356.9C486.6 356.9 491.2 357.0 495.8 357.2C500.4 357.4 505.0 358.2 509.6 357.8C514.2 357.4 518.8 356.0 523.4 355.0C528.0 354.0 532.6 353.0 537.2 351.7C541.8 350.4 546.5 348.1 551.1 347.3C555.7 346.5 560.3 347.2 564.9 346.7C569.5 346.2 573.9 345.5 578.7 344.5C583.5 343.5 589.0 341.2 593.8 340.6C598.6 340.1 603.0 341.3 607.6 341.2C612.2 341.1 616.8 340.0 621.4 339.8C626.0 339.6 630.7 338.9 635.3 339.8C639.9 340.7 644.5 343.5 649.1 345.3C653.7 347.1 658.3 349.0 662.9 350.9C667.5 352.8 672.1 354.8 676.7 356.4C681.3 358.0 685.9 358.7 690.5 360.5C695.1 362.3 699.7 365.3 704.3 367.4C708.9 369.5 713.6 370.9 718.2 373.0C722.8 375.1 727.4 378.3 732.0 379.9C736.6 381.5 741.2 381.6 745.8 382.6C750.4 383.6 755.0 384.3 759.6 385.9C764.2 387.5 768.8 390.9 773.4 392.3C778.0 393.7 782.6 393.6 787.2 394.2C791.8 394.8 796.5 395.3 801.1 395.9C805.7 396.5 810.3 397.9 814.9 397.8C819.5 397.8 823.7 396.9 828.7 395.6C833.7 394.3 839.3 391.6 844.7 390.2C850.1 388.8 855.5 388.2 860.9 387.0C866.3 385.8 871.7 384.7 877.1 382.9C882.5 381.1 887.9 377.8 893.3 376.0C898.7 374.2 906.8 372.7 909.5 372.0" fill="none" stroke="#2a2a2a" stroke-width="1.9" stroke-dasharray="7 5.5"/>
<path d="M80.0 224.1C80.7 222.2 82.8 215.9 84.1 213.0C85.4 210.1 86.6 208.6 88.1 206.9C89.6 205.2 91.5 203.4 93.2 202.8C94.9 202.2 96.6 202.9 98.3 203.2C100.0 203.5 101.6 204.6 103.3 204.5C105.0 204.4 106.5 202.5 108.4 202.4C110.3 202.3 112.5 204.7 114.5 203.9C116.5 203.1 118.6 199.1 120.6 197.8C122.6 196.6 124.7 197.2 126.7 196.4C128.7 195.6 130.7 193.9 132.7 193.1C134.7 192.3 136.8 192.6 138.8 191.7C140.8 190.8 142.9 188.9 144.9 187.6C146.9 186.2 148.6 185.1 151.0 183.6C153.4 182.1 156.7 179.8 159.1 178.5C161.5 177.2 162.8 176.4 165.2 175.5C167.6 174.6 170.9 173.4 173.3 172.8C175.7 172.2 177.4 172.9 179.4 172.0C181.4 171.1 183.4 168.4 185.4 167.4C187.4 166.4 189.5 166.6 191.5 166.0C193.5 165.4 195.1 164.3 197.3 163.9C199.5 163.5 202.7 163.8 204.6 163.6C206.5 163.4 207.7 163.2 209.0 162.5C210.3 161.8 211.0 159.6 212.7 159.5C214.4 159.4 217.0 161.2 219.3 161.7C221.6 162.2 224.4 162.6 226.6 162.5C228.8 162.4 230.3 161.0 232.5 161.0C234.7 161.0 237.6 162.9 239.8 162.5C242.0 162.1 244.0 158.9 245.7 158.8C247.4 158.7 248.6 160.6 250.1 161.7C251.6 162.8 252.8 164.8 254.5 165.4C256.2 166.0 258.4 165.7 260.3 165.4C262.2 165.2 264.0 164.5 266.2 163.9C268.4 163.3 271.3 161.6 273.5 161.7C275.7 161.8 277.4 163.7 279.4 164.7C281.3 165.7 283.0 166.5 285.2 167.6C287.4 168.7 290.3 170.7 292.5 171.3C294.7 171.9 296.4 171.6 298.4 171.3C300.4 171.0 302.6 169.5 304.3 169.5C306.0 169.5 307.2 170.0 308.6 171.3C310.1 172.6 311.5 175.4 313.0 177.1C314.5 178.8 316.2 180.3 317.4 181.5C318.6 182.7 319.0 183.6 320.0 184.1C321.0 184.6 322.0 184.2 323.3 184.5C324.6 184.8 326.0 186.4 327.7 185.9C329.4 185.4 331.9 182.4 333.6 181.5C335.3 180.6 336.4 180.4 338.0 180.3C339.6 180.2 340.5 180.6 343.4 181.0C346.3 181.4 351.3 181.7 355.2 182.7C359.1 183.7 363.0 185.2 366.9 186.9C370.8 188.6 374.7 190.8 378.6 192.7C382.5 194.6 387.6 197.1 390.3 198.6C393.0 200.1 393.1 201.1 395.0 201.4C396.9 201.7 399.7 200.0 402.0 200.5C404.3 201.0 406.6 202.6 409.0 204.4C411.4 206.2 413.8 209.2 416.1 211.5C418.5 213.8 420.8 216.2 423.1 218.5C425.5 220.8 427.9 224.4 430.2 225.5C432.5 226.6 434.9 225.4 437.2 224.8C439.5 224.2 441.5 223.3 444.2 222.0C446.9 220.7 450.9 218.1 453.6 216.9C456.3 215.7 458.5 215.6 460.6 215.0C462.8 214.4 464.1 212.1 466.5 213.1C468.9 214.1 471.8 220.4 474.7 220.9C477.6 221.4 480.9 217.8 484.0 216.2C487.1 214.6 489.9 213.2 493.4 211.5C496.9 209.8 501.6 207.0 505.1 206.1C508.6 205.2 511.0 207.3 514.5 206.1C518.0 204.8 522.7 200.2 526.2 198.6C529.7 196.9 532.7 197.4 535.6 196.2C538.5 194.9 540.8 191.7 543.8 191.1C546.8 190.5 550.8 191.6 553.5 192.5C556.2 193.4 558.3 194.4 559.8 196.3C561.3 198.2 561.2 202.5 562.3 204.0C563.4 205.5 564.3 206.0 566.2 205.2C568.1 204.3 571.4 201.0 573.8 198.9C576.2 196.8 577.5 195.1 580.4 192.5C583.3 189.9 588.2 184.9 591.4 183.6C594.6 182.3 596.9 183.7 599.7 184.7C602.5 185.7 605.7 188.8 608.0 189.7C610.3 190.6 611.9 191.3 613.5 190.3C615.1 189.3 616.1 183.9 617.7 183.6C619.3 183.3 621.1 184.8 623.2 188.3C625.3 191.9 627.6 201.5 630.1 204.9C632.6 208.3 635.6 208.3 638.4 208.5C641.2 208.7 644.0 207.4 646.7 206.3C649.5 205.2 652.6 202.2 654.9 202.1C657.2 202.0 657.7 203.8 660.5 205.7C663.3 207.5 668.6 212.4 671.5 213.2C674.4 214.0 675.3 208.1 677.6 210.4C679.9 212.7 682.6 224.0 685.3 227.0C688.0 230.0 690.8 229.2 693.6 228.4C696.4 227.6 699.4 221.9 701.9 222.3C704.4 222.8 706.5 228.0 708.8 231.1C711.1 234.2 712.7 239.1 715.7 240.8C718.7 242.6 723.9 241.5 726.7 241.6C729.5 241.7 729.5 239.7 732.3 241.6C735.1 243.5 739.6 249.6 743.3 253.2C747.0 256.8 751.6 260.8 754.4 262.9C757.2 265.0 757.5 264.8 760.0 265.7C762.5 266.6 766.4 266.3 769.6 268.1C772.8 269.9 775.5 274.5 779.1 276.5C782.7 278.5 787.5 278.1 791.1 280.1C794.7 282.1 797.1 287.2 800.7 288.5C804.3 289.8 809.5 288.4 812.7 287.8C815.9 287.2 817.0 287.2 819.8 284.9C822.6 282.6 826.2 276.5 829.4 274.1C832.6 271.7 835.8 270.9 839.0 270.5C842.2 270.1 845.4 272.4 848.6 271.7C851.8 271.0 854.9 266.4 858.1 266.2C861.3 266.0 864.5 268.7 867.7 270.5C870.9 272.3 874.1 277.6 877.3 277.2C880.5 276.8 884.1 271.2 886.9 268.1C889.7 265.0 891.6 261.6 894.0 258.6C896.4 255.6 899.0 252.5 901.2 250.2C903.4 247.9 905.8 245.9 907.2 244.7C908.6 243.5 909.1 243.3 909.5 243.0" fill="none" stroke="#dc9a48" stroke-width="1.6" stroke-linejoin="round"/>
<path d="M80.0 239.3C81.0 238.3 84.1 235.1 86.1 233.2C88.1 231.2 90.2 228.3 92.2 227.6C94.2 226.9 96.3 230.1 98.3 229.2C100.3 228.3 102.2 224.3 104.4 222.1C106.6 219.9 108.9 217.5 111.4 216.0C113.9 214.5 116.7 212.9 119.6 213.0C122.5 213.1 126.2 217.1 128.7 216.6C131.2 216.1 132.4 212.2 134.8 209.9C137.2 207.6 140.4 205.3 142.9 202.8C145.4 200.3 148.0 196.3 150.0 194.7C152.0 193.1 152.8 194.2 155.0 193.1C157.2 192.0 160.4 189.9 163.1 188.2C165.8 186.5 168.8 184.4 171.2 183.0C173.6 181.6 175.4 180.1 177.3 179.5C179.2 178.9 180.7 179.3 182.4 179.5C184.1 179.7 186.0 181.7 187.5 180.5C189.0 179.3 190.3 174.7 191.5 172.4C192.7 170.1 193.2 169.3 194.4 166.9C195.6 164.5 197.7 160.1 198.8 158.1C199.9 156.1 200.0 155.9 201.0 155.2C202.0 154.5 203.6 154.0 204.6 153.7C205.6 153.4 205.9 152.7 206.8 153.4C207.7 154.1 208.8 157.1 209.8 158.1C210.8 159.1 211.6 159.4 212.7 159.3C213.8 159.2 215.1 158.1 216.4 157.4C217.8 156.7 219.1 155.4 220.8 154.9C222.5 154.4 224.7 154.4 226.6 154.4C228.5 154.4 230.8 155.0 232.5 154.9C234.2 154.8 235.4 154.4 236.9 154.0C238.4 153.6 239.8 153.0 241.3 152.2C242.8 151.4 244.2 150.5 245.7 149.3C247.2 148.1 248.8 145.9 250.1 144.9C251.4 143.9 252.5 143.1 253.7 143.1C254.9 143.1 256.2 144.2 257.4 144.9C258.6 145.6 259.5 147.8 261.0 147.5C262.5 147.2 264.4 144.0 266.2 143.4C268.0 142.8 270.3 143.8 272.0 144.2C273.7 144.6 275.0 145.0 276.4 145.6C277.8 146.2 278.9 147.6 280.1 147.8C281.3 148.0 282.4 146.7 283.7 146.7C285.0 146.7 286.4 147.7 288.1 147.8C289.8 148.0 292.9 147.6 293.8 147.6" fill="none" stroke="#8b0a12" stroke-width="3" stroke-linejoin="round" stroke-linecap="round"/>
<circle cx="295.7" cy="152.8" r="1.5" fill="#7a0a10"/>
<circle cx="297.4" cy="156.7" r="1.5" fill="#7a0a10"/>
<circle cx="299.7" cy="154.5" r="1.5" fill="#7a0a10"/>
<circle cx="300.8" cy="155.9" r="1.5" fill="#7a0a10"/>
<circle cx="302.3" cy="157.4" r="1.5" fill="#7a0a10"/>
<circle cx="304.5" cy="158.5" r="1.5" fill="#7a0a10"/>
<circle cx="307.1" cy="157.4" r="1.5" fill="#7a0a10"/>
<circle cx="308.9" cy="152.8" r="1.5" fill="#7a0a10"/>
<circle cx="311.5" cy="147.7" r="1.5" fill="#7a0a10"/>
<circle cx="315.9" cy="144.9" r="1.5" fill="#7a0a10"/>
<circle cx="313.2" cy="136" r="1.5" fill="#7a0a10"/>
<circle cx="317.9" cy="134.2" r="1.5" fill="#7a0a10"/>
<circle cx="320.3" cy="138.8" r="1.5" fill="#7a0a10"/>
<circle cx="322.2" cy="138.6" r="1.5" fill="#7a0a10"/>
<circle cx="324.8" cy="137.9" r="1.5" fill="#7a0a10"/>
<rect x="79.5" y="57.5" width="830.0" height="449.0" fill="none" stroke="#b4b4b4" stroke-width="1"/>
<text x="66.3" y="63.0" font-family="Liberation Sans, Arial, sans-serif" stroke="#2a2a2a" stroke-width="0.35" font-size="14" fill="#333" text-anchor="end">21.5</text>
<text x="66.3" y="175.2" font-family="Liberation Sans, Arial, sans-serif" stroke="#2a2a2a" stroke-width="0.35" font-size="14" fill="#333" text-anchor="end">21</text>
<text x="66.3" y="287.5" font-family="Liberation Sans, Arial, sans-serif" stroke="#2a2a2a" stroke-width="0.35" font-size="14" fill="#333" text-anchor="end">20.5</text>
<text x="66.3" y="399.8" font-family="Liberation Sans, Arial, sans-serif" stroke="#2a2a2a" stroke-width="0.35" font-size="14" fill="#333" text-anchor="end">20</text>
<text x="66.3" y="512.0" font-family="Liberation Sans, Arial, sans-serif" stroke="#2a2a2a" stroke-width="0.35" font-size="14" fill="#333" text-anchor="end">19.5</text>
<text transform="translate(26,281.6) rotate(-90)" font-family="Liberation Sans, Arial, sans-serif" stroke="#2a2a2a" stroke-width="0.35" font-size="18.5" fill="#333" text-anchor="middle">Temperature (°C)</text>
<text x="114.7" y="526.8" font-family="Liberation Sans, Arial, sans-serif" stroke="#2a2a2a" stroke-width="0.35" font-size="14" fill="#333" text-anchor="middle">Jan</text>
<text x="186.1" y="526.8" font-family="Liberation Sans, Arial, sans-serif" stroke="#2a2a2a" stroke-width="0.35" font-size="14" fill="#333" text-anchor="middle">Feb</text>
<text x="249.7" y="526.8" font-family="Liberation Sans, Arial, sans-serif" stroke="#2a2a2a" stroke-width="0.35" font-size="14" fill="#333" text-anchor="middle">Mar</text>
<text x="318.7" y="526.8" font-family="Liberation Sans, Arial, sans-serif" stroke="#2a2a2a" stroke-width="0.35" font-size="14" fill="#333" text-anchor="middle">Apr</text>
<text x="389.1" y="526.8" font-family="Liberation Sans, Arial, sans-serif" stroke="#2a2a2a" stroke-width="0.35" font-size="14" fill="#333" text-anchor="middle">May</text>
<text x="457.8" y="526.8" font-family="Liberation Sans, Arial, sans-serif" stroke="#2a2a2a" stroke-width="0.35" font-size="14" fill="#333" text-anchor="middle">Jun</text>
<text x="523.5" y="526.8" font-family="Liberation Sans, Arial, sans-serif" stroke="#2a2a2a" stroke-width="0.35" font-size="14" fill="#333" text-anchor="middle">Jul</text>
<text x="597.3" y="526.8" font-family="Liberation Sans, Arial, sans-serif" stroke="#2a2a2a" stroke-width="0.35" font-size="14" fill="#333" text-anchor="middle">Aug</text>
<text x="668.1" y="526.8" font-family="Liberation Sans, Arial, sans-serif" stroke="#2a2a2a" stroke-width="0.35" font-size="14" fill="#333" text-anchor="middle">Sep</text>
<text x="734.6" y="526.8" font-family="Liberation Sans, Arial, sans-serif" stroke="#2a2a2a" stroke-width="0.35" font-size="14" fill="#333" text-anchor="middle">Oct</text>
<text x="806.7" y="526.8" font-family="Liberation Sans, Arial, sans-serif" stroke="#2a2a2a" stroke-width="0.35" font-size="14" fill="#333" text-anchor="middle">Nov</text>
<text x="874.8" y="526.8" font-family="Liberation Sans, Arial, sans-serif" stroke="#2a2a2a" stroke-width="0.35" font-size="14" fill="#333" text-anchor="middle">Dec</text>
<text x="946.3" y="65.3" font-family="Liberation Sans, Arial, sans-serif" stroke="#2a2a2a" stroke-width="0.35" font-size="14" fill="#333">1991-2020</text>
<path d="M927 60.5H940.5" stroke="#222" stroke-width="1.6"/>
<text x="946.3" y="85.8" font-family="Liberation Sans, Arial, sans-serif" stroke="#2a2a2a" stroke-width="0.35" font-size="14" fill="#333">1982-2010</text>
<path d="M927 81.0H934M938.5 81.0H940.5" stroke="#222" stroke-width="1.6"/>
<text x="946.3" y="106.2" font-family="Liberation Sans, Arial, sans-serif" stroke="#2a2a2a" stroke-width="0.35" font-size="14" fill="#333">Preliminary</text>
<circle cx="934" cy="101.4" r="1.1" fill="#7a0a10"/>
<text x="946.3" y="126.7" font-family="Liberation Sans, Arial, sans-serif" stroke="#2a2a2a" stroke-width="0.35" font-size="14" fill="#333">2026</text>
<path d="M927 121.9H941" stroke="#8b0a10" stroke-width="2.6"/>
<text x="946.3" y="147.1" font-family="Liberation Sans, Arial, sans-serif" stroke="#2a2a2a" stroke-width="0.35" font-size="14" fill="#333">2025</text>
<path d="M927 142.3H941" stroke="#e8b070" stroke-width="1.5"/>
<text x="946.3" y="167.6" font-family="Liberation Sans, Arial, sans-serif" stroke="#2a2a2a" stroke-width="0.35" font-size="14" fill="#333">2024</text>
<path d="M927 162.8H941" stroke="#d0d0d0" stroke-width="1"/>
<text x="946.3" y="188.1" font-family="Liberation Sans, Arial, sans-serif" stroke="#2a2a2a" stroke-width="0.35" font-size="14" fill="#333">2023</text>
<path d="M927 183.3H941" stroke="#d0d0d0" stroke-width="1"/>
<text x="946.3" y="208.5" font-family="Liberation Sans, Arial, sans-serif" stroke="#2a2a2a" stroke-width="0.35" font-size="14" fill="#333">2022</text>
<path d="M927 203.7H941" stroke="#d0d0d0" stroke-width="1"/>
<text x="946.3" y="229.0" font-family="Liberation Sans, Arial, sans-serif" stroke="#2a2a2a" stroke-width="0.35" font-size="14" fill="#333">2021</text>
<path d="M927 224.2H941" stroke="#d0d0d0" stroke-width="1"/>
<text x="946.3" y="249.4" font-family="Liberation Sans, Arial, sans-serif" stroke="#2a2a2a" stroke-width="0.35" font-size="14" fill="#333">2020</text>
<path d="M927 244.6H941" stroke="#d0d0d0" stroke-width="1"/>
<text x="946.3" y="269.9" font-family="Liberation Sans, Arial, sans-serif" stroke="#2a2a2a" stroke-width="0.35" font-size="14" fill="#333">2019</text>
<path d="M927 265.1H941" stroke="#d0d0d0" stroke-width="1"/>
<text x="946.3" y="290.4" font-family="Liberation Sans, Arial, sans-serif" stroke="#2a2a2a" stroke-width="0.35" font-size="14" fill="#333">2018</text>
<path d="M927 285.6H941" stroke="#d0d0d0" stroke-width="1"/>
<text x="946.3" y="310.8" font-family="Liberation Sans, Arial, sans-serif" stroke="#2a2a2a" stroke-width="0.35" font-size="14" fill="#333">2017</text>
<path d="M927 306.0H941" stroke="#d0d0d0" stroke-width="1"/>
<text x="946.3" y="331.3" font-family="Liberation Sans, Arial, sans-serif" stroke="#2a2a2a" stroke-width="0.35" font-size="14" fill="#333">2016</text>
<path d="M927 326.5H941" stroke="#d0d0d0" stroke-width="1"/>
<text x="946.3" y="351.7" font-family="Liberation Sans, Arial, sans-serif" stroke="#2a2a2a" stroke-width="0.35" font-size="14" fill="#333">2015</text>
<path d="M927 346.9H941" stroke="#d0d0d0" stroke-width="1"/>
<text x="946.3" y="372.2" font-family="Liberation Sans, Arial, sans-serif" stroke="#2a2a2a" stroke-width="0.35" font-size="14" fill="#333">2014</text>
<path d="M927 367.4H941" stroke="#d0d0d0" stroke-width="1"/>
<text x="946.3" y="392.7" font-family="Liberation Sans, Arial, sans-serif" stroke="#2a2a2a" stroke-width="0.35" font-size="14" fill="#333">2013</text>
<path d="M927 387.9H941" stroke="#d0d0d0" stroke-width="1"/>
<text x="946.3" y="413.1" font-family="Liberation Sans, Arial, sans-serif" stroke="#2a2a2a" stroke-width="0.35" font-size="14" fill="#333">2012</text>
<path d="M927 408.3H941" stroke="#d0d0d0" stroke-width="1"/>
<text x="946.3" y="433.6" font-family="Liberation Sans, Arial, sans-serif" stroke="#2a2a2a" stroke-width="0.35" font-size="14" fill="#333">2011</text>
<path d="M927 428.8H941" stroke="#d0d0d0" stroke-width="1"/>
<text x="946.3" y="454.0" font-family="Liberation Sans, Arial, sans-serif" stroke="#2a2a2a" stroke-width="0.35" font-size="14" fill="#333">2010</text>
<path d="M927 449.2H941" stroke="#d0d0d0" stroke-width="1"/>
<text x="946.3" y="474.5" font-family="Liberation Sans, Arial, sans-serif" stroke="#2a2a2a" stroke-width="0.35" font-size="14" fill="#333">2009</text>
<path d="M927 469.7H941" stroke="#d0d0d0" stroke-width="1"/>
<text x="946.3" y="495.0" font-family="Liberation Sans, Arial, sans-serif" stroke="#2a2a2a" stroke-width="0.35" font-size="14" fill="#333">2008</text>
<path d="M927 490.2H941" stroke="#d0d0d0" stroke-width="1"/>
<path d="M932.8 511.7L927.8 522.4H937.8Z" fill="#c8c8c8"/>
<text x="941.2" y="519.7" font-family="Liberation Sans, Arial, sans-serif" stroke="#2a2a2a" stroke-width="0.35" font-size="14.5" fill="#222">1/3</text>
<path d="M965.4 511H976.6L971 521.5Z" fill="#0d3a9e"/>
</svg></body></html>
